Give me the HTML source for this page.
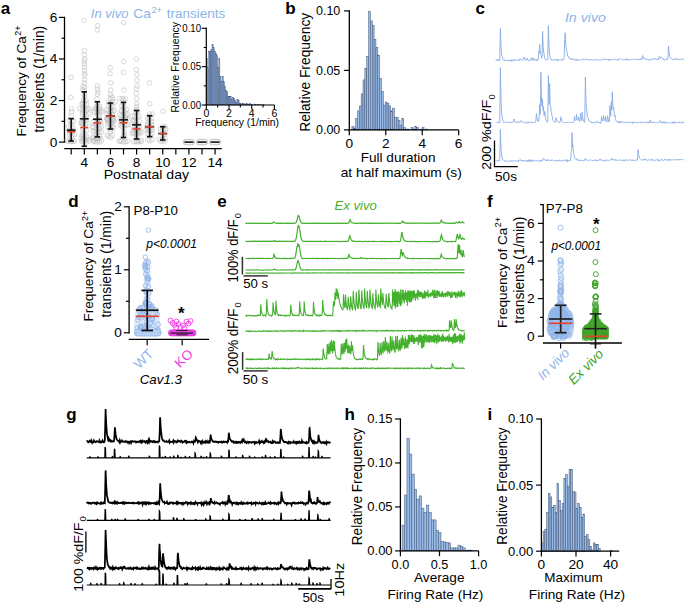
<!DOCTYPE html>
<html><head><meta charset="utf-8"><title>Figure</title>
<style>
html,body{margin:0;padding:0;background:#fff;}
body{width:685px;height:604px;overflow:hidden;}
svg{display:block;}
text{font-family:"Liberation Sans", sans-serif;}
</style></head><body>
<svg width="685" height="604" viewBox="0 0 685 604" font-family="&quot;Liberation Sans&quot;, sans-serif">
<rect width="685" height="604" fill="#fff"/>
<text x="0.80" y="13.80" font-size="17" text-anchor="start" fill="#000" font-weight="bold" >a</text>
<line x1="64.50" y1="16.80" x2="64.50" y2="142.70" stroke="#000" stroke-width="1.3" />
<line x1="59.00" y1="142.10" x2="64.50" y2="142.10" stroke="#000" stroke-width="1.2" />
<line x1="61.50" y1="121.32" x2="64.50" y2="121.32" stroke="#000" stroke-width="1.2" />
<line x1="59.00" y1="100.53" x2="64.50" y2="100.53" stroke="#000" stroke-width="1.2" />
<line x1="61.50" y1="79.75" x2="64.50" y2="79.75" stroke="#000" stroke-width="1.2" />
<line x1="59.00" y1="58.97" x2="64.50" y2="58.97" stroke="#000" stroke-width="1.2" />
<line x1="61.50" y1="38.18" x2="64.50" y2="38.18" stroke="#000" stroke-width="1.2" />
<line x1="59.00" y1="17.40" x2="64.50" y2="17.40" stroke="#000" stroke-width="1.2" />
<text x="57.30" y="146.55" font-size="13.7" text-anchor="end" fill="#000" >0</text>
<text x="57.30" y="104.98" font-size="13.7" text-anchor="end" fill="#000" >2</text>
<text x="57.30" y="63.42" font-size="13.7" text-anchor="end" fill="#000" >4</text>
<text x="57.30" y="21.85" font-size="13.7" text-anchor="end" fill="#000" >6</text>
<line x1="64.20" y1="148.70" x2="221.80" y2="148.70" stroke="#000" stroke-width="1.3" />
<line x1="71.20" y1="148.70" x2="71.20" y2="154.40" stroke="#000" stroke-width="1.2" />
<line x1="84.28" y1="148.70" x2="84.28" y2="154.40" stroke="#000" stroke-width="1.2" />
<line x1="97.36" y1="148.70" x2="97.36" y2="154.40" stroke="#000" stroke-width="1.2" />
<line x1="110.44" y1="148.70" x2="110.44" y2="154.40" stroke="#000" stroke-width="1.2" />
<line x1="123.52" y1="148.70" x2="123.52" y2="154.40" stroke="#000" stroke-width="1.2" />
<line x1="136.60" y1="148.70" x2="136.60" y2="154.40" stroke="#000" stroke-width="1.2" />
<line x1="149.68" y1="148.70" x2="149.68" y2="154.40" stroke="#000" stroke-width="1.2" />
<line x1="162.76" y1="148.70" x2="162.76" y2="154.40" stroke="#000" stroke-width="1.2" />
<line x1="175.84" y1="148.70" x2="175.84" y2="154.40" stroke="#000" stroke-width="1.2" />
<line x1="188.92" y1="148.70" x2="188.92" y2="154.40" stroke="#000" stroke-width="1.2" />
<line x1="202.00" y1="148.70" x2="202.00" y2="154.40" stroke="#000" stroke-width="1.2" />
<line x1="215.08" y1="148.70" x2="215.08" y2="154.40" stroke="#000" stroke-width="1.2" />
<text x="84.28" y="167.00" font-size="13.7" text-anchor="middle" fill="#000" >4</text>
<text x="110.44" y="167.00" font-size="13.7" text-anchor="middle" fill="#000" >6</text>
<text x="136.60" y="167.00" font-size="13.7" text-anchor="middle" fill="#000" >8</text>
<text x="162.76" y="167.00" font-size="13.7" text-anchor="middle" fill="#000" >10</text>
<text x="188.92" y="167.00" font-size="13.7" text-anchor="middle" fill="#000" >12</text>
<text x="215.08" y="167.00" font-size="13.7" text-anchor="middle" fill="#000" >14</text>
<text x="103.70" y="179.20" font-size="13.5" text-anchor="start" fill="#000" textLength="85.4" lengthAdjust="spacingAndGlyphs" >Postnatal day</text>
<text x="26.50" y="136.40" font-size="13.6" fill="#000" transform="rotate(-90 26.50 136.40)" textLength="100.3" lengthAdjust="spacingAndGlyphs">Frequency of Ca</text>
<text x="21.30" y="35.80" font-size="9.3" fill="#000" transform="rotate(-90 21.30 35.80)" textLength="10.2" lengthAdjust="spacingAndGlyphs">2+</text>
<text x="43.80" y="132.60" font-size="13.8" fill="#000" transform="rotate(-90 43.80 132.60)" textLength="106.8" lengthAdjust="spacingAndGlyphs">transients (1/min)</text>
<text x="90.80" y="17.60" font-size="13.3" text-anchor="start" fill="#8db4e8" font-style="italic" textLength="37.6" lengthAdjust="spacingAndGlyphs" >In vivo</text>
<text x="133.30" y="17.60" font-size="13.3" text-anchor="start" fill="#8db4e8" textLength="17.7" lengthAdjust="spacingAndGlyphs" >Ca</text>
<text x="151.40" y="12.60" font-size="9.3" text-anchor="start" fill="#8db4e8" textLength="10.4" lengthAdjust="spacingAndGlyphs" >2+</text>
<text x="166.70" y="17.60" font-size="13.3" text-anchor="start" fill="#8db4e8" textLength="58.6" lengthAdjust="spacingAndGlyphs" >transients</text>
<circle cx="71.0" cy="141.7" r="2.3" stroke="#b9b9b9" stroke-width="0.55" fill="none"/>
<circle cx="73.4" cy="141.4" r="2.3" stroke="#b9b9b9" stroke-width="0.55" fill="none"/>
<circle cx="68.4" cy="141.4" r="2.3" stroke="#b9b9b9" stroke-width="0.55" fill="none"/>
<circle cx="70.8" cy="141.2" r="2.3" stroke="#b9b9b9" stroke-width="0.55" fill="none"/>
<circle cx="74.4" cy="141.1" r="2.3" stroke="#b9b9b9" stroke-width="0.55" fill="none"/>
<circle cx="67.1" cy="139.9" r="2.3" stroke="#b9b9b9" stroke-width="0.55" fill="none"/>
<circle cx="71.2" cy="137.0" r="2.3" stroke="#b9b9b9" stroke-width="0.55" fill="none"/>
<circle cx="72.5" cy="135.3" r="2.3" stroke="#b9b9b9" stroke-width="0.55" fill="none"/>
<circle cx="70.0" cy="134.7" r="2.3" stroke="#b9b9b9" stroke-width="0.55" fill="none"/>
<circle cx="74.6" cy="134.6" r="2.3" stroke="#b9b9b9" stroke-width="0.55" fill="none"/>
<circle cx="71.6" cy="132.8" r="2.3" stroke="#b9b9b9" stroke-width="0.55" fill="none"/>
<circle cx="69.8" cy="132.4" r="2.3" stroke="#b9b9b9" stroke-width="0.55" fill="none"/>
<circle cx="72.7" cy="130.7" r="2.3" stroke="#b9b9b9" stroke-width="0.55" fill="none"/>
<circle cx="70.8" cy="130.2" r="2.3" stroke="#b9b9b9" stroke-width="0.55" fill="none"/>
<circle cx="71.1" cy="127.8" r="2.3" stroke="#b9b9b9" stroke-width="0.55" fill="none"/>
<circle cx="72.8" cy="126.8" r="2.3" stroke="#b9b9b9" stroke-width="0.55" fill="none"/>
<circle cx="68.6" cy="126.7" r="2.3" stroke="#b9b9b9" stroke-width="0.55" fill="none"/>
<circle cx="70.9" cy="124.4" r="2.3" stroke="#b9b9b9" stroke-width="0.55" fill="none"/>
<circle cx="71.4" cy="121.5" r="2.3" stroke="#b9b9b9" stroke-width="0.55" fill="none"/>
<circle cx="73.5" cy="121.4" r="2.3" stroke="#b9b9b9" stroke-width="0.55" fill="none"/>
<circle cx="69.7" cy="120.3" r="2.3" stroke="#b9b9b9" stroke-width="0.55" fill="none"/>
<circle cx="71.1" cy="115.8" r="2.3" stroke="#b9b9b9" stroke-width="0.55" fill="none"/>
<circle cx="71.6" cy="112.0" r="2.3" stroke="#b9b9b9" stroke-width="0.55" fill="none"/>
<circle cx="71.5" cy="108.8" r="2.3" stroke="#b9b9b9" stroke-width="0.55" fill="none"/>
<circle cx="70.8" cy="97.4" r="2.3" stroke="#b9b9b9" stroke-width="0.55" fill="none"/>
<circle cx="71.0" cy="77.3" r="2.3" stroke="#b9b9b9" stroke-width="0.55" fill="none"/>
<circle cx="84.1" cy="142.1" r="2.3" stroke="#b9b9b9" stroke-width="0.55" fill="none"/>
<circle cx="86.4" cy="142.1" r="2.3" stroke="#b9b9b9" stroke-width="0.55" fill="none"/>
<circle cx="82.1" cy="141.4" r="2.3" stroke="#b9b9b9" stroke-width="0.55" fill="none"/>
<circle cx="88.8" cy="140.9" r="2.3" stroke="#b9b9b9" stroke-width="0.55" fill="none"/>
<circle cx="81.8" cy="140.8" r="2.3" stroke="#b9b9b9" stroke-width="0.55" fill="none"/>
<circle cx="85.2" cy="140.0" r="2.3" stroke="#b9b9b9" stroke-width="0.55" fill="none"/>
<circle cx="85.2" cy="139.9" r="2.3" stroke="#b9b9b9" stroke-width="0.55" fill="none"/>
<circle cx="87.0" cy="139.1" r="2.3" stroke="#b9b9b9" stroke-width="0.55" fill="none"/>
<circle cx="82.7" cy="139.1" r="2.3" stroke="#b9b9b9" stroke-width="0.55" fill="none"/>
<circle cx="81.1" cy="138.2" r="2.3" stroke="#b9b9b9" stroke-width="0.55" fill="none"/>
<circle cx="84.1" cy="137.2" r="2.3" stroke="#b9b9b9" stroke-width="0.55" fill="none"/>
<circle cx="86.8" cy="136.7" r="2.3" stroke="#b9b9b9" stroke-width="0.55" fill="none"/>
<circle cx="82.3" cy="135.5" r="2.3" stroke="#b9b9b9" stroke-width="0.55" fill="none"/>
<circle cx="84.5" cy="134.7" r="2.3" stroke="#b9b9b9" stroke-width="0.55" fill="none"/>
<circle cx="82.6" cy="133.4" r="2.3" stroke="#b9b9b9" stroke-width="0.55" fill="none"/>
<circle cx="84.1" cy="130.6" r="2.3" stroke="#b9b9b9" stroke-width="0.55" fill="none"/>
<circle cx="86.4" cy="130.3" r="2.3" stroke="#b9b9b9" stroke-width="0.55" fill="none"/>
<circle cx="82.7" cy="129.1" r="2.3" stroke="#b9b9b9" stroke-width="0.55" fill="none"/>
<circle cx="83.9" cy="126.1" r="2.3" stroke="#b9b9b9" stroke-width="0.55" fill="none"/>
<circle cx="85.3" cy="124.5" r="2.3" stroke="#b9b9b9" stroke-width="0.55" fill="none"/>
<circle cx="83.1" cy="124.1" r="2.3" stroke="#b9b9b9" stroke-width="0.55" fill="none"/>
<circle cx="87.6" cy="123.2" r="2.3" stroke="#b9b9b9" stroke-width="0.55" fill="none"/>
<circle cx="80.8" cy="123.1" r="2.3" stroke="#b9b9b9" stroke-width="0.55" fill="none"/>
<circle cx="82.6" cy="123.1" r="2.3" stroke="#b9b9b9" stroke-width="0.55" fill="none"/>
<circle cx="81.2" cy="122.5" r="2.3" stroke="#b9b9b9" stroke-width="0.55" fill="none"/>
<circle cx="84.1" cy="121.8" r="2.3" stroke="#b9b9b9" stroke-width="0.55" fill="none"/>
<circle cx="83.4" cy="121.6" r="2.3" stroke="#b9b9b9" stroke-width="0.55" fill="none"/>
<circle cx="85.8" cy="120.7" r="2.3" stroke="#b9b9b9" stroke-width="0.55" fill="none"/>
<circle cx="84.2" cy="118.5" r="2.3" stroke="#b9b9b9" stroke-width="0.55" fill="none"/>
<circle cx="84.3" cy="116.2" r="2.3" stroke="#b9b9b9" stroke-width="0.55" fill="none"/>
<circle cx="86.4" cy="115.2" r="2.3" stroke="#b9b9b9" stroke-width="0.55" fill="none"/>
<circle cx="82.4" cy="114.7" r="2.3" stroke="#b9b9b9" stroke-width="0.55" fill="none"/>
<circle cx="88.8" cy="114.1" r="2.3" stroke="#b9b9b9" stroke-width="0.55" fill="none"/>
<circle cx="84.7" cy="113.2" r="2.3" stroke="#b9b9b9" stroke-width="0.55" fill="none"/>
<circle cx="82.6" cy="112.4" r="2.3" stroke="#b9b9b9" stroke-width="0.55" fill="none"/>
<circle cx="84.4" cy="110.6" r="2.3" stroke="#b9b9b9" stroke-width="0.55" fill="none"/>
<circle cx="86.7" cy="110.3" r="2.3" stroke="#b9b9b9" stroke-width="0.55" fill="none"/>
<circle cx="82.2" cy="109.3" r="2.3" stroke="#b9b9b9" stroke-width="0.55" fill="none"/>
<circle cx="88.1" cy="108.9" r="2.3" stroke="#b9b9b9" stroke-width="0.55" fill="none"/>
<circle cx="79.7" cy="108.8" r="2.3" stroke="#b9b9b9" stroke-width="0.55" fill="none"/>
<circle cx="88.2" cy="108.7" r="2.3" stroke="#b9b9b9" stroke-width="0.55" fill="none"/>
<circle cx="84.7" cy="108.3" r="2.3" stroke="#b9b9b9" stroke-width="0.55" fill="none"/>
<circle cx="83.3" cy="106.3" r="2.3" stroke="#b9b9b9" stroke-width="0.55" fill="none"/>
<circle cx="84.4" cy="104.4" r="2.3" stroke="#b9b9b9" stroke-width="0.55" fill="none"/>
<circle cx="86.7" cy="103.9" r="2.3" stroke="#b9b9b9" stroke-width="0.55" fill="none"/>
<circle cx="82.1" cy="103.8" r="2.3" stroke="#b9b9b9" stroke-width="0.55" fill="none"/>
<circle cx="83.0" cy="103.3" r="2.3" stroke="#b9b9b9" stroke-width="0.55" fill="none"/>
<circle cx="84.5" cy="101.9" r="2.3" stroke="#b9b9b9" stroke-width="0.55" fill="none"/>
<circle cx="86.1" cy="100.5" r="2.3" stroke="#b9b9b9" stroke-width="0.55" fill="none"/>
<circle cx="83.3" cy="100.4" r="2.3" stroke="#b9b9b9" stroke-width="0.55" fill="none"/>
<circle cx="84.6" cy="96.8" r="2.3" stroke="#b9b9b9" stroke-width="0.55" fill="none"/>
<circle cx="84.5" cy="94.6" r="2.3" stroke="#b9b9b9" stroke-width="0.55" fill="none"/>
<circle cx="84.4" cy="90.8" r="2.3" stroke="#b9b9b9" stroke-width="0.55" fill="none"/>
<circle cx="82.7" cy="89.9" r="2.3" stroke="#b9b9b9" stroke-width="0.55" fill="none"/>
<circle cx="84.6" cy="87.6" r="2.3" stroke="#b9b9b9" stroke-width="0.55" fill="none"/>
<circle cx="83.0" cy="86.0" r="2.3" stroke="#b9b9b9" stroke-width="0.55" fill="none"/>
<circle cx="84.4" cy="82.9" r="2.3" stroke="#b9b9b9" stroke-width="0.55" fill="none"/>
<circle cx="84.6" cy="79.8" r="2.3" stroke="#b9b9b9" stroke-width="0.55" fill="none"/>
<circle cx="84.6" cy="75.6" r="2.3" stroke="#b9b9b9" stroke-width="0.55" fill="none"/>
<circle cx="84.8" cy="73.5" r="2.3" stroke="#b9b9b9" stroke-width="0.55" fill="none"/>
<circle cx="84.5" cy="70.4" r="2.3" stroke="#b9b9b9" stroke-width="0.55" fill="none"/>
<circle cx="84.6" cy="67.3" r="2.3" stroke="#b9b9b9" stroke-width="0.55" fill="none"/>
<circle cx="84.3" cy="64.2" r="2.3" stroke="#b9b9b9" stroke-width="0.55" fill="none"/>
<circle cx="84.4" cy="61.0" r="2.3" stroke="#b9b9b9" stroke-width="0.55" fill="none"/>
<circle cx="84.8" cy="59.0" r="2.3" stroke="#b9b9b9" stroke-width="0.55" fill="none"/>
<circle cx="84.3" cy="54.8" r="2.3" stroke="#b9b9b9" stroke-width="0.55" fill="none"/>
<circle cx="84.4" cy="50.7" r="2.3" stroke="#b9b9b9" stroke-width="0.55" fill="none"/>
<circle cx="83.9" cy="20.5" r="2.3" stroke="#b9b9b9" stroke-width="0.55" fill="none"/>
<circle cx="97.4" cy="142.0" r="2.3" stroke="#b9b9b9" stroke-width="0.55" fill="none"/>
<circle cx="99.6" cy="141.9" r="2.3" stroke="#b9b9b9" stroke-width="0.55" fill="none"/>
<circle cx="95.2" cy="141.8" r="2.3" stroke="#b9b9b9" stroke-width="0.55" fill="none"/>
<circle cx="93.5" cy="141.3" r="2.3" stroke="#b9b9b9" stroke-width="0.55" fill="none"/>
<circle cx="101.5" cy="140.4" r="2.3" stroke="#b9b9b9" stroke-width="0.55" fill="none"/>
<circle cx="93.1" cy="140.1" r="2.3" stroke="#b9b9b9" stroke-width="0.55" fill="none"/>
<circle cx="97.7" cy="139.6" r="2.3" stroke="#b9b9b9" stroke-width="0.55" fill="none"/>
<circle cx="95.2" cy="138.9" r="2.3" stroke="#b9b9b9" stroke-width="0.55" fill="none"/>
<circle cx="99.9" cy="138.5" r="2.3" stroke="#b9b9b9" stroke-width="0.55" fill="none"/>
<circle cx="97.9" cy="138.3" r="2.3" stroke="#b9b9b9" stroke-width="0.55" fill="none"/>
<circle cx="93.4" cy="137.8" r="2.3" stroke="#b9b9b9" stroke-width="0.55" fill="none"/>
<circle cx="92.6" cy="137.5" r="2.3" stroke="#b9b9b9" stroke-width="0.55" fill="none"/>
<circle cx="96.6" cy="137.3" r="2.3" stroke="#b9b9b9" stroke-width="0.55" fill="none"/>
<circle cx="99.4" cy="136.4" r="2.3" stroke="#b9b9b9" stroke-width="0.55" fill="none"/>
<circle cx="97.1" cy="133.7" r="2.3" stroke="#b9b9b9" stroke-width="0.55" fill="none"/>
<circle cx="98.9" cy="132.5" r="2.3" stroke="#b9b9b9" stroke-width="0.55" fill="none"/>
<circle cx="95.2" cy="132.1" r="2.3" stroke="#b9b9b9" stroke-width="0.55" fill="none"/>
<circle cx="101.1" cy="132.0" r="2.3" stroke="#b9b9b9" stroke-width="0.55" fill="none"/>
<circle cx="97.0" cy="131.8" r="2.3" stroke="#b9b9b9" stroke-width="0.55" fill="none"/>
<circle cx="93.3" cy="131.2" r="2.3" stroke="#b9b9b9" stroke-width="0.55" fill="none"/>
<circle cx="97.6" cy="128.8" r="2.3" stroke="#b9b9b9" stroke-width="0.55" fill="none"/>
<circle cx="100.1" cy="128.6" r="2.3" stroke="#b9b9b9" stroke-width="0.55" fill="none"/>
<circle cx="95.7" cy="128.2" r="2.3" stroke="#b9b9b9" stroke-width="0.55" fill="none"/>
<circle cx="92.9" cy="127.6" r="2.3" stroke="#b9b9b9" stroke-width="0.55" fill="none"/>
<circle cx="98.5" cy="126.9" r="2.3" stroke="#b9b9b9" stroke-width="0.55" fill="none"/>
<circle cx="101.3" cy="126.8" r="2.3" stroke="#b9b9b9" stroke-width="0.55" fill="none"/>
<circle cx="92.8" cy="126.4" r="2.3" stroke="#b9b9b9" stroke-width="0.55" fill="none"/>
<circle cx="97.5" cy="124.7" r="2.3" stroke="#b9b9b9" stroke-width="0.55" fill="none"/>
<circle cx="95.9" cy="123.0" r="2.3" stroke="#b9b9b9" stroke-width="0.55" fill="none"/>
<circle cx="98.4" cy="122.6" r="2.3" stroke="#b9b9b9" stroke-width="0.55" fill="none"/>
<circle cx="100.8" cy="122.3" r="2.3" stroke="#b9b9b9" stroke-width="0.55" fill="none"/>
<circle cx="93.9" cy="122.0" r="2.3" stroke="#b9b9b9" stroke-width="0.55" fill="none"/>
<circle cx="97.4" cy="120.0" r="2.3" stroke="#b9b9b9" stroke-width="0.55" fill="none"/>
<circle cx="99.9" cy="119.5" r="2.3" stroke="#b9b9b9" stroke-width="0.55" fill="none"/>
<circle cx="97.6" cy="115.2" r="2.3" stroke="#b9b9b9" stroke-width="0.55" fill="none"/>
<circle cx="99.7" cy="114.6" r="2.3" stroke="#b9b9b9" stroke-width="0.55" fill="none"/>
<circle cx="97.6" cy="112.4" r="2.3" stroke="#b9b9b9" stroke-width="0.55" fill="none"/>
<circle cx="100.1" cy="112.2" r="2.3" stroke="#b9b9b9" stroke-width="0.55" fill="none"/>
<circle cx="94.6" cy="112.1" r="2.3" stroke="#b9b9b9" stroke-width="0.55" fill="none"/>
<circle cx="101.5" cy="111.6" r="2.3" stroke="#b9b9b9" stroke-width="0.55" fill="none"/>
<circle cx="93.9" cy="111.0" r="2.3" stroke="#b9b9b9" stroke-width="0.55" fill="none"/>
<circle cx="98.8" cy="110.9" r="2.3" stroke="#b9b9b9" stroke-width="0.55" fill="none"/>
<circle cx="96.7" cy="109.7" r="2.3" stroke="#b9b9b9" stroke-width="0.55" fill="none"/>
<circle cx="100.4" cy="109.2" r="2.3" stroke="#b9b9b9" stroke-width="0.55" fill="none"/>
<circle cx="94.7" cy="108.6" r="2.3" stroke="#b9b9b9" stroke-width="0.55" fill="none"/>
<circle cx="98.2" cy="108.0" r="2.3" stroke="#b9b9b9" stroke-width="0.55" fill="none"/>
<circle cx="96.5" cy="106.5" r="2.3" stroke="#b9b9b9" stroke-width="0.55" fill="none"/>
<circle cx="99.7" cy="106.5" r="2.3" stroke="#b9b9b9" stroke-width="0.55" fill="none"/>
<circle cx="97.5" cy="104.5" r="2.3" stroke="#b9b9b9" stroke-width="0.55" fill="none"/>
<circle cx="97.1" cy="98.8" r="2.3" stroke="#b9b9b9" stroke-width="0.55" fill="none"/>
<circle cx="97.5" cy="94.3" r="2.3" stroke="#b9b9b9" stroke-width="0.55" fill="none"/>
<circle cx="98.2" cy="92.2" r="2.3" stroke="#b9b9b9" stroke-width="0.55" fill="none"/>
<circle cx="97.5" cy="89.1" r="2.3" stroke="#b9b9b9" stroke-width="0.55" fill="none"/>
<circle cx="97.5" cy="86.0" r="2.3" stroke="#b9b9b9" stroke-width="0.55" fill="none"/>
<circle cx="97.1" cy="29.9" r="2.3" stroke="#b9b9b9" stroke-width="0.55" fill="none"/>
<circle cx="97.7" cy="25.7" r="2.3" stroke="#b9b9b9" stroke-width="0.55" fill="none"/>
<circle cx="110.8" cy="137.2" r="2.3" stroke="#b9b9b9" stroke-width="0.55" fill="none"/>
<circle cx="108.7" cy="136.6" r="2.3" stroke="#b9b9b9" stroke-width="0.55" fill="none"/>
<circle cx="112.2" cy="135.5" r="2.3" stroke="#b9b9b9" stroke-width="0.55" fill="none"/>
<circle cx="107.1" cy="135.1" r="2.3" stroke="#b9b9b9" stroke-width="0.55" fill="none"/>
<circle cx="110.5" cy="131.5" r="2.3" stroke="#b9b9b9" stroke-width="0.55" fill="none"/>
<circle cx="112.2" cy="129.9" r="2.3" stroke="#b9b9b9" stroke-width="0.55" fill="none"/>
<circle cx="110.0" cy="128.9" r="2.3" stroke="#b9b9b9" stroke-width="0.55" fill="none"/>
<circle cx="111.3" cy="127.4" r="2.3" stroke="#b9b9b9" stroke-width="0.55" fill="none"/>
<circle cx="108.1" cy="127.3" r="2.3" stroke="#b9b9b9" stroke-width="0.55" fill="none"/>
<circle cx="113.4" cy="126.9" r="2.3" stroke="#b9b9b9" stroke-width="0.55" fill="none"/>
<circle cx="110.2" cy="125.5" r="2.3" stroke="#b9b9b9" stroke-width="0.55" fill="none"/>
<circle cx="112.6" cy="124.9" r="2.3" stroke="#b9b9b9" stroke-width="0.55" fill="none"/>
<circle cx="110.3" cy="123.4" r="2.3" stroke="#b9b9b9" stroke-width="0.55" fill="none"/>
<circle cx="108.0" cy="123.2" r="2.3" stroke="#b9b9b9" stroke-width="0.55" fill="none"/>
<circle cx="111.9" cy="122.6" r="2.3" stroke="#b9b9b9" stroke-width="0.55" fill="none"/>
<circle cx="109.8" cy="121.1" r="2.3" stroke="#b9b9b9" stroke-width="0.55" fill="none"/>
<circle cx="113.7" cy="121.1" r="2.3" stroke="#b9b9b9" stroke-width="0.55" fill="none"/>
<circle cx="107.8" cy="120.9" r="2.3" stroke="#b9b9b9" stroke-width="0.55" fill="none"/>
<circle cx="110.1" cy="120.7" r="2.3" stroke="#b9b9b9" stroke-width="0.55" fill="none"/>
<circle cx="107.7" cy="120.3" r="2.3" stroke="#b9b9b9" stroke-width="0.55" fill="none"/>
<circle cx="114.1" cy="120.3" r="2.3" stroke="#b9b9b9" stroke-width="0.55" fill="none"/>
<circle cx="112.6" cy="119.8" r="2.3" stroke="#b9b9b9" stroke-width="0.55" fill="none"/>
<circle cx="107.4" cy="119.4" r="2.3" stroke="#b9b9b9" stroke-width="0.55" fill="none"/>
<circle cx="112.0" cy="119.2" r="2.3" stroke="#b9b9b9" stroke-width="0.55" fill="none"/>
<circle cx="109.2" cy="119.1" r="2.3" stroke="#b9b9b9" stroke-width="0.55" fill="none"/>
<circle cx="107.0" cy="118.5" r="2.3" stroke="#b9b9b9" stroke-width="0.55" fill="none"/>
<circle cx="107.0" cy="118.3" r="2.3" stroke="#b9b9b9" stroke-width="0.55" fill="none"/>
<circle cx="113.8" cy="117.9" r="2.3" stroke="#b9b9b9" stroke-width="0.55" fill="none"/>
<circle cx="110.2" cy="116.1" r="2.3" stroke="#b9b9b9" stroke-width="0.55" fill="none"/>
<circle cx="112.3" cy="114.8" r="2.3" stroke="#b9b9b9" stroke-width="0.55" fill="none"/>
<circle cx="109.2" cy="114.1" r="2.3" stroke="#b9b9b9" stroke-width="0.55" fill="none"/>
<circle cx="106.7" cy="113.8" r="2.3" stroke="#b9b9b9" stroke-width="0.55" fill="none"/>
<circle cx="110.4" cy="112.1" r="2.3" stroke="#b9b9b9" stroke-width="0.55" fill="none"/>
<circle cx="112.9" cy="111.6" r="2.3" stroke="#b9b9b9" stroke-width="0.55" fill="none"/>
<circle cx="107.8" cy="111.2" r="2.3" stroke="#b9b9b9" stroke-width="0.55" fill="none"/>
<circle cx="114.4" cy="110.4" r="2.3" stroke="#b9b9b9" stroke-width="0.55" fill="none"/>
<circle cx="111.1" cy="110.0" r="2.3" stroke="#b9b9b9" stroke-width="0.55" fill="none"/>
<circle cx="106.4" cy="109.6" r="2.3" stroke="#b9b9b9" stroke-width="0.55" fill="none"/>
<circle cx="110.5" cy="107.9" r="2.3" stroke="#b9b9b9" stroke-width="0.55" fill="none"/>
<circle cx="112.5" cy="106.7" r="2.3" stroke="#b9b9b9" stroke-width="0.55" fill="none"/>
<circle cx="110.5" cy="105.6" r="2.3" stroke="#b9b9b9" stroke-width="0.55" fill="none"/>
<circle cx="108.3" cy="105.3" r="2.3" stroke="#b9b9b9" stroke-width="0.55" fill="none"/>
<circle cx="110.2" cy="103.4" r="2.3" stroke="#b9b9b9" stroke-width="0.55" fill="none"/>
<circle cx="112.4" cy="102.2" r="2.3" stroke="#b9b9b9" stroke-width="0.55" fill="none"/>
<circle cx="108.3" cy="102.1" r="2.3" stroke="#b9b9b9" stroke-width="0.55" fill="none"/>
<circle cx="115.0" cy="102.1" r="2.3" stroke="#b9b9b9" stroke-width="0.55" fill="none"/>
<circle cx="110.3" cy="98.5" r="2.3" stroke="#b9b9b9" stroke-width="0.55" fill="none"/>
<circle cx="112.7" cy="97.9" r="2.3" stroke="#b9b9b9" stroke-width="0.55" fill="none"/>
<circle cx="111.4" cy="96.4" r="2.3" stroke="#b9b9b9" stroke-width="0.55" fill="none"/>
<circle cx="110.2" cy="94.3" r="2.3" stroke="#b9b9b9" stroke-width="0.55" fill="none"/>
<circle cx="110.8" cy="90.1" r="2.3" stroke="#b9b9b9" stroke-width="0.55" fill="none"/>
<circle cx="110.8" cy="82.9" r="2.3" stroke="#b9b9b9" stroke-width="0.55" fill="none"/>
<circle cx="110.1" cy="73.7" r="2.3" stroke="#b9b9b9" stroke-width="0.55" fill="none"/>
<circle cx="110.2" cy="67.7" r="2.3" stroke="#b9b9b9" stroke-width="0.55" fill="none"/>
<circle cx="123.8" cy="142.0" r="2.3" stroke="#b9b9b9" stroke-width="0.55" fill="none"/>
<circle cx="125.7" cy="141.8" r="2.3" stroke="#b9b9b9" stroke-width="0.55" fill="none"/>
<circle cx="121.7" cy="141.4" r="2.3" stroke="#b9b9b9" stroke-width="0.55" fill="none"/>
<circle cx="127.9" cy="141.3" r="2.3" stroke="#b9b9b9" stroke-width="0.55" fill="none"/>
<circle cx="119.2" cy="141.3" r="2.3" stroke="#b9b9b9" stroke-width="0.55" fill="none"/>
<circle cx="120.4" cy="140.6" r="2.3" stroke="#b9b9b9" stroke-width="0.55" fill="none"/>
<circle cx="123.5" cy="136.7" r="2.3" stroke="#b9b9b9" stroke-width="0.55" fill="none"/>
<circle cx="124.3" cy="134.8" r="2.3" stroke="#b9b9b9" stroke-width="0.55" fill="none"/>
<circle cx="123.8" cy="132.1" r="2.3" stroke="#b9b9b9" stroke-width="0.55" fill="none"/>
<circle cx="123.8" cy="128.0" r="2.3" stroke="#b9b9b9" stroke-width="0.55" fill="none"/>
<circle cx="121.9" cy="126.8" r="2.3" stroke="#b9b9b9" stroke-width="0.55" fill="none"/>
<circle cx="124.4" cy="125.5" r="2.3" stroke="#b9b9b9" stroke-width="0.55" fill="none"/>
<circle cx="126.6" cy="125.1" r="2.3" stroke="#b9b9b9" stroke-width="0.55" fill="none"/>
<circle cx="120.4" cy="125.0" r="2.3" stroke="#b9b9b9" stroke-width="0.55" fill="none"/>
<circle cx="124.4" cy="124.7" r="2.3" stroke="#b9b9b9" stroke-width="0.55" fill="none"/>
<circle cx="128.2" cy="124.6" r="2.3" stroke="#b9b9b9" stroke-width="0.55" fill="none"/>
<circle cx="122.1" cy="123.9" r="2.3" stroke="#b9b9b9" stroke-width="0.55" fill="none"/>
<circle cx="123.8" cy="121.8" r="2.3" stroke="#b9b9b9" stroke-width="0.55" fill="none"/>
<circle cx="121.9" cy="121.5" r="2.3" stroke="#b9b9b9" stroke-width="0.55" fill="none"/>
<circle cx="126.1" cy="120.7" r="2.3" stroke="#b9b9b9" stroke-width="0.55" fill="none"/>
<circle cx="123.8" cy="119.6" r="2.3" stroke="#b9b9b9" stroke-width="0.55" fill="none"/>
<circle cx="120.4" cy="119.6" r="2.3" stroke="#b9b9b9" stroke-width="0.55" fill="none"/>
<circle cx="127.4" cy="118.9" r="2.3" stroke="#b9b9b9" stroke-width="0.55" fill="none"/>
<circle cx="125.6" cy="118.1" r="2.3" stroke="#b9b9b9" stroke-width="0.55" fill="none"/>
<circle cx="125.5" cy="118.1" r="2.3" stroke="#b9b9b9" stroke-width="0.55" fill="none"/>
<circle cx="123.7" cy="116.7" r="2.3" stroke="#b9b9b9" stroke-width="0.55" fill="none"/>
<circle cx="121.6" cy="116.0" r="2.3" stroke="#b9b9b9" stroke-width="0.55" fill="none"/>
<circle cx="126.1" cy="115.6" r="2.3" stroke="#b9b9b9" stroke-width="0.55" fill="none"/>
<circle cx="119.6" cy="114.8" r="2.3" stroke="#b9b9b9" stroke-width="0.55" fill="none"/>
<circle cx="123.4" cy="114.2" r="2.3" stroke="#b9b9b9" stroke-width="0.55" fill="none"/>
<circle cx="127.1" cy="113.7" r="2.3" stroke="#b9b9b9" stroke-width="0.55" fill="none"/>
<circle cx="123.1" cy="111.6" r="2.3" stroke="#b9b9b9" stroke-width="0.55" fill="none"/>
<circle cx="125.2" cy="111.4" r="2.3" stroke="#b9b9b9" stroke-width="0.55" fill="none"/>
<circle cx="121.2" cy="110.4" r="2.3" stroke="#b9b9b9" stroke-width="0.55" fill="none"/>
<circle cx="126.6" cy="109.6" r="2.3" stroke="#b9b9b9" stroke-width="0.55" fill="none"/>
<circle cx="123.3" cy="108.8" r="2.3" stroke="#b9b9b9" stroke-width="0.55" fill="none"/>
<circle cx="123.9" cy="106.1" r="2.3" stroke="#b9b9b9" stroke-width="0.55" fill="none"/>
<circle cx="121.9" cy="105.8" r="2.3" stroke="#b9b9b9" stroke-width="0.55" fill="none"/>
<circle cx="123.4" cy="103.4" r="2.3" stroke="#b9b9b9" stroke-width="0.55" fill="none"/>
<circle cx="123.6" cy="100.1" r="2.3" stroke="#b9b9b9" stroke-width="0.55" fill="none"/>
<circle cx="122.4" cy="98.5" r="2.3" stroke="#b9b9b9" stroke-width="0.55" fill="none"/>
<circle cx="125.3" cy="98.4" r="2.3" stroke="#b9b9b9" stroke-width="0.55" fill="none"/>
<circle cx="119.8" cy="98.4" r="2.3" stroke="#b9b9b9" stroke-width="0.55" fill="none"/>
<circle cx="123.9" cy="90.1" r="2.3" stroke="#b9b9b9" stroke-width="0.55" fill="none"/>
<circle cx="123.6" cy="72.3" r="2.3" stroke="#b9b9b9" stroke-width="0.55" fill="none"/>
<circle cx="123.7" cy="61.5" r="2.3" stroke="#b9b9b9" stroke-width="0.55" fill="none"/>
<circle cx="123.7" cy="22.6" r="2.3" stroke="#b9b9b9" stroke-width="0.55" fill="none"/>
<circle cx="136.4" cy="141.9" r="2.3" stroke="#b9b9b9" stroke-width="0.55" fill="none"/>
<circle cx="138.6" cy="141.8" r="2.3" stroke="#b9b9b9" stroke-width="0.55" fill="none"/>
<circle cx="133.9" cy="141.6" r="2.3" stroke="#b9b9b9" stroke-width="0.55" fill="none"/>
<circle cx="141.0" cy="141.5" r="2.3" stroke="#b9b9b9" stroke-width="0.55" fill="none"/>
<circle cx="135.9" cy="141.3" r="2.3" stroke="#b9b9b9" stroke-width="0.55" fill="none"/>
<circle cx="138.5" cy="140.9" r="2.3" stroke="#b9b9b9" stroke-width="0.55" fill="none"/>
<circle cx="141.5" cy="140.7" r="2.3" stroke="#b9b9b9" stroke-width="0.55" fill="none"/>
<circle cx="136.3" cy="138.3" r="2.3" stroke="#b9b9b9" stroke-width="0.55" fill="none"/>
<circle cx="136.9" cy="136.0" r="2.3" stroke="#b9b9b9" stroke-width="0.55" fill="none"/>
<circle cx="136.5" cy="133.8" r="2.3" stroke="#b9b9b9" stroke-width="0.55" fill="none"/>
<circle cx="139.0" cy="133.8" r="2.3" stroke="#b9b9b9" stroke-width="0.55" fill="none"/>
<circle cx="134.6" cy="133.6" r="2.3" stroke="#b9b9b9" stroke-width="0.55" fill="none"/>
<circle cx="132.2" cy="133.3" r="2.3" stroke="#b9b9b9" stroke-width="0.55" fill="none"/>
<circle cx="137.2" cy="133.2" r="2.3" stroke="#b9b9b9" stroke-width="0.55" fill="none"/>
<circle cx="141.0" cy="132.4" r="2.3" stroke="#b9b9b9" stroke-width="0.55" fill="none"/>
<circle cx="136.7" cy="132.4" r="2.3" stroke="#b9b9b9" stroke-width="0.55" fill="none"/>
<circle cx="139.6" cy="131.9" r="2.3" stroke="#b9b9b9" stroke-width="0.55" fill="none"/>
<circle cx="133.2" cy="131.9" r="2.3" stroke="#b9b9b9" stroke-width="0.55" fill="none"/>
<circle cx="136.6" cy="129.6" r="2.3" stroke="#b9b9b9" stroke-width="0.55" fill="none"/>
<circle cx="138.8" cy="129.6" r="2.3" stroke="#b9b9b9" stroke-width="0.55" fill="none"/>
<circle cx="133.8" cy="129.6" r="2.3" stroke="#b9b9b9" stroke-width="0.55" fill="none"/>
<circle cx="136.6" cy="129.4" r="2.3" stroke="#b9b9b9" stroke-width="0.55" fill="none"/>
<circle cx="136.2" cy="129.2" r="2.3" stroke="#b9b9b9" stroke-width="0.55" fill="none"/>
<circle cx="137.2" cy="127.1" r="2.3" stroke="#b9b9b9" stroke-width="0.55" fill="none"/>
<circle cx="134.6" cy="126.9" r="2.3" stroke="#b9b9b9" stroke-width="0.55" fill="none"/>
<circle cx="139.7" cy="126.4" r="2.3" stroke="#b9b9b9" stroke-width="0.55" fill="none"/>
<circle cx="132.3" cy="126.3" r="2.3" stroke="#b9b9b9" stroke-width="0.55" fill="none"/>
<circle cx="136.8" cy="124.9" r="2.3" stroke="#b9b9b9" stroke-width="0.55" fill="none"/>
<circle cx="136.6" cy="121.7" r="2.3" stroke="#b9b9b9" stroke-width="0.55" fill="none"/>
<circle cx="139.4" cy="121.2" r="2.3" stroke="#b9b9b9" stroke-width="0.55" fill="none"/>
<circle cx="134.6" cy="121.1" r="2.3" stroke="#b9b9b9" stroke-width="0.55" fill="none"/>
<circle cx="132.6" cy="120.9" r="2.3" stroke="#b9b9b9" stroke-width="0.55" fill="none"/>
<circle cx="133.9" cy="120.7" r="2.3" stroke="#b9b9b9" stroke-width="0.55" fill="none"/>
<circle cx="136.9" cy="116.7" r="2.3" stroke="#b9b9b9" stroke-width="0.55" fill="none"/>
<circle cx="135.0" cy="116.3" r="2.3" stroke="#b9b9b9" stroke-width="0.55" fill="none"/>
<circle cx="139.1" cy="115.9" r="2.3" stroke="#b9b9b9" stroke-width="0.55" fill="none"/>
<circle cx="132.3" cy="115.8" r="2.3" stroke="#b9b9b9" stroke-width="0.55" fill="none"/>
<circle cx="136.4" cy="112.6" r="2.3" stroke="#b9b9b9" stroke-width="0.55" fill="none"/>
<circle cx="137.3" cy="110.6" r="2.3" stroke="#b9b9b9" stroke-width="0.55" fill="none"/>
<circle cx="136.1" cy="109.0" r="2.3" stroke="#b9b9b9" stroke-width="0.55" fill="none"/>
<circle cx="136.7" cy="106.8" r="2.3" stroke="#b9b9b9" stroke-width="0.55" fill="none"/>
<circle cx="136.7" cy="103.7" r="2.3" stroke="#b9b9b9" stroke-width="0.55" fill="none"/>
<circle cx="136.8" cy="98.5" r="2.3" stroke="#b9b9b9" stroke-width="0.55" fill="none"/>
<circle cx="136.4" cy="93.3" r="2.3" stroke="#b9b9b9" stroke-width="0.55" fill="none"/>
<circle cx="136.4" cy="89.1" r="2.3" stroke="#b9b9b9" stroke-width="0.55" fill="none"/>
<circle cx="137.0" cy="86.0" r="2.3" stroke="#b9b9b9" stroke-width="0.55" fill="none"/>
<circle cx="136.9" cy="80.4" r="2.3" stroke="#b9b9b9" stroke-width="0.55" fill="none"/>
<circle cx="136.9" cy="74.6" r="2.3" stroke="#b9b9b9" stroke-width="0.55" fill="none"/>
<circle cx="136.2" cy="69.6" r="2.3" stroke="#b9b9b9" stroke-width="0.55" fill="none"/>
<circle cx="136.2" cy="59.0" r="2.3" stroke="#b9b9b9" stroke-width="0.55" fill="none"/>
<circle cx="149.9" cy="141.0" r="2.3" stroke="#b9b9b9" stroke-width="0.55" fill="none"/>
<circle cx="147.8" cy="140.0" r="2.3" stroke="#b9b9b9" stroke-width="0.55" fill="none"/>
<circle cx="152.2" cy="139.6" r="2.3" stroke="#b9b9b9" stroke-width="0.55" fill="none"/>
<circle cx="150.1" cy="134.6" r="2.3" stroke="#b9b9b9" stroke-width="0.55" fill="none"/>
<circle cx="147.7" cy="133.5" r="2.3" stroke="#b9b9b9" stroke-width="0.55" fill="none"/>
<circle cx="152.1" cy="133.5" r="2.3" stroke="#b9b9b9" stroke-width="0.55" fill="none"/>
<circle cx="149.9" cy="131.1" r="2.3" stroke="#b9b9b9" stroke-width="0.55" fill="none"/>
<circle cx="148.2" cy="130.4" r="2.3" stroke="#b9b9b9" stroke-width="0.55" fill="none"/>
<circle cx="152.0" cy="130.0" r="2.3" stroke="#b9b9b9" stroke-width="0.55" fill="none"/>
<circle cx="146.0" cy="129.9" r="2.3" stroke="#b9b9b9" stroke-width="0.55" fill="none"/>
<circle cx="149.4" cy="128.1" r="2.3" stroke="#b9b9b9" stroke-width="0.55" fill="none"/>
<circle cx="151.8" cy="127.7" r="2.3" stroke="#b9b9b9" stroke-width="0.55" fill="none"/>
<circle cx="146.9" cy="127.3" r="2.3" stroke="#b9b9b9" stroke-width="0.55" fill="none"/>
<circle cx="149.3" cy="125.9" r="2.3" stroke="#b9b9b9" stroke-width="0.55" fill="none"/>
<circle cx="151.5" cy="124.5" r="2.3" stroke="#b9b9b9" stroke-width="0.55" fill="none"/>
<circle cx="147.3" cy="124.5" r="2.3" stroke="#b9b9b9" stroke-width="0.55" fill="none"/>
<circle cx="149.8" cy="123.2" r="2.3" stroke="#b9b9b9" stroke-width="0.55" fill="none"/>
<circle cx="147.7" cy="122.2" r="2.3" stroke="#b9b9b9" stroke-width="0.55" fill="none"/>
<circle cx="151.7" cy="121.7" r="2.3" stroke="#b9b9b9" stroke-width="0.55" fill="none"/>
<circle cx="149.3" cy="119.0" r="2.3" stroke="#b9b9b9" stroke-width="0.55" fill="none"/>
<circle cx="151.3" cy="118.6" r="2.3" stroke="#b9b9b9" stroke-width="0.55" fill="none"/>
<circle cx="147.4" cy="117.9" r="2.3" stroke="#b9b9b9" stroke-width="0.55" fill="none"/>
<circle cx="149.3" cy="116.4" r="2.3" stroke="#b9b9b9" stroke-width="0.55" fill="none"/>
<circle cx="149.5" cy="114.0" r="2.3" stroke="#b9b9b9" stroke-width="0.55" fill="none"/>
<circle cx="152.3" cy="114.0" r="2.3" stroke="#b9b9b9" stroke-width="0.55" fill="none"/>
<circle cx="149.8" cy="103.7" r="2.3" stroke="#b9b9b9" stroke-width="0.55" fill="none"/>
<circle cx="149.5" cy="82.9" r="2.3" stroke="#b9b9b9" stroke-width="0.55" fill="none"/>
<circle cx="163.1" cy="141.6" r="2.3" stroke="#b9b9b9" stroke-width="0.55" fill="none"/>
<circle cx="160.8" cy="141.2" r="2.3" stroke="#b9b9b9" stroke-width="0.55" fill="none"/>
<circle cx="165.0" cy="140.9" r="2.3" stroke="#b9b9b9" stroke-width="0.55" fill="none"/>
<circle cx="162.7" cy="139.4" r="2.3" stroke="#b9b9b9" stroke-width="0.55" fill="none"/>
<circle cx="159.1" cy="139.4" r="2.3" stroke="#b9b9b9" stroke-width="0.55" fill="none"/>
<circle cx="165.1" cy="138.6" r="2.3" stroke="#b9b9b9" stroke-width="0.55" fill="none"/>
<circle cx="162.7" cy="135.4" r="2.3" stroke="#b9b9b9" stroke-width="0.55" fill="none"/>
<circle cx="164.3" cy="134.5" r="2.3" stroke="#b9b9b9" stroke-width="0.55" fill="none"/>
<circle cx="162.8" cy="130.0" r="2.3" stroke="#b9b9b9" stroke-width="0.55" fill="none"/>
<circle cx="165.4" cy="129.4" r="2.3" stroke="#b9b9b9" stroke-width="0.55" fill="none"/>
<circle cx="160.4" cy="129.0" r="2.3" stroke="#b9b9b9" stroke-width="0.55" fill="none"/>
<circle cx="165.9" cy="128.5" r="2.3" stroke="#b9b9b9" stroke-width="0.55" fill="none"/>
<circle cx="162.5" cy="127.1" r="2.3" stroke="#b9b9b9" stroke-width="0.55" fill="none"/>
<circle cx="164.8" cy="126.4" r="2.3" stroke="#b9b9b9" stroke-width="0.55" fill="none"/>
<circle cx="163.1" cy="111.3" r="2.3" stroke="#b9b9b9" stroke-width="0.55" fill="none"/>
<line x1="71.20" y1="118.61" x2="71.20" y2="141.06" stroke="#111" stroke-width="1.6" />
<line x1="68.45" y1="118.61" x2="73.95" y2="118.61" stroke="#111" stroke-width="1.6" />
<line x1="68.45" y1="141.06" x2="73.95" y2="141.06" stroke="#111" stroke-width="1.6" />
<line x1="66.70" y1="130.15" x2="75.70" y2="130.15" stroke="#111" stroke-width="1.6" />
<line x1="67.20" y1="131.71" x2="75.20" y2="131.71" stroke="#e8412c" stroke-width="1.52" />
<line x1="84.28" y1="91.80" x2="84.28" y2="146.26" stroke="#111" stroke-width="1.6" />
<line x1="81.53" y1="91.80" x2="87.03" y2="91.80" stroke="#111" stroke-width="1.6" />
<line x1="81.53" y1="146.26" x2="87.03" y2="146.26" stroke="#111" stroke-width="1.6" />
<line x1="79.78" y1="118.82" x2="88.78" y2="118.82" stroke="#111" stroke-width="1.6" />
<line x1="80.28" y1="127.55" x2="88.28" y2="127.55" stroke="#e8412c" stroke-width="1.52" />
<line x1="97.36" y1="101.78" x2="97.36" y2="136.90" stroke="#111" stroke-width="1.6" />
<line x1="94.61" y1="101.78" x2="100.11" y2="101.78" stroke="#111" stroke-width="1.6" />
<line x1="94.61" y1="136.90" x2="100.11" y2="136.90" stroke="#111" stroke-width="1.6" />
<line x1="92.86" y1="119.24" x2="101.86" y2="119.24" stroke="#111" stroke-width="1.6" />
<line x1="93.36" y1="122.98" x2="101.36" y2="122.98" stroke="#e8412c" stroke-width="1.52" />
<line x1="110.44" y1="103.03" x2="110.44" y2="129.01" stroke="#111" stroke-width="1.6" />
<line x1="107.69" y1="103.03" x2="113.19" y2="103.03" stroke="#111" stroke-width="1.6" />
<line x1="107.69" y1="129.01" x2="113.19" y2="129.01" stroke="#111" stroke-width="1.6" />
<line x1="105.94" y1="116.12" x2="114.94" y2="116.12" stroke="#111" stroke-width="1.6" />
<line x1="106.44" y1="116.33" x2="114.44" y2="116.33" stroke="#e8412c" stroke-width="1.52" />
<line x1="123.52" y1="102.40" x2="123.52" y2="137.53" stroke="#111" stroke-width="1.6" />
<line x1="120.77" y1="102.40" x2="126.27" y2="102.40" stroke="#111" stroke-width="1.6" />
<line x1="120.77" y1="137.53" x2="126.27" y2="137.53" stroke="#111" stroke-width="1.6" />
<line x1="119.02" y1="119.86" x2="128.02" y2="119.86" stroke="#111" stroke-width="1.6" />
<line x1="119.52" y1="122.77" x2="127.52" y2="122.77" stroke="#e8412c" stroke-width="1.52" />
<line x1="136.60" y1="110.51" x2="136.60" y2="138.98" stroke="#111" stroke-width="1.6" />
<line x1="133.85" y1="110.51" x2="139.35" y2="110.51" stroke="#111" stroke-width="1.6" />
<line x1="133.85" y1="138.98" x2="139.35" y2="138.98" stroke="#111" stroke-width="1.6" />
<line x1="132.10" y1="124.85" x2="141.10" y2="124.85" stroke="#111" stroke-width="1.6" />
<line x1="132.60" y1="129.01" x2="140.60" y2="129.01" stroke="#e8412c" stroke-width="1.52" />
<line x1="149.68" y1="115.71" x2="149.68" y2="136.70" stroke="#111" stroke-width="1.6" />
<line x1="146.93" y1="115.71" x2="152.43" y2="115.71" stroke="#111" stroke-width="1.6" />
<line x1="146.93" y1="136.70" x2="152.43" y2="136.70" stroke="#111" stroke-width="1.6" />
<line x1="145.18" y1="126.72" x2="154.18" y2="126.72" stroke="#111" stroke-width="1.6" />
<line x1="145.68" y1="126.72" x2="153.68" y2="126.72" stroke="#e8412c" stroke-width="1.52" />
<line x1="162.76" y1="126.72" x2="162.76" y2="140.02" stroke="#111" stroke-width="1.6" />
<line x1="160.01" y1="126.72" x2="165.51" y2="126.72" stroke="#111" stroke-width="1.6" />
<line x1="160.01" y1="140.02" x2="165.51" y2="140.02" stroke="#111" stroke-width="1.6" />
<line x1="158.26" y1="133.58" x2="167.26" y2="133.58" stroke="#111" stroke-width="1.6" />
<line x1="158.76" y1="133.58" x2="166.76" y2="133.58" stroke="#e8412c" stroke-width="1.52" />
<rect x="183.3" y="139.4" width="11.2" height="5.4" rx="2.7" stroke="#b4b4b4" stroke-width="0.8" fill="#f6f6f6"/>
<line x1="184.42" y1="142.10" x2="193.42" y2="142.10" stroke="#111" stroke-width="1.6" />
<rect x="196.4" y="139.4" width="11.2" height="5.4" rx="2.7" stroke="#b4b4b4" stroke-width="0.8" fill="#f6f6f6"/>
<line x1="197.50" y1="142.10" x2="206.50" y2="142.10" stroke="#111" stroke-width="1.6" />
<rect x="209.5" y="139.4" width="11.2" height="5.4" rx="2.7" stroke="#b4b4b4" stroke-width="0.8" fill="#f6f6f6"/>
<line x1="210.58" y1="142.10" x2="219.58" y2="142.10" stroke="#111" stroke-width="1.6" />
<rect x="206.30" y="58.10" width="1.14" height="46.90" fill="#7393c6" stroke="#3f5375" stroke-width="0.3"/>
<rect x="207.44" y="67.80" width="1.14" height="37.20" fill="#9aa3b3" stroke="#3f5375" stroke-width="0.3"/>
<rect x="208.57" y="51.00" width="1.14" height="54.00" fill="#7393c6" stroke="#3f5375" stroke-width="0.3"/>
<rect x="209.71" y="51.60" width="1.14" height="53.40" fill="#7393c6" stroke="#3f5375" stroke-width="0.3"/>
<rect x="210.84" y="49.70" width="1.14" height="55.30" fill="#7393c6" stroke="#3f5375" stroke-width="0.3"/>
<rect x="211.98" y="44.30" width="1.14" height="60.70" fill="#7393c6" stroke="#3f5375" stroke-width="0.3"/>
<rect x="213.11" y="47.80" width="1.14" height="57.20" fill="#7393c6" stroke="#3f5375" stroke-width="0.3"/>
<rect x="214.25" y="51.00" width="1.14" height="54.00" fill="#7393c6" stroke="#3f5375" stroke-width="0.3"/>
<rect x="215.38" y="53.00" width="1.14" height="52.00" fill="#7393c6" stroke="#3f5375" stroke-width="0.3"/>
<rect x="216.52" y="55.50" width="1.14" height="49.50" fill="#7393c6" stroke="#3f5375" stroke-width="0.3"/>
<rect x="217.65" y="67.10" width="1.14" height="37.90" fill="#9aa3b3" stroke="#3f5375" stroke-width="0.3"/>
<rect x="218.79" y="58.10" width="1.14" height="46.90" fill="#7393c6" stroke="#3f5375" stroke-width="0.3"/>
<rect x="219.92" y="76.20" width="1.14" height="28.80" fill="#7393c6" stroke="#3f5375" stroke-width="0.3"/>
<rect x="221.06" y="81.40" width="1.14" height="23.60" fill="#7393c6" stroke="#3f5375" stroke-width="0.3"/>
<rect x="222.19" y="76.20" width="1.14" height="28.80" fill="#7393c6" stroke="#3f5375" stroke-width="0.3"/>
<rect x="223.33" y="81.40" width="1.14" height="23.60" fill="#7393c6" stroke="#3f5375" stroke-width="0.3"/>
<rect x="224.46" y="86.50" width="1.14" height="18.50" fill="#7393c6" stroke="#3f5375" stroke-width="0.3"/>
<rect x="225.60" y="90.40" width="1.14" height="14.60" fill="#7393c6" stroke="#3f5375" stroke-width="0.3"/>
<rect x="226.73" y="91.70" width="1.14" height="13.30" fill="#7393c6" stroke="#3f5375" stroke-width="0.3"/>
<rect x="227.87" y="96.20" width="1.14" height="8.80" fill="#7393c6" stroke="#3f5375" stroke-width="0.3"/>
<rect x="229.00" y="96.20" width="1.14" height="8.80" fill="#7393c6" stroke="#3f5375" stroke-width="0.3"/>
<rect x="230.14" y="96.20" width="1.14" height="8.80" fill="#7393c6" stroke="#3f5375" stroke-width="0.3"/>
<rect x="231.27" y="99.40" width="1.14" height="5.60" fill="#7393c6" stroke="#3f5375" stroke-width="0.3"/>
<rect x="232.41" y="97.50" width="1.14" height="7.50" fill="#7393c6" stroke="#3f5375" stroke-width="0.3"/>
<rect x="233.54" y="98.20" width="1.14" height="6.80" fill="#7393c6" stroke="#3f5375" stroke-width="0.3"/>
<rect x="234.68" y="100.10" width="1.14" height="4.90" fill="#7393c6" stroke="#3f5375" stroke-width="0.3"/>
<rect x="235.81" y="102.00" width="1.14" height="3.00" fill="#7393c6" stroke="#3f5375" stroke-width="0.3"/>
<rect x="236.95" y="99.40" width="1.14" height="5.60" fill="#7393c6" stroke="#3f5375" stroke-width="0.3"/>
<rect x="238.08" y="100.70" width="1.14" height="4.30" fill="#7393c6" stroke="#3f5375" stroke-width="0.3"/>
<rect x="239.22" y="103.30" width="1.14" height="1.70" fill="#7393c6" stroke="#3f5375" stroke-width="0.3"/>
<rect x="240.35" y="103.80" width="1.14" height="1.20" fill="#7393c6" stroke="#3f5375" stroke-width="0.3"/>
<rect x="241.49" y="104.00" width="1.14" height="1.00" fill="#7393c6" stroke="#3f5375" stroke-width="0.3"/>
<rect x="242.62" y="103.60" width="1.14" height="1.40" fill="#7393c6" stroke="#3f5375" stroke-width="0.3"/>
<rect x="243.75" y="103.80" width="1.14" height="1.20" fill="#7393c6" stroke="#3f5375" stroke-width="0.3"/>
<rect x="244.89" y="104.20" width="1.14" height="0.80" fill="#7393c6" stroke="#3f5375" stroke-width="0.3"/>
<rect x="246.03" y="103.70" width="1.14" height="1.30" fill="#7393c6" stroke="#3f5375" stroke-width="0.3"/>
<rect x="247.16" y="104.00" width="1.14" height="1.00" fill="#7393c6" stroke="#3f5375" stroke-width="0.3"/>
<rect x="248.30" y="104.40" width="1.14" height="0.60" fill="#7393c6" stroke="#3f5375" stroke-width="0.3"/>
<rect x="249.43" y="103.80" width="1.14" height="1.20" fill="#7393c6" stroke="#3f5375" stroke-width="0.3"/>
<rect x="250.56" y="104.00" width="1.14" height="1.00" fill="#7393c6" stroke="#3f5375" stroke-width="0.3"/>
<rect x="251.70" y="104.20" width="1.14" height="0.80" fill="#7393c6" stroke="#3f5375" stroke-width="0.3"/>
<rect x="253.97" y="104.00" width="1.14" height="1.00" fill="#7393c6" stroke="#3f5375" stroke-width="0.3"/>
<rect x="255.11" y="104.30" width="1.14" height="0.70" fill="#7393c6" stroke="#3f5375" stroke-width="0.3"/>
<rect x="257.38" y="104.20" width="1.14" height="0.80" fill="#7393c6" stroke="#3f5375" stroke-width="0.3"/>
<rect x="258.51" y="104.40" width="1.14" height="0.60" fill="#7393c6" stroke="#3f5375" stroke-width="0.3"/>
<rect x="260.78" y="104.50" width="1.14" height="0.50" fill="#7393c6" stroke="#3f5375" stroke-width="0.3"/>
<rect x="263.05" y="104.40" width="1.14" height="0.60" fill="#7393c6" stroke="#3f5375" stroke-width="0.3"/>
<line x1="206.30" y1="27.50" x2="206.30" y2="105.50" stroke="#000" stroke-width="1.2" />
<line x1="201.70" y1="105.00" x2="206.30" y2="105.00" stroke="#000" stroke-width="1.1" />
<line x1="203.70" y1="85.83" x2="206.30" y2="85.83" stroke="#000" stroke-width="1.1" />
<line x1="201.70" y1="66.65" x2="206.30" y2="66.65" stroke="#000" stroke-width="1.1" />
<line x1="203.70" y1="47.48" x2="206.30" y2="47.48" stroke="#000" stroke-width="1.1" />
<line x1="201.70" y1="28.30" x2="206.30" y2="28.30" stroke="#000" stroke-width="1.1" />
<text x="201.10" y="108.60" font-size="10.5" text-anchor="end" fill="#000" textLength="18.8" lengthAdjust="spacingAndGlyphs" >0.00</text>
<text x="201.10" y="70.25" font-size="10.5" text-anchor="end" fill="#000" textLength="18.8" lengthAdjust="spacingAndGlyphs" >0.05</text>
<text x="201.10" y="31.90" font-size="10.5" text-anchor="end" fill="#000" textLength="18.8" lengthAdjust="spacingAndGlyphs" >0.10</text>
<line x1="205.80" y1="105.00" x2="274.60" y2="105.00" stroke="#000" stroke-width="1.2" />
<line x1="206.30" y1="105.00" x2="206.30" y2="109.20" stroke="#000" stroke-width="1.1" />
<line x1="217.65" y1="105.00" x2="217.65" y2="107.50" stroke="#000" stroke-width="1.1" />
<line x1="229.00" y1="105.00" x2="229.00" y2="109.20" stroke="#000" stroke-width="1.1" />
<line x1="240.35" y1="105.00" x2="240.35" y2="107.50" stroke="#000" stroke-width="1.1" />
<line x1="251.70" y1="105.00" x2="251.70" y2="109.20" stroke="#000" stroke-width="1.1" />
<line x1="263.05" y1="105.00" x2="263.05" y2="107.50" stroke="#000" stroke-width="1.1" />
<line x1="274.40" y1="105.00" x2="274.40" y2="109.20" stroke="#000" stroke-width="1.1" />
<text x="206.30" y="116.80" font-size="10.5" text-anchor="middle" fill="#000" >0</text>
<text x="229.00" y="116.80" font-size="10.5" text-anchor="middle" fill="#000" >2</text>
<text x="251.70" y="116.80" font-size="10.5" text-anchor="middle" fill="#000" >4</text>
<text x="274.40" y="116.80" font-size="10.5" text-anchor="middle" fill="#000" >6</text>
<text x="195.20" y="126.00" font-size="10.4" text-anchor="start" fill="#000" textLength="83.8" lengthAdjust="spacingAndGlyphs" >Frequency (1/min)</text>
<text x="179.00" y="112.50" font-size="10.5" fill="#000" transform="rotate(-90 179.00 112.50)" textLength="90.5" lengthAdjust="spacingAndGlyphs">Relative Frequency</text>
<text x="285.30" y="13.90" font-size="17" text-anchor="start" fill="#000" font-weight="bold" >b</text>
<rect x="351.90" y="126.70" width="1.85" height="3.20" fill="#99bbe9" stroke="#425776" stroke-width="0.5"/>
<rect x="353.75" y="127.90" width="1.85" height="2.00" fill="#99bbe9" stroke="#425776" stroke-width="0.5"/>
<rect x="355.60" y="118.70" width="1.85" height="11.20" fill="#99bbe9" stroke="#425776" stroke-width="0.5"/>
<rect x="357.45" y="110.90" width="1.85" height="19.00" fill="#99bbe9" stroke="#425776" stroke-width="0.5"/>
<rect x="359.30" y="105.90" width="1.85" height="24.00" fill="#99bbe9" stroke="#425776" stroke-width="0.5"/>
<rect x="361.15" y="93.90" width="1.85" height="36.00" fill="#99bbe9" stroke="#425776" stroke-width="0.5"/>
<rect x="363.00" y="79.90" width="1.85" height="50.00" fill="#99bbe9" stroke="#425776" stroke-width="0.5"/>
<rect x="364.85" y="68.50" width="1.85" height="61.40" fill="#99bbe9" stroke="#425776" stroke-width="0.5"/>
<rect x="366.70" y="56.20" width="1.85" height="73.70" fill="#99bbe9" stroke="#425776" stroke-width="0.5"/>
<rect x="368.55" y="11.40" width="1.85" height="118.50" fill="#99bbe9" stroke="#425776" stroke-width="0.5"/>
<rect x="370.40" y="20.90" width="1.85" height="109.00" fill="#99bbe9" stroke="#425776" stroke-width="0.5"/>
<rect x="372.25" y="25.40" width="1.85" height="104.50" fill="#99bbe9" stroke="#425776" stroke-width="0.5"/>
<rect x="374.10" y="39.40" width="1.85" height="90.50" fill="#99bbe9" stroke="#425776" stroke-width="0.5"/>
<rect x="375.95" y="47.40" width="1.85" height="82.50" fill="#99bbe9" stroke="#425776" stroke-width="0.5"/>
<rect x="377.80" y="55.10" width="1.85" height="74.80" fill="#99bbe9" stroke="#425776" stroke-width="0.5"/>
<rect x="379.65" y="78.20" width="1.85" height="51.70" fill="#99bbe9" stroke="#425776" stroke-width="0.5"/>
<rect x="381.50" y="91.50" width="1.85" height="38.40" fill="#99bbe9" stroke="#425776" stroke-width="0.5"/>
<rect x="383.35" y="105.10" width="1.85" height="24.80" fill="#99bbe9" stroke="#425776" stroke-width="0.5"/>
<rect x="385.20" y="102.00" width="1.85" height="27.90" fill="#99bbe9" stroke="#425776" stroke-width="0.5"/>
<rect x="387.05" y="103.30" width="1.85" height="26.60" fill="#99bbe9" stroke="#425776" stroke-width="0.5"/>
<rect x="388.90" y="105.90" width="1.85" height="24.00" fill="#99bbe9" stroke="#425776" stroke-width="0.5"/>
<rect x="390.75" y="110.90" width="1.85" height="19.00" fill="#99bbe9" stroke="#425776" stroke-width="0.5"/>
<rect x="392.60" y="108.20" width="1.85" height="21.70" fill="#99bbe9" stroke="#425776" stroke-width="0.5"/>
<rect x="394.45" y="117.50" width="1.85" height="12.40" fill="#99bbe9" stroke="#425776" stroke-width="0.5"/>
<rect x="396.30" y="117.50" width="1.85" height="12.40" fill="#99bbe9" stroke="#425776" stroke-width="0.5"/>
<rect x="398.15" y="120.20" width="1.85" height="9.70" fill="#99bbe9" stroke="#425776" stroke-width="0.5"/>
<rect x="400.00" y="125.10" width="1.85" height="4.80" fill="#99bbe9" stroke="#425776" stroke-width="0.5"/>
<rect x="401.85" y="118.70" width="1.85" height="11.20" fill="#99bbe9" stroke="#425776" stroke-width="0.5"/>
<rect x="403.70" y="127.60" width="1.85" height="2.30" fill="#99bbe9" stroke="#425776" stroke-width="0.5"/>
<rect x="405.55" y="129.10" width="1.85" height="0.80" fill="#99bbe9" stroke="#425776" stroke-width="0.5"/>
<rect x="407.40" y="129.10" width="1.85" height="0.80" fill="#99bbe9" stroke="#425776" stroke-width="0.5"/>
<rect x="411.10" y="127.60" width="1.85" height="2.30" fill="#99bbe9" stroke="#425776" stroke-width="0.5"/>
<rect x="412.95" y="129.10" width="1.85" height="0.80" fill="#99bbe9" stroke="#425776" stroke-width="0.5"/>
<rect x="414.80" y="126.40" width="1.85" height="3.50" fill="#99bbe9" stroke="#425776" stroke-width="0.5"/>
<rect x="416.65" y="127.60" width="1.85" height="2.30" fill="#99bbe9" stroke="#425776" stroke-width="0.5"/>
<rect x="420.35" y="129.10" width="1.85" height="0.80" fill="#99bbe9" stroke="#425776" stroke-width="0.5"/>
<rect x="422.20" y="127.60" width="1.85" height="2.30" fill="#99bbe9" stroke="#425776" stroke-width="0.5"/>
<rect x="425.90" y="129.10" width="1.85" height="0.80" fill="#99bbe9" stroke="#425776" stroke-width="0.5"/>
<line x1="349.30" y1="10.30" x2="349.30" y2="130.50" stroke="#000" stroke-width="1.3" />
<line x1="344.00" y1="129.90" x2="349.30" y2="129.90" stroke="#000" stroke-width="1.2" />
<line x1="344.00" y1="70.40" x2="349.30" y2="70.40" stroke="#000" stroke-width="1.2" />
<line x1="344.00" y1="10.90" x2="349.30" y2="10.90" stroke="#000" stroke-width="1.2" />
<text x="340.30" y="134.35" font-size="13.7" text-anchor="end" fill="#000" textLength="24.3" lengthAdjust="spacingAndGlyphs" >0.00</text>
<text x="340.30" y="74.85" font-size="13.7" text-anchor="end" fill="#000" textLength="24.3" lengthAdjust="spacingAndGlyphs" >0.05</text>
<text x="340.30" y="15.35" font-size="13.7" text-anchor="end" fill="#000" textLength="24.3" lengthAdjust="spacingAndGlyphs" >0.10</text>
<line x1="348.70" y1="129.90" x2="458.70" y2="129.90" stroke="#000" stroke-width="1.3" />
<line x1="349.30" y1="129.90" x2="349.30" y2="135.20" stroke="#000" stroke-width="1.2" />
<line x1="385.76" y1="129.90" x2="385.76" y2="135.20" stroke="#000" stroke-width="1.2" />
<line x1="422.22" y1="129.90" x2="422.22" y2="135.20" stroke="#000" stroke-width="1.2" />
<line x1="458.68" y1="129.90" x2="458.68" y2="135.20" stroke="#000" stroke-width="1.2" />
<text x="349.30" y="148.40" font-size="13.7" text-anchor="middle" fill="#000" >0</text>
<text x="385.76" y="148.40" font-size="13.7" text-anchor="middle" fill="#000" >2</text>
<text x="422.22" y="148.40" font-size="13.7" text-anchor="middle" fill="#000" >4</text>
<text x="458.68" y="148.40" font-size="13.7" text-anchor="middle" fill="#000" >6</text>
<text x="360.70" y="161.60" font-size="13.3" text-anchor="start" fill="#000" textLength="74.8" lengthAdjust="spacingAndGlyphs" >Full duration</text>
<text x="340.70" y="177.40" font-size="13.3" text-anchor="start" fill="#000" textLength="121.1" lengthAdjust="spacingAndGlyphs" >at half maximum (s)</text>
<text x="309.60" y="131.80" font-size="13.9" fill="#000" transform="rotate(-90 309.60 131.80)" textLength="119.0" lengthAdjust="spacingAndGlyphs">Relative Frequency</text>
<text x="475.60" y="14.00" font-size="17" text-anchor="start" fill="#000" font-weight="bold" >c</text>
<path d="M495.7,59.8 L496.2,59.8 L496.7,60.6 L497.2,59.3 L497.7,60.2 L498.2,59.3 L498.7,60.8 L499.2,60.4 L499.7,60.7 L500.2,39.5 L500.4,28.5 L500.7,38.7 L501.2,48.9 L501.7,54.7 L502.2,56.8 L502.7,58.6 L503.2,59.8 L503.7,59.9 L504.2,59.9 L504.7,61.1 L505.2,60.2 L505.7,60.0 L506.2,60.3 L506.7,60.0 L507.2,60.1 L507.7,60.1 L508.2,61.1 L508.7,60.2 L509.2,60.3 L509.7,60.5 L510.2,61.1 L510.7,60.1 L511.2,59.9 L511.7,61.3 L512.2,59.5 L512.7,60.0 L513.2,60.5 L513.7,61.2 L514.2,59.8 L514.7,59.1 L515.2,60.5 L515.7,59.9 L516.2,60.0 L516.7,60.4 L517.2,60.3 L517.7,60.3 L518.2,60.0 L518.7,60.7 L519.2,60.8 L519.7,59.6 L520.0,58.5 L520.2,59.3 L520.7,59.8 L521.2,59.4 L521.7,59.8 L522.2,60.5 L522.7,60.1 L523.2,60.0 L523.7,59.1 L524.0,57.1 L524.2,57.8 L524.7,58.1 L525.2,60.3 L525.7,59.9 L526.2,59.6 L526.7,59.7 L527.0,58.0 L527.2,58.4 L527.7,59.7 L528.2,60.7 L528.7,60.1 L529.2,60.7 L529.7,61.0 L530.2,59.6 L530.7,59.1 L531.0,58.4 L531.2,57.8 L531.7,59.2 L532.2,60.3 L532.7,59.8 L533.0,58.5 L533.2,57.8 L533.7,60.4 L534.2,60.0 L534.7,60.2 L535.2,60.2 L535.7,59.2 L536.2,59.4 L536.7,59.5 L537.2,60.9 L537.7,59.7 L538.2,59.9 L538.7,54.2 L538.9,51.3 L539.2,53.3 L539.7,44.4 L540.2,51.3 L540.7,53.8 L541.0,54.0 L541.2,55.5 L541.7,58.2 L542.2,54.7 L542.6,31.4 L542.7,35.4 L543.2,46.6 L543.7,52.5 L544.0,53.2 L544.2,55.3 L544.7,58.5 L545.2,59.1 L545.7,59.9 L546.2,59.8 L546.7,60.0 L547.2,59.7 L547.7,59.7 L548.2,37.2 L548.4,25.6 L548.7,36.7 L549.2,48.7 L549.7,54.3 L550.2,57.4 L550.7,59.1 L551.2,59.0 L551.7,60.0 L552.2,60.6 L552.7,59.9 L553.2,60.4 L553.7,59.9 L554.2,59.2 L554.7,60.0 L555.2,59.6 L555.7,60.0 L556.2,59.7 L556.7,60.1 L557.2,59.0 L557.7,60.9 L558.2,60.5 L558.7,59.8 L559.2,59.5 L559.7,59.9 L560.2,60.2 L560.7,60.1 L561.2,60.1 L561.7,59.0 L562.2,59.4 L562.7,60.5 L563.2,60.0 L563.7,59.2 L564.2,56.5 L564.6,41.1 L564.7,42.7 L565.2,32.7 L565.7,42.8 L566.2,48.7 L566.5,50.1 L566.7,50.5 L567.2,53.2 L567.7,56.2 L568.2,56.0 L568.7,56.7 L569.2,58.4 L569.7,58.4 L570.2,58.7 L570.7,59.6 L571.2,58.4 L571.7,59.5 L572.2,59.0 L572.7,58.9 L573.2,59.2 L573.7,60.2 L574.2,59.6 L574.7,58.9 L575.2,59.2 L575.7,60.5 L576.2,60.2 L576.7,59.3 L577.2,60.9 L577.7,59.6 L578.2,59.2 L578.7,59.7 L579.2,60.2 L579.7,60.5 L580.2,60.3 L580.7,59.6 L581.2,59.5 L581.7,59.1 L582.2,59.8 L582.7,59.5 L583.2,59.9 L583.7,59.2 L584.2,59.5 L584.7,59.4 L585.2,59.2 L585.7,59.2 L586.2,59.3 L586.7,59.2 L587.2,60.0 L587.7,59.8 L588.2,59.2 L588.7,60.0 L589.2,59.9 L589.7,60.4 L590.2,59.7 L590.7,59.6 L591.2,59.4 L591.7,59.8 L592.2,60.0 L592.7,59.8 L593.2,59.6 L593.7,60.0 L594.2,59.8 L594.7,59.8 L595.2,59.3 L595.7,59.8 L596.2,59.3 L596.7,59.3 L597.2,59.8 L597.7,60.7 L598.2,60.2 L598.7,59.7 L599.2,59.6 L599.7,60.1 L600.2,60.3 L600.7,60.2 L601.2,59.6 L601.7,59.8 L602.2,59.5 L602.7,59.5 L603.2,59.3 L603.7,59.6 L604.2,58.7 L604.7,59.1 L605.2,59.9 L605.7,59.2 L606.2,59.9 L606.7,59.1 L607.2,59.5 L607.7,59.8 L608.2,59.2 L608.7,59.3 L609.2,60.8 L609.7,59.3 L610.2,59.3 L610.7,59.4 L611.2,59.6 L611.7,59.6 L612.2,60.1 L612.7,60.0 L613.2,59.4 L613.7,59.4 L614.2,59.0 L614.7,58.9 L615.2,59.3 L615.7,59.9 L616.2,59.7 L616.7,60.0 L617.2,60.0 L617.7,59.5 L618.2,60.6 L618.7,59.3 L619.2,59.3 L619.7,58.8 L620.0,58.6 L620.2,58.4 L620.7,58.6 L621.2,59.5 L621.7,59.9 L622.2,59.4 L622.7,59.4 L623.2,60.0 L623.7,60.0 L624.2,60.0 L624.7,59.2 L625.2,59.7 L625.7,59.7 L626.2,58.7 L626.7,60.1 L627.2,59.6 L627.7,59.4 L628.2,60.6 L628.7,59.6 L629.2,59.2 L629.7,59.5 L630.2,59.8 L630.7,59.9 L631.2,59.5 L631.7,59.1 L632.2,59.2 L632.7,59.1 L633.2,59.0 L633.7,59.5 L634.2,59.3 L634.7,59.5 L635.2,59.1 L635.7,59.1 L636.2,59.4 L636.7,59.3 L637.2,60.0 L637.7,59.1 L638.2,59.6 L638.7,59.4 L639.2,58.9 L639.7,59.8 L640.2,59.5 L640.7,58.5 L641.2,59.7 L641.7,59.9 L642.2,58.3 L642.6,55.7 L642.7,55.6 L643.2,56.9 L643.7,58.7 L644.2,58.7 L644.7,58.5 L645.2,58.3 L645.7,59.5 L646.2,59.0 L646.7,59.7 L647.2,59.6 L647.7,59.2 L648.2,59.2 L648.7,60.2 L649.2,60.2 L649.7,59.7 L650.2,59.2 L650.7,58.9 L651.2,59.2 L651.7,60.2 L652.2,59.6 L652.7,59.2 L653.2,58.8 L653.7,59.5 L654.2,59.0 L654.7,58.8 L655.0,58.2 L655.2,58.7 L655.7,58.8 L656.2,58.9 L656.7,59.3 L657.2,60.1 L657.7,59.5 L658.2,58.7 L658.7,60.0 L659.2,56.8 L659.4,56.7 L659.7,56.3 L660.2,57.8 L660.7,58.2 L661.0,57.4 L661.2,57.4 L661.7,57.8 L662.2,58.0 L662.7,59.0 L663.2,59.0 L663.7,59.0 L664.2,60.3 L664.7,59.7 L665.2,59.8 L665.7,59.1 L666.2,59.4 L666.7,59.2 L667.2,59.2 L667.7,59.6 L668.2,54.7 L668.5,46.2 L668.7,49.2 L669.2,53.4 L669.7,56.1 L670.0,56.9 L670.2,57.2 L670.7,57.9 L671.2,58.9 L671.7,58.6 L672.2,58.8 L672.7,59.6 L673.2,59.1 L673.7,59.9 L674.2,59.5 L674.7,59.6 L675.2,59.8 L675.7,58.3 L676.2,59.2 L676.7,58.7 L677.2,59.0 L677.7,59.2 L678.2,59.8 L678.7,59.2 L679.2,60.0 L679.7,59.0 L680.2,59.2 L680.7,59.3 L681.2,59.6 L681.7,59.2 L682.2,58.9 L682.7,59.1 L683.2,58.6 L683.7,59.8" stroke="#86ace6" stroke-width="0.9" fill="none" />
<path d="M495.7,122.7 L496.2,122.6 L496.7,122.5 L497.2,122.1 L497.7,122.2 L498.2,122.8 L498.7,122.0 L499.2,122.0 L499.7,122.9 L500.2,88.0 L500.4,67.7 L500.7,85.9 L501.2,103.6 L501.7,113.4 L502.2,117.2 L502.7,119.9 L503.2,121.3 L503.7,122.4 L504.2,121.9 L504.7,122.3 L505.2,122.1 L505.7,122.1 L506.2,122.1 L506.7,122.4 L507.2,122.8 L507.7,122.1 L508.2,122.1 L508.7,122.2 L509.2,122.6 L509.7,122.7 L510.2,121.8 L510.7,122.6 L511.2,122.0 L511.7,122.7 L512.2,122.0 L512.7,121.9 L513.2,122.1 L513.7,121.3 L514.0,119.0 L514.2,120.2 L514.7,121.3 L515.2,121.9 L515.7,122.2 L516.2,122.7 L516.7,122.0 L517.2,122.4 L517.7,122.4 L518.2,121.5 L518.7,122.6 L519.2,122.1 L519.7,122.1 L520.2,122.2 L520.7,121.7 L521.0,120.6 L521.2,121.1 L521.7,121.3 L522.2,122.3 L522.7,122.4 L523.2,122.1 L523.7,122.4 L524.2,122.8 L524.7,122.6 L525.2,122.7 L525.7,122.5 L526.2,122.9 L526.7,123.4 L527.2,122.6 L527.7,121.7 L528.2,123.2 L528.7,122.2 L529.2,121.8 L529.7,121.4 L530.2,122.6 L530.7,122.9 L531.2,122.9 L531.7,122.3 L532.2,123.1 L532.7,122.4 L533.2,122.2 L533.7,122.5 L534.2,122.5 L534.7,122.5 L535.2,122.6 L535.7,121.4 L536.2,117.6 L536.4,113.6 L536.7,117.0 L537.2,119.1 L537.7,121.0 L538.2,121.6 L538.7,121.3 L539.2,115.9 L539.5,104.7 L539.7,108.1 L540.2,114.3 L540.7,89.8 L540.9,72.4 L541.2,89.2 L541.7,105.3 L542.2,106.3 L542.4,98.6 L542.7,104.6 L543.2,110.6 L543.5,106.5 L543.7,110.7 L544.2,116.0 L544.7,112.0 L544.8,111.3 L545.2,115.9 L545.7,119.4 L546.2,120.3 L546.7,121.7 L547.2,121.9 L547.7,122.1 L548.2,92.5 L548.4,75.5 L548.7,91.1 L549.2,104.5 L549.6,83.6 L549.7,88.0 L550.2,104.7 L550.7,106.4 L551.2,111.5 L551.6,112.7 L551.7,114.2 L552.2,116.6 L552.7,119.4 L553.2,120.7 L553.7,121.3 L554.2,122.0 L554.7,122.3 L555.2,122.6 L555.7,120.3 L556.0,117.6 L556.2,118.3 L556.7,121.0 L557.2,121.5 L557.7,121.4 L558.2,122.2 L558.7,121.9 L559.2,122.8 L559.7,122.3 L560.2,121.5 L560.7,118.4 L560.9,116.9 L561.2,118.6 L561.7,120.1 L562.2,121.7 L562.7,122.2 L563.2,122.9 L563.7,122.7 L564.2,122.6 L564.7,122.1 L565.2,122.6 L565.7,122.6 L566.2,122.5 L566.7,122.7 L567.2,121.9 L567.7,122.7 L568.2,122.5 L568.7,122.6 L569.2,122.4 L569.7,122.3 L570.2,122.6 L570.7,122.8 L571.2,122.3 L571.7,122.6 L572.2,122.1 L572.7,122.7 L573.2,122.5 L573.7,121.9 L574.2,120.8 L574.5,116.1 L574.7,117.9 L575.2,119.5 L575.7,120.5 L576.2,119.8 L576.5,114.2 L576.7,115.7 L577.2,119.4 L577.7,120.3 L578.2,119.9 L578.5,117.1 L578.7,117.6 L579.2,120.2 L579.7,121.5 L580.2,119.1 L580.5,113.3 L580.7,116.2 L581.2,118.9 L581.7,120.6 L582.2,112.2 L582.7,116.6 L583.2,119.9 L583.7,121.1 L584.2,122.1 L584.7,122.4 L585.2,94.6 L585.4,77.1 L585.7,92.4 L586.2,105.6 L586.5,107.0 L586.7,110.2 L587.2,114.6 L587.7,117.5 L588.2,118.5 L588.7,120.0 L589.2,121.1 L589.7,121.4 L590.2,121.7 L590.7,122.1 L591.2,122.1 L591.7,121.9 L592.2,123.1 L592.7,122.1 L593.2,122.7 L593.7,122.7 L594.2,122.9 L594.7,122.2 L595.2,122.1 L595.7,122.7 L596.2,122.6 L596.7,121.5 L597.2,121.3 L597.7,122.3 L598.2,122.3 L598.7,122.4 L599.2,122.7 L599.7,122.1 L600.2,123.7 L600.7,122.9 L601.2,120.9 L601.5,116.6 L601.7,117.0 L602.2,120.3 L602.7,121.1 L603.2,119.9 L603.5,115.3 L603.7,117.4 L604.2,119.3 L604.7,120.9 L605.2,120.3 L605.5,116.5 L605.7,118.0 L606.2,120.6 L606.7,122.2 L607.2,119.7 L607.5,115.8 L607.7,116.6 L608.2,119.5 L608.7,121.2 L609.2,122.0 L609.7,115.7 L610.0,105.7 L610.2,109.5 L610.7,116.3 L611.2,104.0 L611.3,101.9 L611.7,109.9 L612.2,95.1 L612.3,91.8 L612.7,102.0 L613.2,109.0 L613.6,107.3 L613.7,108.5 L614.2,113.8 L614.7,116.4 L615.0,115.2 L615.2,117.2 L615.7,119.7 L616.2,121.1 L616.7,121.3 L617.2,121.9 L617.7,121.9 L618.2,122.6 L618.7,121.6 L619.2,122.5 L619.7,121.4 L620.2,123.2 L620.7,122.9 L621.2,121.6 L621.7,122.3 L622.2,121.9 L622.7,121.7 L623.2,122.3 L623.7,122.1 L624.2,123.0 L624.7,122.3 L625.2,122.0 L625.7,122.5 L626.2,122.7 L626.7,122.9 L627.2,122.8 L627.7,121.9 L628.2,122.2 L628.7,122.5 L629.2,122.2 L629.7,122.9 L630.2,122.4 L630.7,122.5 L631.2,122.4 L631.7,122.6 L632.2,121.9 L632.7,123.5 L633.2,122.3 L633.7,122.2 L634.2,121.8 L634.7,122.5 L635.2,121.9 L635.7,122.7 L636.2,123.1 L636.7,122.8 L637.2,122.3 L637.7,123.1 L638.2,122.5 L638.7,122.5 L639.2,122.6 L639.7,122.3 L640.2,122.7 L640.7,122.0 L641.2,121.8 L641.7,123.1 L642.2,122.2 L642.7,122.4 L643.2,122.7 L643.7,122.3 L644.2,122.0 L644.7,122.5 L645.2,122.1 L645.7,122.8 L646.2,122.4 L646.7,122.4 L647.2,122.9 L647.7,121.9 L648.2,121.9 L648.7,122.9 L649.2,123.1 L649.7,121.9 L650.0,120.2 L650.2,121.6 L650.7,122.0 L651.2,122.6 L651.7,121.5 L652.2,122.4 L652.7,122.0 L653.2,122.0 L653.7,122.8 L654.2,122.9 L654.7,122.4 L655.2,122.4 L655.7,123.2 L656.2,122.9 L656.7,122.5 L657.2,122.8 L657.7,122.6 L658.2,122.0 L658.7,122.3 L659.2,122.7 L659.7,122.3 L660.0,120.5 L660.2,121.1 L660.7,121.7 L661.2,121.6 L661.7,122.9 L662.2,122.7 L662.7,123.1 L663.2,121.6 L663.7,122.2 L664.2,123.4 L664.7,121.9 L665.2,121.8 L665.7,122.7 L666.2,123.3 L666.7,122.9 L667.2,122.2 L667.7,122.8 L668.2,122.8 L668.7,122.7 L669.2,122.7 L669.7,122.9 L670.2,123.1 L670.7,123.2 L671.2,123.1 L671.7,122.5 L672.2,121.8 L672.7,122.8 L673.2,121.9 L673.7,123.6 L674.2,122.1 L674.7,121.8 L675.2,121.8 L675.7,122.8 L676.2,122.7 L676.7,122.9 L677.2,122.7 L677.7,122.2 L678.2,122.9 L678.7,122.3 L679.2,121.9 L679.7,123.0 L680.2,122.8 L680.7,122.2 L681.2,122.5 L681.7,123.0 L682.2,123.0 L682.7,122.1 L683.2,123.1 L683.7,121.4" stroke="#86ace6" stroke-width="0.9" fill="none" />
<path d="M495.7,161.0 L496.2,161.2 L496.7,160.9 L497.2,161.0 L497.7,160.3 L498.2,160.9 L498.7,161.2 L499.2,160.6 L499.7,160.9 L500.2,141.3 L500.4,129.4 L500.7,140.2 L501.2,150.7 L501.7,154.9 L502.2,158.2 L502.7,159.7 L503.2,159.6 L503.7,160.5 L504.2,161.1 L504.7,161.2 L505.2,160.4 L505.7,161.4 L506.2,161.1 L506.7,161.0 L507.2,161.6 L507.7,161.2 L508.2,161.1 L508.7,161.3 L509.2,161.2 L509.7,161.5 L510.2,160.9 L510.7,160.1 L511.2,161.6 L511.7,161.3 L512.2,161.1 L512.7,160.9 L513.2,160.8 L513.7,160.9 L514.2,160.5 L514.7,161.2 L515.2,160.9 L515.7,160.4 L516.2,161.0 L516.7,160.7 L517.2,160.8 L517.7,161.1 L518.2,162.1 L518.7,160.4 L519.2,161.0 L519.7,160.6 L520.0,159.5 L520.2,160.4 L520.7,160.1 L521.2,160.4 L521.7,160.7 L522.2,160.1 L522.7,161.3 L523.2,160.2 L523.7,161.1 L524.2,161.3 L524.7,160.4 L525.2,160.7 L525.7,160.7 L526.2,161.6 L526.7,160.9 L527.2,160.0 L527.7,161.3 L528.2,161.3 L528.7,159.9 L529.2,159.6 L529.7,161.9 L530.2,160.8 L530.7,159.8 L531.2,161.2 L531.7,161.4 L532.2,159.7 L532.7,161.3 L533.2,161.1 L533.7,160.7 L534.2,160.4 L534.7,160.9 L535.2,160.4 L535.7,160.8 L536.2,160.6 L536.7,160.5 L537.2,161.0 L537.7,161.2 L538.2,161.1 L538.7,160.9 L539.2,161.5 L539.7,160.2 L540.2,160.7 L540.7,160.8 L541.2,161.3 L541.7,159.7 L542.2,160.5 L542.7,160.5 L543.2,159.2 L543.5,158.9 L543.7,158.3 L544.2,158.9 L544.7,159.6 L545.2,160.2 L545.7,160.0 L546.2,161.0 L546.7,159.8 L547.2,161.0 L547.7,160.4 L548.0,159.6 L548.2,160.2 L548.7,159.9 L549.2,160.5 L549.7,160.6 L550.2,160.3 L550.7,160.3 L551.2,160.3 L551.7,161.0 L552.2,159.6 L552.7,160.1 L553.2,160.7 L553.7,161.2 L554.2,160.6 L554.7,161.2 L555.2,160.6 L555.7,160.4 L556.2,159.9 L556.7,160.7 L557.2,161.4 L557.7,160.6 L558.2,160.1 L558.7,160.9 L559.2,160.0 L559.7,160.1 L560.2,161.1 L560.7,160.8 L561.2,161.0 L561.7,160.7 L562.2,160.5 L562.7,160.6 L563.2,160.4 L563.7,161.0 L564.2,160.0 L564.7,159.7 L565.2,160.2 L565.7,161.0 L566.2,160.3 L566.7,159.5 L567.2,161.8 L567.7,160.1 L568.2,160.5 L568.7,160.8 L569.2,160.7 L569.7,160.5 L570.2,159.8 L570.7,160.6 L571.2,152.0 L571.3,151.4 L571.7,149.5 L572.0,132.7 L572.2,138.5 L572.7,146.9 L572.9,145.1 L573.2,149.7 L573.7,153.0 L574.0,154.7 L574.2,155.8 L574.7,158.0 L575.2,158.8 L575.7,159.4 L576.2,159.6 L576.7,159.8 L577.0,158.7 L577.2,158.8 L577.7,159.5 L578.2,160.8 L578.7,160.2 L579.2,160.0 L579.7,160.7 L580.2,159.9 L580.7,160.0 L581.2,160.9 L581.7,160.5 L582.2,160.8 L582.7,160.8 L583.2,160.1 L583.7,160.7 L584.2,160.3 L584.7,160.5 L585.2,158.8 L585.3,158.4 L585.7,158.7 L586.2,160.0 L586.7,160.1 L587.2,160.5 L587.7,159.9 L588.2,160.5 L588.7,160.3 L589.2,160.2 L589.7,160.3 L590.2,160.3 L590.7,159.8 L591.2,160.1 L591.7,160.2 L592.2,160.6 L592.7,160.3 L593.2,161.0 L593.7,160.6 L594.2,160.5 L594.7,160.5 L595.2,159.7 L595.7,160.5 L596.2,160.9 L596.7,159.9 L597.2,160.9 L597.7,160.6 L598.2,160.5 L598.7,160.2 L599.2,160.3 L599.7,159.4 L600.0,158.8 L600.2,159.2 L600.7,159.8 L601.2,159.5 L601.7,160.6 L602.2,159.9 L602.7,160.5 L603.2,160.6 L603.7,160.2 L604.2,161.4 L604.7,160.4 L605.2,160.5 L605.7,160.2 L606.2,160.4 L606.7,159.7 L607.2,160.6 L607.7,160.1 L608.2,160.1 L608.7,160.6 L609.2,160.7 L609.7,160.1 L610.2,159.8 L610.7,159.4 L611.2,159.8 L611.7,159.7 L612.0,158.5 L612.2,158.2 L612.7,159.5 L613.2,160.3 L613.7,159.7 L614.2,159.9 L614.7,159.8 L615.2,160.4 L615.7,159.4 L616.2,160.2 L616.7,160.4 L617.2,160.2 L617.7,160.6 L618.2,160.5 L618.7,160.0 L619.2,159.8 L619.7,159.7 L620.2,160.4 L620.7,160.1 L621.2,160.3 L621.7,159.8 L622.2,160.7 L622.7,160.6 L623.2,160.5 L623.7,159.7 L624.2,161.3 L624.7,160.5 L625.2,159.7 L625.7,160.6 L626.2,160.1 L626.7,159.8 L627.2,159.8 L627.7,160.4 L628.2,160.3 L628.7,160.2 L629.2,160.1 L629.7,159.7 L630.2,160.3 L630.7,160.0 L631.2,160.0 L631.7,160.4 L632.2,160.9 L632.7,159.8 L633.2,160.5 L633.7,159.8 L634.2,160.5 L634.7,160.4 L635.2,160.1 L635.7,160.2 L636.2,159.8 L636.7,160.0 L637.2,160.5 L637.7,156.2 L638.0,149.7 L638.2,150.5 L638.7,154.6 L639.2,157.1 L639.7,158.4 L640.2,158.9 L640.7,159.3 L641.2,159.7 L641.7,160.4 L642.2,159.9 L642.7,159.7 L643.2,160.2 L643.7,158.9 L644.2,159.7 L644.7,159.8 L645.2,160.2 L645.7,159.0 L646.2,159.9 L646.7,159.6 L647.2,160.5 L647.7,160.4 L648.2,159.8 L648.7,160.2 L649.2,159.5 L649.7,160.1 L650.2,160.1 L650.7,160.5 L651.2,159.8 L651.7,159.1 L652.2,160.4 L652.7,159.5 L653.2,159.8 L653.7,159.8 L654.2,160.7 L654.7,160.0 L655.2,160.5 L655.7,160.0 L656.2,159.4 L656.7,160.2 L657.2,160.2 L657.7,159.7 L658.2,159.3 L658.7,161.2 L659.2,160.9 L659.7,160.1 L660.2,160.2 L660.7,160.4 L661.2,160.2 L661.7,159.3 L662.2,159.3 L662.7,160.3 L663.2,160.5 L663.7,160.4 L664.2,160.3 L664.7,159.4 L665.0,158.8 L665.2,159.4 L665.7,159.6 L666.2,160.2 L666.7,160.3 L667.2,159.5 L667.7,160.4 L668.2,159.5 L668.7,159.5 L669.2,160.6 L669.7,159.2 L670.2,159.8 L670.7,160.3 L671.2,160.1 L671.7,159.7 L672.2,159.5 L672.7,160.1 L673.2,160.1 L673.7,159.8 L674.2,159.4 L674.7,159.2 L675.2,159.9 L675.7,159.8 L676.2,160.2 L676.7,159.7 L677.2,160.2 L677.7,159.3 L678.2,159.1 L678.7,160.2 L679.2,159.6 L679.7,159.5 L680.2,159.8 L680.7,159.3 L681.2,159.7 L681.7,159.2 L682.2,159.9 L682.7,159.6 L683.2,159.8 L683.7,159.8" stroke="#86ace6" stroke-width="0.9" fill="none" />
<text x="564.90" y="22.00" font-size="13.2" text-anchor="start" fill="#8db4e8" font-style="italic" textLength="41" lengthAdjust="spacingAndGlyphs" >In vivo</text>
<path d="M494.5,140.6 L494.5,166.6 L517.8,166.6" stroke="#000" stroke-width="1.3" fill="none" />
<text x="495.10" y="181.00" font-size="12.6" text-anchor="start" fill="#000" textLength="21.8" lengthAdjust="spacingAndGlyphs" >50s</text>
<text x="491.20" y="169.80" font-size="13.0" fill="#000" transform="rotate(-90 491.20 169.80)" textLength="70.0" lengthAdjust="spacingAndGlyphs">200 %dF/F</text>
<text x="494.80" y="99.40" font-size="9.3" fill="#000" transform="rotate(-90 494.80 99.40)">0</text>
<text x="68.30" y="206.80" font-size="17" text-anchor="start" fill="#000" font-weight="bold" >d</text>
<line x1="129.10" y1="206.20" x2="129.10" y2="333.40" stroke="#000" stroke-width="1.3" />
<line x1="123.80" y1="332.80" x2="129.10" y2="332.80" stroke="#000" stroke-width="1.2" />
<line x1="125.90" y1="301.30" x2="129.10" y2="301.30" stroke="#000" stroke-width="1.2" />
<line x1="123.80" y1="269.80" x2="129.10" y2="269.80" stroke="#000" stroke-width="1.2" />
<line x1="125.90" y1="238.30" x2="129.10" y2="238.30" stroke="#000" stroke-width="1.2" />
<line x1="123.80" y1="206.80" x2="129.10" y2="206.80" stroke="#000" stroke-width="1.2" />
<text x="121.80" y="337.25" font-size="13.7" text-anchor="end" fill="#000" >0</text>
<text x="121.80" y="274.25" font-size="13.7" text-anchor="end" fill="#000" >1</text>
<text x="121.80" y="211.25" font-size="13.7" text-anchor="end" fill="#000" >2</text>
<line x1="128.80" y1="339.30" x2="209.00" y2="339.30" stroke="#000" stroke-width="1.3" />
<line x1="147.20" y1="339.30" x2="147.20" y2="345.20" stroke="#000" stroke-width="1.2" />
<line x1="182.20" y1="339.30" x2="182.20" y2="345.20" stroke="#000" stroke-width="1.2" />
<text x="93.00" y="321.60" font-size="13.6" fill="#000" transform="rotate(-90 93.00 321.60)" textLength="100.3" lengthAdjust="spacingAndGlyphs">Frequency of Ca</text>
<text x="87.80" y="221.00" font-size="9.3" fill="#000" transform="rotate(-90 87.80 221.00)" textLength="10.2" lengthAdjust="spacingAndGlyphs">2+</text>
<text x="110.80" y="317.60" font-size="13.8" fill="#000" transform="rotate(-90 110.80 317.60)" textLength="106.8" lengthAdjust="spacingAndGlyphs">transients (1/min)</text>
<text x="133.50" y="215.30" font-size="12.6" text-anchor="start" fill="#000" textLength="44.5" lengthAdjust="spacingAndGlyphs" >P8-P10</text>
<text x="146.20" y="247.70" font-size="12.3" text-anchor="start" fill="#000" font-style="italic" textLength="50.8" lengthAdjust="spacingAndGlyphs" >p&lt;0.0001</text>
<path d="M136.7,336.0 L134.4,334.5 L134.0,330.0 L134.4,322.0 L134.9,314.0 L136.7,309.0 L139.7,306.0 L142.7,303.0 L143.6,299.0 L143.8,285.0 L144.0,270.0 L144.6,258.0 L149.8,258.0 L150.4,270.0 L150.6,285.0 L150.8,299.0 L151.7,303.0 L154.7,306.0 L157.7,309.0 L159.5,314.0 L160.0,322.0 L160.4,330.0 L160.0,334.5 L157.7,336.0 Z" fill="#e0eafa" stroke="none" stroke-linejoin="round"/>
<circle cx="149.8" cy="307.1" r="2.3" stroke="#8fb4e9" stroke-width="0.8" fill="none"/>
<circle cx="146.7" cy="321.7" r="2.3" stroke="#8fb4e9" stroke-width="0.8" fill="none"/>
<circle cx="152.1" cy="308.7" r="2.3" stroke="#8fb4e9" stroke-width="0.8" fill="none"/>
<circle cx="147.5" cy="327.0" r="2.3" stroke="#8fb4e9" stroke-width="0.8" fill="none"/>
<circle cx="141.6" cy="317.7" r="2.3" stroke="#8fb4e9" stroke-width="0.8" fill="none"/>
<circle cx="146.6" cy="302.1" r="2.3" stroke="#8fb4e9" stroke-width="0.8" fill="none"/>
<circle cx="137.9" cy="320.1" r="2.3" stroke="#8fb4e9" stroke-width="0.8" fill="none"/>
<circle cx="141.2" cy="326.6" r="2.3" stroke="#8fb4e9" stroke-width="0.8" fill="none"/>
<circle cx="139.2" cy="309.2" r="2.3" stroke="#8fb4e9" stroke-width="0.8" fill="none"/>
<circle cx="152.5" cy="332.9" r="2.3" stroke="#8fb4e9" stroke-width="0.8" fill="none"/>
<circle cx="149.8" cy="329.1" r="2.3" stroke="#8fb4e9" stroke-width="0.8" fill="none"/>
<circle cx="146.3" cy="303.1" r="2.3" stroke="#8fb4e9" stroke-width="0.8" fill="none"/>
<circle cx="139.0" cy="317.4" r="2.3" stroke="#8fb4e9" stroke-width="0.8" fill="none"/>
<circle cx="144.2" cy="331.5" r="2.3" stroke="#8fb4e9" stroke-width="0.8" fill="none"/>
<circle cx="151.3" cy="306.8" r="2.3" stroke="#8fb4e9" stroke-width="0.8" fill="none"/>
<circle cx="151.9" cy="305.9" r="2.3" stroke="#8fb4e9" stroke-width="0.8" fill="none"/>
<circle cx="148.3" cy="316.0" r="2.3" stroke="#8fb4e9" stroke-width="0.8" fill="none"/>
<circle cx="146.9" cy="312.6" r="2.3" stroke="#8fb4e9" stroke-width="0.8" fill="none"/>
<circle cx="140.3" cy="307.8" r="2.3" stroke="#8fb4e9" stroke-width="0.8" fill="none"/>
<circle cx="141.2" cy="328.8" r="2.3" stroke="#8fb4e9" stroke-width="0.8" fill="none"/>
<circle cx="140.7" cy="326.2" r="2.3" stroke="#8fb4e9" stroke-width="0.8" fill="none"/>
<circle cx="156.0" cy="332.0" r="2.3" stroke="#8fb4e9" stroke-width="0.8" fill="none"/>
<circle cx="153.0" cy="325.4" r="2.3" stroke="#8fb4e9" stroke-width="0.8" fill="none"/>
<circle cx="152.2" cy="320.0" r="2.3" stroke="#8fb4e9" stroke-width="0.8" fill="none"/>
<circle cx="146.9" cy="305.8" r="2.3" stroke="#8fb4e9" stroke-width="0.8" fill="none"/>
<circle cx="140.5" cy="327.6" r="2.3" stroke="#8fb4e9" stroke-width="0.8" fill="none"/>
<circle cx="156.0" cy="330.6" r="2.3" stroke="#8fb4e9" stroke-width="0.8" fill="none"/>
<circle cx="144.4" cy="314.7" r="2.3" stroke="#8fb4e9" stroke-width="0.8" fill="none"/>
<circle cx="144.8" cy="316.0" r="2.3" stroke="#8fb4e9" stroke-width="0.8" fill="none"/>
<circle cx="144.7" cy="332.8" r="2.3" stroke="#8fb4e9" stroke-width="0.8" fill="none"/>
<circle cx="145.1" cy="302.8" r="2.3" stroke="#8fb4e9" stroke-width="0.8" fill="none"/>
<circle cx="158.1" cy="324.3" r="2.3" stroke="#8fb4e9" stroke-width="0.8" fill="none"/>
<circle cx="147.0" cy="317.4" r="2.3" stroke="#8fb4e9" stroke-width="0.8" fill="none"/>
<circle cx="152.5" cy="319.1" r="2.3" stroke="#8fb4e9" stroke-width="0.8" fill="none"/>
<circle cx="149.1" cy="308.9" r="2.3" stroke="#8fb4e9" stroke-width="0.8" fill="none"/>
<circle cx="149.8" cy="319.3" r="2.3" stroke="#8fb4e9" stroke-width="0.8" fill="none"/>
<circle cx="142.4" cy="307.6" r="2.3" stroke="#8fb4e9" stroke-width="0.8" fill="none"/>
<circle cx="155.8" cy="312.8" r="2.3" stroke="#8fb4e9" stroke-width="0.8" fill="none"/>
<circle cx="149.1" cy="312.7" r="2.3" stroke="#8fb4e9" stroke-width="0.8" fill="none"/>
<circle cx="139.6" cy="311.5" r="2.3" stroke="#8fb4e9" stroke-width="0.8" fill="none"/>
<circle cx="149.5" cy="304.0" r="2.3" stroke="#8fb4e9" stroke-width="0.8" fill="none"/>
<circle cx="144.4" cy="326.1" r="2.3" stroke="#8fb4e9" stroke-width="0.8" fill="none"/>
<circle cx="151.1" cy="323.2" r="2.3" stroke="#8fb4e9" stroke-width="0.8" fill="none"/>
<circle cx="157.6" cy="329.9" r="2.3" stroke="#8fb4e9" stroke-width="0.8" fill="none"/>
<circle cx="157.5" cy="314.6" r="2.3" stroke="#8fb4e9" stroke-width="0.8" fill="none"/>
<circle cx="149.2" cy="331.8" r="2.3" stroke="#8fb4e9" stroke-width="0.8" fill="none"/>
<circle cx="147.0" cy="329.4" r="2.3" stroke="#8fb4e9" stroke-width="0.8" fill="none"/>
<circle cx="142.0" cy="313.6" r="2.3" stroke="#8fb4e9" stroke-width="0.8" fill="none"/>
<circle cx="139.6" cy="329.2" r="2.3" stroke="#8fb4e9" stroke-width="0.8" fill="none"/>
<circle cx="149.5" cy="304.1" r="2.3" stroke="#8fb4e9" stroke-width="0.8" fill="none"/>
<circle cx="146.8" cy="326.0" r="2.3" stroke="#8fb4e9" stroke-width="0.8" fill="none"/>
<circle cx="137.1" cy="327.9" r="2.3" stroke="#8fb4e9" stroke-width="0.8" fill="none"/>
<circle cx="143.4" cy="310.0" r="2.3" stroke="#8fb4e9" stroke-width="0.8" fill="none"/>
<circle cx="140.3" cy="315.0" r="2.3" stroke="#8fb4e9" stroke-width="0.8" fill="none"/>
<circle cx="146.0" cy="304.2" r="2.3" stroke="#8fb4e9" stroke-width="0.8" fill="none"/>
<circle cx="158.2" cy="329.9" r="2.3" stroke="#8fb4e9" stroke-width="0.8" fill="none"/>
<circle cx="146.7" cy="325.1" r="2.3" stroke="#8fb4e9" stroke-width="0.8" fill="none"/>
<circle cx="155.4" cy="309.8" r="2.3" stroke="#8fb4e9" stroke-width="0.8" fill="none"/>
<circle cx="152.1" cy="318.3" r="2.3" stroke="#8fb4e9" stroke-width="0.8" fill="none"/>
<circle cx="145.7" cy="302.9" r="2.3" stroke="#8fb4e9" stroke-width="0.8" fill="none"/>
<circle cx="145.4" cy="267.5" r="2.3" stroke="#8fb4e9" stroke-width="0.8" fill="none"/>
<circle cx="145.4" cy="269.4" r="2.3" stroke="#8fb4e9" stroke-width="0.8" fill="none"/>
<circle cx="145.1" cy="265.6" r="2.3" stroke="#8fb4e9" stroke-width="0.8" fill="none"/>
<circle cx="147.0" cy="277.9" r="2.3" stroke="#8fb4e9" stroke-width="0.8" fill="none"/>
<circle cx="145.6" cy="285.7" r="2.3" stroke="#8fb4e9" stroke-width="0.8" fill="none"/>
<circle cx="148.8" cy="278.8" r="2.3" stroke="#8fb4e9" stroke-width="0.8" fill="none"/>
<circle cx="147.9" cy="267.0" r="2.3" stroke="#8fb4e9" stroke-width="0.8" fill="none"/>
<circle cx="145.6" cy="290.9" r="2.3" stroke="#8fb4e9" stroke-width="0.8" fill="none"/>
<circle cx="147.4" cy="280.9" r="2.3" stroke="#8fb4e9" stroke-width="0.8" fill="none"/>
<circle cx="146.4" cy="292.3" r="2.3" stroke="#8fb4e9" stroke-width="0.8" fill="none"/>
<circle cx="147.2" cy="270.6" r="2.3" stroke="#8fb4e9" stroke-width="0.8" fill="none"/>
<circle cx="146.0" cy="304.0" r="2.3" stroke="#8fb4e9" stroke-width="0.8" fill="none"/>
<circle cx="145.7" cy="274.2" r="2.3" stroke="#8fb4e9" stroke-width="0.8" fill="none"/>
<circle cx="145.8" cy="262.4" r="2.3" stroke="#8fb4e9" stroke-width="0.8" fill="none"/>
<circle cx="146.7" cy="303.4" r="2.3" stroke="#8fb4e9" stroke-width="0.8" fill="none"/>
<circle cx="148.1" cy="278.3" r="2.3" stroke="#8fb4e9" stroke-width="0.8" fill="none"/>
<circle cx="147.4" cy="276.1" r="2.3" stroke="#8fb4e9" stroke-width="0.8" fill="none"/>
<circle cx="145.2" cy="266.9" r="2.3" stroke="#8fb4e9" stroke-width="0.8" fill="none"/>
<circle cx="148.1" cy="278.7" r="2.3" stroke="#8fb4e9" stroke-width="0.8" fill="none"/>
<circle cx="148.8" cy="293.1" r="2.3" stroke="#8fb4e9" stroke-width="0.8" fill="none"/>
<circle cx="148.4" cy="286.6" r="2.3" stroke="#8fb4e9" stroke-width="0.8" fill="none"/>
<circle cx="148.5" cy="262.2" r="2.3" stroke="#8fb4e9" stroke-width="0.8" fill="none"/>
<circle cx="145.0" cy="264.5" r="2.3" stroke="#8fb4e9" stroke-width="0.8" fill="none"/>
<circle cx="147.0" cy="298.6" r="2.3" stroke="#8fb4e9" stroke-width="0.8" fill="none"/>
<circle cx="145.3" cy="257.2" r="2.3" stroke="#8fb4e9" stroke-width="0.8" fill="none"/>
<circle cx="148.4" cy="230.1" r="2.3" stroke="#8fb4e9" stroke-width="0.8" fill="none"/>
<rect x="134.3" y="329.5" width="26.8" height="6.6" rx="3.3" fill="#a9c6f0" stroke="#8fb4e9" stroke-width="0.8"/>
<circle cx="136.5" cy="332.8" r="2.3" stroke="#c8dbf6" stroke-width="0.6" fill="none"/>
<circle cx="139.4" cy="332.8" r="2.3" stroke="#c8dbf6" stroke-width="0.6" fill="none"/>
<circle cx="142.3" cy="332.8" r="2.3" stroke="#c8dbf6" stroke-width="0.6" fill="none"/>
<circle cx="145.2" cy="332.8" r="2.3" stroke="#c8dbf6" stroke-width="0.6" fill="none"/>
<circle cx="148.1" cy="332.8" r="2.3" stroke="#c8dbf6" stroke-width="0.6" fill="none"/>
<circle cx="151.0" cy="332.8" r="2.3" stroke="#c8dbf6" stroke-width="0.6" fill="none"/>
<circle cx="153.9" cy="332.8" r="2.3" stroke="#c8dbf6" stroke-width="0.6" fill="none"/>
<circle cx="156.8" cy="332.8" r="2.3" stroke="#c8dbf6" stroke-width="0.6" fill="none"/>
<circle cx="159.7" cy="332.8" r="2.3" stroke="#c8dbf6" stroke-width="0.6" fill="none"/>
<line x1="147.20" y1="290.40" x2="147.20" y2="330.50" stroke="#111" stroke-width="1.7" />
<line x1="141.40" y1="290.40" x2="153.00" y2="290.40" stroke="#111" stroke-width="1.7" />
<line x1="141.40" y1="330.50" x2="153.00" y2="330.50" stroke="#111" stroke-width="1.7" />
<line x1="135.80" y1="310.20" x2="158.60" y2="310.20" stroke="#111" stroke-width="1.7" />
<line x1="135.70" y1="316.30" x2="158.70" y2="316.30" stroke="#e8412c" stroke-width="1.615" />
<circle cx="170.5" cy="320.5" r="2.4" stroke="#ee3fe4" stroke-width="0.9" fill="none"/>
<circle cx="172.5" cy="323.0" r="2.4" stroke="#ee3fe4" stroke-width="0.9" fill="none"/>
<circle cx="174.5" cy="325.0" r="2.4" stroke="#ee3fe4" stroke-width="0.9" fill="none"/>
<circle cx="176.5" cy="321.5" r="2.4" stroke="#ee3fe4" stroke-width="0.9" fill="none"/>
<circle cx="178.5" cy="324.0" r="2.4" stroke="#ee3fe4" stroke-width="0.9" fill="none"/>
<circle cx="180.5" cy="327.0" r="2.4" stroke="#ee3fe4" stroke-width="0.9" fill="none"/>
<circle cx="183.0" cy="325.5" r="2.4" stroke="#ee3fe4" stroke-width="0.9" fill="none"/>
<circle cx="186.5" cy="321.5" r="2.4" stroke="#ee3fe4" stroke-width="0.9" fill="none"/>
<circle cx="188.5" cy="323.5" r="2.4" stroke="#ee3fe4" stroke-width="0.9" fill="none"/>
<circle cx="190.5" cy="321.0" r="2.4" stroke="#ee3fe4" stroke-width="0.9" fill="none"/>
<circle cx="184.5" cy="328.0" r="2.4" stroke="#ee3fe4" stroke-width="0.9" fill="none"/>
<circle cx="176.0" cy="327.5" r="2.4" stroke="#ee3fe4" stroke-width="0.9" fill="none"/>
<rect x="168.4" y="329.8" width="27.6" height="6.2" rx="3.1" fill="#ee3fe4" stroke="#d52fd0" stroke-width="0.6"/>
<line x1="170.50" y1="333.10" x2="193.20" y2="333.10" stroke="#222" stroke-width="1.3" />
<line x1="176.50" y1="330.60" x2="187.70" y2="330.60" stroke="#222" stroke-width="1.0" />
<line x1="176.50" y1="334.80" x2="187.70" y2="334.80" stroke="#222" stroke-width="1.0" />
<text x="181.40" y="318.70" font-size="17" text-anchor="middle" fill="#000" font-weight="bold" >*</text>
<text x="146.60" y="362.00" font-size="13.5" text-anchor="middle" fill="#8fb4e9" transform="rotate(-45 146.60 362.00)" >WT</text>
<text x="187.00" y="361.60" font-size="13.5" text-anchor="middle" fill="#ee3fe4" transform="rotate(-45 187.00 361.60)" >KO</text>
<text x="139.70" y="384.40" font-size="13.2" text-anchor="start" fill="#000" font-style="italic" textLength="42.3" lengthAdjust="spacingAndGlyphs" >Cav1.3</text>
<text x="217.30" y="207.20" font-size="17" text-anchor="start" fill="#000" font-weight="bold" >e</text>
<path d="M245.5,223.2 L246.0,223.3 L246.5,223.3 L247.0,223.2 L247.5,223.2 L248.0,223.2 L248.5,223.3 L249.0,223.3 L249.5,223.2 L250.0,223.2 L250.5,223.1 L251.0,223.3 L251.5,223.2 L252.0,223.3 L252.5,223.4 L253.0,223.3 L253.5,223.3 L254.0,223.4 L254.5,223.3 L255.0,223.3 L255.5,223.2 L256.0,223.2 L256.5,223.2 L257.0,223.4 L257.5,223.4 L258.0,223.2 L258.5,223.3 L259.0,223.3 L259.5,223.5 L260.0,223.4 L260.5,223.3 L261.0,223.3 L261.5,223.4 L262.0,223.2 L262.5,223.3 L263.0,223.3 L263.5,223.3 L264.0,223.4 L264.5,223.4 L265.0,223.3 L265.5,223.3 L266.0,223.4 L266.5,223.3 L267.0,223.3 L267.5,223.4 L268.0,223.3 L268.5,223.3 L269.0,223.2 L269.5,223.3 L270.0,223.3 L270.5,223.3 L271.0,223.3 L271.5,223.3 L272.0,223.3 L272.5,223.2 L273.0,222.7 L273.5,221.9 L274.0,222.4 L274.5,222.7 L275.0,223.0 L275.5,223.0 L276.0,223.1 L276.5,223.2 L277.0,223.3 L277.5,223.2 L278.0,223.3 L278.5,223.3 L279.0,223.2 L279.5,223.3 L280.0,223.3 L280.5,223.2 L281.0,223.3 L281.5,223.2 L282.0,223.4 L282.5,223.3 L283.0,223.2 L283.5,223.2 L284.0,223.3 L284.5,223.3 L285.0,223.3 L285.5,223.2 L286.0,223.2 L286.5,223.2 L287.0,223.3 L287.5,223.2 L288.0,223.3 L288.5,223.4 L289.0,223.1 L289.5,223.3 L290.0,223.3 L290.5,223.2 L291.0,223.4 L291.5,223.3 L292.0,223.3 L292.5,223.3 L293.0,223.4 L293.5,223.2 L294.0,223.2 L294.5,223.2 L295.0,223.1 L295.5,223.2 L296.0,222.6 L296.5,221.6 L297.0,220.1 L297.5,218.0 L298.0,215.9 L298.4,215.5 L298.5,215.4 L299.0,216.2 L299.5,218.1 L300.0,220.0 L300.5,221.5 L301.0,222.5 L301.5,223.0 L302.0,223.2 L302.5,223.4 L303.0,223.2 L303.5,223.2 L304.0,223.3 L304.5,223.5 L305.0,223.4 L305.5,223.4 L306.0,223.3 L306.5,223.2 L307.0,223.4 L307.5,223.3 L308.0,223.5 L308.5,223.3 L309.0,223.1 L309.5,223.4 L310.0,223.3 L310.5,223.2 L311.0,223.3 L311.5,223.3 L312.0,223.3 L312.5,223.1 L313.0,223.3 L313.5,223.3 L314.0,223.2 L314.5,223.4 L315.0,223.3 L315.5,223.1 L316.0,223.4 L316.5,223.2 L317.0,223.3 L317.5,223.3 L318.0,223.4 L318.5,223.3 L319.0,223.2 L319.5,223.2 L320.0,223.3 L320.5,223.3 L321.0,223.2 L321.5,223.3 L322.0,223.2 L322.5,223.3 L323.0,223.3 L323.5,223.3 L324.0,223.3 L324.5,223.3 L325.0,223.2 L325.5,223.3 L326.0,223.3 L326.5,223.2 L327.0,223.2 L327.5,223.3 L328.0,223.3 L328.5,223.3 L329.0,223.3 L329.5,223.3 L330.0,223.2 L330.5,223.3 L331.0,223.2 L331.5,223.4 L332.0,223.3 L332.5,223.3 L333.0,223.2 L333.5,223.3 L334.0,223.3 L334.5,223.2 L335.0,223.3 L335.5,223.3 L336.0,223.3 L336.5,223.2 L337.0,223.4 L337.5,223.4 L338.0,223.1 L338.5,223.1 L339.0,223.2 L339.5,223.4 L340.0,223.3 L340.5,223.3 L341.0,223.3 L341.5,223.2 L342.0,223.3 L342.5,223.2 L343.0,223.3 L343.5,223.2 L344.0,223.2 L344.5,223.2 L345.0,223.3 L345.5,223.4 L346.0,223.1 L346.5,223.3 L347.0,223.2 L347.5,223.4 L348.0,223.3 L348.5,223.0 L349.0,222.4 L349.5,221.2 L350.0,219.9 L350.2,219.6 L350.5,220.4 L351.0,221.5 L351.5,222.3 L352.0,222.6 L352.5,222.8 L353.0,223.0 L353.5,223.1 L354.0,223.1 L354.5,223.1 L355.0,223.3 L355.5,223.3 L356.0,223.3 L356.5,223.2 L357.0,223.2 L357.5,223.3 L358.0,223.3 L358.5,223.4 L359.0,223.1 L359.5,223.2 L360.0,223.2 L360.5,223.4 L361.0,223.1 L361.5,223.3 L362.0,223.2 L362.5,223.2 L363.0,223.3 L363.5,223.3 L364.0,223.0 L364.5,223.2 L365.0,223.2 L365.5,223.2 L366.0,223.3 L366.5,223.2 L367.0,223.2 L367.5,223.1 L368.0,223.3 L368.5,223.2 L369.0,223.3 L369.5,223.2 L370.0,223.4 L370.5,223.2 L371.0,223.4 L371.5,223.4 L372.0,223.2 L372.5,223.3 L373.0,223.2 L373.5,223.1 L374.0,223.3 L374.5,223.2 L375.0,223.3 L375.5,223.4 L376.0,223.1 L376.5,223.2 L377.0,223.3 L377.5,223.3 L378.0,223.3 L378.5,223.2 L379.0,223.2 L379.5,223.3 L380.0,223.1 L380.5,223.1 L381.0,223.1 L381.5,223.2 L382.0,223.3 L382.5,223.2 L383.0,223.3 L383.5,223.3 L384.0,223.3 L384.5,223.3 L385.0,223.2 L385.5,223.2 L386.0,223.2 L386.5,223.2 L387.0,223.3 L387.5,223.3 L388.0,223.2 L388.5,223.2 L389.0,223.2 L389.5,223.2 L390.0,223.3 L390.5,223.2 L391.0,223.2 L391.5,223.1 L392.0,223.2 L392.5,223.2 L393.0,223.2 L393.5,223.3 L394.0,223.2 L394.5,223.2 L395.0,223.3 L395.5,223.3 L396.0,223.4 L396.5,223.2 L397.0,223.2 L397.5,223.3 L398.0,223.4 L398.5,223.2 L399.0,223.3 L399.5,223.2 L400.0,223.3 L400.5,223.2 L401.0,223.1 L401.5,222.7 L402.0,221.9 L402.5,221.0 L402.7,221.0 L403.0,221.5 L403.5,222.3 L404.0,222.7 L404.5,222.7 L405.0,222.9 L405.5,223.1 L406.0,223.1 L406.5,223.1 L407.0,223.2 L407.5,223.3 L408.0,223.2 L408.5,223.3 L409.0,223.2 L409.5,223.2 L410.0,223.2 L410.5,223.2 L411.0,223.2 L411.5,223.3 L412.0,223.3 L412.5,223.2 L413.0,223.2 L413.5,223.1 L414.0,223.3 L414.5,223.2 L415.0,223.2 L415.5,223.2 L416.0,223.1 L416.5,223.2 L417.0,223.3 L417.5,223.2 L418.0,223.1 L418.5,223.2 L419.0,223.1 L419.5,223.1 L420.0,223.1 L420.5,223.1 L421.0,223.2 L421.5,223.0 L422.0,223.1 L422.5,223.1 L423.0,223.2 L423.5,223.1 L424.0,223.2 L424.5,223.1 L425.0,223.3 L425.5,223.1 L426.0,223.4 L426.5,223.1 L427.0,223.2 L427.5,223.1 L428.0,223.2 L428.5,223.3 L429.0,223.3 L429.5,223.2 L430.0,223.2 L430.5,223.3 L431.0,223.3 L431.5,223.2 L432.0,223.2 L432.5,223.2 L433.0,223.1 L433.5,223.2 L434.0,223.2 L434.5,223.4 L435.0,223.3 L435.5,223.2 L436.0,223.1 L436.5,223.2 L437.0,223.1 L437.5,223.2 L438.0,223.2 L438.5,223.3 L439.0,223.2 L439.5,223.2 L440.0,222.9 L440.5,222.1 L441.0,220.8 L441.5,220.1 L442.0,221.3 L442.5,222.2 L443.0,222.4 L443.5,222.6 L444.0,222.9 L444.5,222.9 L445.0,223.1 L445.5,223.0 L446.0,223.1 L446.5,223.2 L447.0,223.1 L447.5,223.2 L448.0,223.2 L448.5,223.3 L449.0,223.2 L449.5,223.2 L450.0,223.3 L450.5,223.3 L451.0,223.2 L451.5,223.2 L452.0,223.3 L452.5,223.2 L453.0,223.3 L453.5,223.2 L454.0,223.2 L454.5,223.3 L455.0,223.4 L455.5,222.9 L456.0,222.3 L456.5,222.1 L457.0,222.4 L457.5,222.8 L458.0,222.8 L458.5,222.9 L459.0,222.1 L459.5,221.5 L460.0,222.3 L460.5,222.6 L461.0,222.8 L461.5,222.7 L462.0,222.4 L462.5,221.8 L463.0,222.4 L463.5,222.7 L464.0,222.8 L464.5,223.1" stroke="#43b02e" stroke-width="1.2" fill="none" />
<path d="M245.5,241.4 L246.0,241.3 L246.5,241.3 L247.0,241.3 L247.5,241.3 L248.0,241.4 L248.5,241.3 L249.0,241.3 L249.5,241.4 L250.0,241.1 L250.5,241.3 L251.0,241.4 L251.5,241.4 L252.0,241.3 L252.5,241.4 L253.0,241.4 L253.5,241.2 L254.0,241.3 L254.5,241.2 L255.0,241.2 L255.5,241.4 L256.0,241.2 L256.5,241.3 L257.0,241.4 L257.5,241.4 L258.0,241.2 L258.5,241.2 L259.0,241.2 L259.5,241.3 L260.0,241.2 L260.5,241.4 L261.0,241.4 L261.5,241.5 L262.0,241.2 L262.5,241.3 L263.0,241.3 L263.5,241.2 L264.0,241.4 L264.5,241.4 L265.0,241.2 L265.5,241.4 L266.0,241.4 L266.5,241.3 L267.0,241.2 L267.5,241.2 L268.0,241.5 L268.5,241.4 L269.0,241.3 L269.5,241.4 L270.0,241.2 L270.5,241.4 L271.0,241.3 L271.5,241.1 L272.0,241.3 L272.5,241.4 L273.0,241.4 L273.5,241.2 L274.0,240.6 L274.1,240.6 L274.5,240.7 L275.0,241.0 L275.5,241.4 L276.0,241.2 L276.5,241.2 L277.0,241.5 L277.5,241.3 L278.0,241.3 L278.5,241.3 L279.0,241.4 L279.5,241.2 L280.0,241.3 L280.5,241.3 L281.0,241.2 L281.5,241.4 L282.0,241.3 L282.5,241.3 L283.0,241.3 L283.5,241.4 L284.0,241.1 L284.5,241.4 L285.0,241.4 L285.5,241.4 L286.0,241.3 L286.5,241.3 L287.0,241.4 L287.5,241.3 L288.0,241.5 L288.5,241.3 L289.0,241.4 L289.5,241.3 L290.0,241.5 L290.5,241.4 L291.0,241.2 L291.5,241.4 L292.0,241.3 L292.5,241.4 L293.0,241.4 L293.5,241.3 L294.0,241.3 L294.5,241.3 L295.0,241.0 L295.5,240.3 L296.0,238.9 L296.5,236.7 L297.0,233.3 L297.5,229.5 L298.0,226.4 L298.5,225.5 L299.0,226.2 L299.5,228.5 L300.0,231.7 L300.5,234.9 L301.0,237.5 L301.5,239.3 L302.0,240.4 L302.5,240.9 L303.0,241.3 L303.5,241.3 L304.0,241.3 L304.5,241.4 L305.0,241.4 L305.5,241.3 L306.0,241.4 L306.5,241.4 L307.0,241.3 L307.5,241.5 L308.0,241.5 L308.5,241.2 L309.0,241.4 L309.5,241.4 L310.0,241.4 L310.5,241.3 L311.0,241.4 L311.5,241.4 L312.0,241.4 L312.5,241.5 L313.0,241.3 L313.5,241.2 L314.0,241.5 L314.5,241.5 L315.0,241.3 L315.5,241.3 L316.0,241.6 L316.5,241.4 L317.0,241.5 L317.5,241.5 L318.0,241.4 L318.5,241.3 L319.0,241.5 L319.5,241.4 L320.0,241.3 L320.5,241.3 L321.0,241.4 L321.5,241.3 L322.0,241.6 L322.5,241.5 L323.0,241.5 L323.5,241.4 L324.0,241.4 L324.5,241.2 L325.0,241.3 L325.5,241.4 L326.0,241.3 L326.5,241.3 L327.0,241.3 L327.5,241.5 L328.0,241.5 L328.5,241.4 L329.0,241.5 L329.5,241.4 L330.0,241.3 L330.5,241.3 L331.0,241.4 L331.5,241.5 L332.0,241.4 L332.5,241.5 L333.0,241.4 L333.5,241.5 L334.0,241.4 L334.5,241.5 L335.0,241.4 L335.5,241.5 L336.0,241.3 L336.5,241.5 L337.0,241.4 L337.5,241.5 L338.0,241.4 L338.5,241.3 L339.0,241.6 L339.5,241.6 L340.0,241.5 L340.5,241.5 L341.0,241.4 L341.5,241.6 L342.0,241.4 L342.5,241.5 L343.0,241.5 L343.5,241.3 L344.0,241.4 L344.5,241.5 L345.0,241.4 L345.5,241.4 L346.0,241.4 L346.5,241.4 L347.0,241.4 L347.5,241.4 L348.0,241.3 L348.5,240.6 L349.0,238.8 L349.5,236.3 L349.9,235.7 L350.0,236.0 L350.5,238.0 L351.0,239.2 L351.5,240.1 L352.0,240.5 L352.5,241.0 L353.0,241.1 L353.5,241.2 L354.0,241.4 L354.5,241.4 L355.0,241.4 L355.5,241.3 L356.0,241.4 L356.5,241.5 L357.0,241.4 L357.5,241.5 L358.0,241.4 L358.5,241.5 L359.0,241.4 L359.5,241.4 L360.0,241.3 L360.5,241.4 L361.0,241.3 L361.5,241.6 L362.0,241.6 L362.5,241.6 L363.0,241.5 L363.5,241.5 L364.0,241.3 L364.5,241.4 L365.0,241.4 L365.5,241.5 L366.0,241.5 L366.5,241.6 L367.0,241.4 L367.5,241.5 L368.0,241.6 L368.5,241.4 L369.0,241.5 L369.5,241.6 L370.0,241.3 L370.5,241.5 L371.0,241.5 L371.5,241.4 L372.0,241.3 L372.5,241.4 L373.0,241.3 L373.5,241.6 L374.0,241.4 L374.5,241.5 L375.0,241.4 L375.5,241.5 L376.0,241.4 L376.5,241.5 L377.0,241.6 L377.5,241.5 L378.0,241.5 L378.5,241.5 L379.0,241.5 L379.5,241.5 L380.0,241.5 L380.5,241.5 L381.0,241.3 L381.5,241.4 L382.0,241.6 L382.5,241.5 L383.0,241.5 L383.5,241.4 L384.0,241.4 L384.5,241.6 L385.0,241.6 L385.5,241.5 L386.0,241.4 L386.5,241.3 L387.0,241.5 L387.5,241.6 L388.0,241.6 L388.5,241.4 L389.0,241.5 L389.5,241.5 L390.0,241.6 L390.5,241.6 L391.0,241.6 L391.5,241.4 L392.0,241.6 L392.5,241.6 L393.0,241.5 L393.5,241.5 L394.0,241.5 L394.5,241.4 L395.0,241.4 L395.5,241.5 L396.0,241.5 L396.5,241.5 L397.0,241.4 L397.5,241.4 L398.0,241.5 L398.5,241.6 L399.0,241.5 L399.5,241.6 L400.0,241.4 L400.5,240.5 L401.0,238.1 L401.5,234.2 L402.0,232.2 L402.5,235.7 L403.0,237.8 L403.5,239.1 L404.0,240.0 L404.5,240.5 L405.0,241.0 L405.5,241.0 L406.0,241.3 L406.5,241.3 L407.0,241.4 L407.5,241.5 L408.0,241.7 L408.5,241.5 L409.0,241.5 L409.5,241.5 L410.0,241.5 L410.5,241.4 L411.0,241.6 L411.5,241.6 L412.0,241.5 L412.5,241.5 L413.0,241.6 L413.5,241.5 L414.0,241.4 L414.5,241.5 L415.0,241.3 L415.5,241.6 L416.0,241.6 L416.5,241.6 L417.0,241.4 L417.5,241.6 L418.0,241.5 L418.5,241.5 L419.0,241.7 L419.5,241.6 L420.0,241.4 L420.5,241.5 L421.0,241.5 L421.5,241.5 L422.0,241.5 L422.5,241.5 L423.0,241.5 L423.5,241.5 L424.0,241.6 L424.5,241.5 L425.0,241.5 L425.5,241.4 L426.0,241.5 L426.5,241.6 L427.0,241.7 L427.5,241.5 L428.0,241.4 L428.5,241.5 L429.0,241.5 L429.5,241.6 L430.0,241.5 L430.5,241.5 L431.0,241.7 L431.5,241.6 L432.0,241.6 L432.5,241.6 L433.0,241.5 L433.5,241.7 L434.0,241.7 L434.5,241.5 L435.0,241.6 L435.5,241.5 L436.0,241.6 L436.5,241.5 L437.0,241.7 L437.5,241.6 L438.0,241.6 L438.5,241.6 L439.0,241.5 L439.5,241.3 L440.0,240.9 L440.5,239.0 L441.0,236.1 L441.5,234.7 L442.0,237.3 L442.5,238.8 L443.0,239.9 L443.5,240.4 L444.0,240.8 L444.5,241.0 L445.0,241.2 L445.5,241.4 L446.0,241.5 L446.5,241.4 L447.0,241.5 L447.5,241.8 L448.0,241.6 L448.5,241.6 L449.0,241.5 L449.5,241.5 L450.0,241.6 L450.5,241.5 L451.0,241.6 L451.5,241.5 L452.0,241.6 L452.5,241.6 L453.0,241.6 L453.5,241.5 L454.0,241.5 L454.5,241.6 L455.0,241.6 L455.5,241.4 L456.0,240.5 L456.5,238.2 L457.0,235.2 L457.4,234.1 L457.5,234.8 L458.0,237.3 L458.5,238.8 L459.0,238.6 L459.5,235.9 L460.0,234.6 L460.5,237.2 L461.0,238.7 L461.5,239.3 L462.0,238.5 L462.5,237.9 L463.0,238.8 L463.5,239.1 L464.0,238.7 L464.5,239.9" stroke="#43b02e" stroke-width="1.2" fill="none" />
<path d="M245.5,258.5 L246.0,258.4 L246.5,258.4 L247.0,258.5 L247.5,258.5 L248.0,258.6 L248.5,258.4 L249.0,258.6 L249.5,258.4 L250.0,258.5 L250.5,258.4 L251.0,258.5 L251.5,258.4 L252.0,258.5 L252.5,258.4 L253.0,258.4 L253.5,258.3 L254.0,258.3 L254.5,258.4 L255.0,258.5 L255.5,258.5 L256.0,258.4 L256.5,258.3 L257.0,258.4 L257.5,258.5 L258.0,258.4 L258.5,258.4 L259.0,258.5 L259.5,258.4 L260.0,258.4 L260.5,258.5 L261.0,258.4 L261.5,258.6 L262.0,258.4 L262.5,258.5 L263.0,258.4 L263.5,258.3 L264.0,258.5 L264.5,258.5 L265.0,258.5 L265.5,258.5 L266.0,258.3 L266.5,258.5 L267.0,258.5 L267.5,258.4 L268.0,258.4 L268.5,258.5 L269.0,258.3 L269.5,258.4 L270.0,258.5 L270.5,258.6 L271.0,258.5 L271.5,258.5 L272.0,258.5 L272.5,258.4 L273.0,258.3 L273.5,257.2 L273.9,253.7 L274.0,254.3 L274.5,256.2 L275.0,257.2 L275.5,257.7 L276.0,258.0 L276.5,258.3 L277.0,258.3 L277.5,258.4 L278.0,258.4 L278.5,258.5 L279.0,258.4 L279.5,258.3 L280.0,258.5 L280.5,258.6 L281.0,258.5 L281.5,258.5 L282.0,258.5 L282.5,258.4 L283.0,258.4 L283.5,258.4 L284.0,258.4 L284.5,258.6 L285.0,258.4 L285.5,258.4 L286.0,258.3 L286.5,258.4 L287.0,258.6 L287.5,258.5 L288.0,258.6 L288.5,258.5 L289.0,258.4 L289.5,258.3 L290.0,258.4 L290.5,258.5 L291.0,258.2 L291.5,258.5 L292.0,258.5 L292.5,258.5 L293.0,258.3 L293.5,258.3 L294.0,258.4 L294.5,258.1 L295.0,257.7 L295.5,256.2 L296.0,253.3 L296.5,249.4 L297.0,246.6 L297.2,246.2 L297.5,246.4 L297.9,243.8 L298.0,243.9 L298.5,246.4 L298.8,244.7 L299.0,244.8 L299.5,247.2 L300.0,250.7 L300.5,254.0 L301.0,256.4 L301.5,257.5 L302.0,258.2 L302.5,258.5 L303.0,258.5 L303.5,258.6 L304.0,258.6 L304.5,258.5 L305.0,258.5 L305.5,258.5 L306.0,258.4 L306.5,258.3 L307.0,258.5 L307.5,258.6 L308.0,258.5 L308.5,258.5 L309.0,258.4 L309.5,258.5 L310.0,258.5 L310.5,258.5 L311.0,258.4 L311.5,258.4 L312.0,258.4 L312.5,258.5 L313.0,258.3 L313.5,258.3 L314.0,258.4 L314.5,258.5 L315.0,258.4 L315.5,258.6 L316.0,258.5 L316.5,258.4 L317.0,258.4 L317.5,258.4 L318.0,258.7 L318.5,258.4 L319.0,258.4 L319.5,258.5 L320.0,258.5 L320.5,258.5 L321.0,258.6 L321.5,258.3 L322.0,258.5 L322.5,258.4 L323.0,258.6 L323.5,258.6 L324.0,258.4 L324.5,258.5 L325.0,258.4 L325.5,258.4 L326.0,258.5 L326.5,258.3 L327.0,258.6 L327.5,258.4 L328.0,258.7 L328.5,258.5 L329.0,258.4 L329.5,258.4 L330.0,258.5 L330.5,258.3 L331.0,258.5 L331.5,258.4 L332.0,258.4 L332.5,258.4 L333.0,258.4 L333.5,258.5 L334.0,258.5 L334.5,258.5 L335.0,258.3 L335.5,258.6 L336.0,258.5 L336.5,258.5 L337.0,258.4 L337.5,258.5 L338.0,258.5 L338.5,258.5 L339.0,258.6 L339.5,258.6 L340.0,258.5 L340.5,258.4 L341.0,258.5 L341.5,258.4 L342.0,258.5 L342.5,258.4 L343.0,258.6 L343.5,258.7 L344.0,258.3 L344.5,258.4 L345.0,258.5 L345.5,258.3 L346.0,258.4 L346.5,258.5 L347.0,258.5 L347.5,258.3 L348.0,258.1 L348.5,256.0 L348.9,254.6 L349.0,254.8 L349.5,256.2 L350.0,257.1 L350.5,257.1 L351.0,257.6 L351.5,257.8 L352.0,258.2 L352.5,258.3 L353.0,258.3 L353.5,258.5 L354.0,258.4 L354.5,258.6 L355.0,258.6 L355.5,258.4 L356.0,258.5 L356.5,258.6 L357.0,258.5 L357.5,258.5 L358.0,258.5 L358.5,258.5 L359.0,258.4 L359.5,258.5 L360.0,258.4 L360.5,258.1 L361.0,257.5 L361.5,258.1 L362.0,258.1 L362.5,258.4 L363.0,258.4 L363.5,258.5 L364.0,258.5 L364.5,258.3 L365.0,258.3 L365.5,258.4 L366.0,258.5 L366.5,258.6 L367.0,258.5 L367.5,258.6 L368.0,258.5 L368.5,258.5 L369.0,258.5 L369.5,258.5 L370.0,258.5 L370.5,258.4 L371.0,258.6 L371.5,258.5 L372.0,258.4 L372.5,258.4 L373.0,258.5 L373.5,258.5 L374.0,258.5 L374.5,258.5 L375.0,258.7 L375.5,258.5 L376.0,258.5 L376.5,258.5 L377.0,258.6 L377.5,258.6 L378.0,258.5 L378.5,258.5 L379.0,258.4 L379.5,258.5 L380.0,258.6 L380.5,258.5 L381.0,258.6 L381.5,258.6 L382.0,258.6 L382.5,258.5 L383.0,258.6 L383.5,258.5 L384.0,258.5 L384.5,258.6 L385.0,258.6 L385.5,258.6 L386.0,258.4 L386.5,258.6 L387.0,258.5 L387.5,258.5 L388.0,258.5 L388.5,258.5 L389.0,258.5 L389.5,258.5 L390.0,258.6 L390.5,258.6 L391.0,258.5 L391.5,258.5 L392.0,258.4 L392.5,258.4 L393.0,258.5 L393.5,258.5 L394.0,258.6 L394.5,258.4 L395.0,258.5 L395.5,258.5 L396.0,258.6 L396.5,258.5 L397.0,258.5 L397.5,258.5 L398.0,258.6 L398.5,258.7 L399.0,258.5 L399.5,258.5 L400.0,258.0 L400.5,254.9 L401.0,249.9 L401.2,249.1 L401.5,251.5 L402.0,254.3 L402.5,255.2 L403.0,252.1 L403.5,254.0 L404.0,255.3 L404.5,256.2 L405.0,257.0 L405.5,257.4 L406.0,257.7 L406.5,257.9 L407.0,258.3 L407.5,258.0 L408.0,258.6 L408.5,258.4 L409.0,258.5 L409.5,258.4 L410.0,258.5 L410.5,258.5 L411.0,258.5 L411.5,258.5 L412.0,258.6 L412.5,258.4 L413.0,258.8 L413.5,258.4 L414.0,258.5 L414.5,258.6 L415.0,258.5 L415.5,258.5 L416.0,258.5 L416.5,258.4 L417.0,258.5 L417.5,258.5 L418.0,258.6 L418.5,258.7 L419.0,258.5 L419.5,258.5 L420.0,258.6 L420.5,258.5 L421.0,258.6 L421.5,258.5 L422.0,258.7 L422.5,258.4 L423.0,258.5 L423.5,258.4 L424.0,258.5 L424.5,258.5 L425.0,258.5 L425.5,258.4 L426.0,258.6 L426.5,258.5 L427.0,258.5 L427.5,258.6 L428.0,258.7 L428.5,258.5 L429.0,258.4 L429.5,258.5 L430.0,258.6 L430.5,258.6 L431.0,258.6 L431.5,258.5 L432.0,258.6 L432.5,258.6 L433.0,258.5 L433.5,258.6 L434.0,258.5 L434.5,258.6 L435.0,258.6 L435.5,258.6 L436.0,258.4 L436.5,258.6 L437.0,258.5 L437.5,258.6 L438.0,258.5 L438.5,258.6 L439.0,258.7 L439.5,258.6 L440.0,258.4 L440.5,257.4 L441.0,254.9 L441.3,254.2 L441.5,255.0 L442.0,256.4 L442.5,257.2 L443.0,257.6 L443.5,258.0 L444.0,258.3 L444.5,258.4 L445.0,258.5 L445.5,258.7 L446.0,258.5 L446.5,258.6 L447.0,258.6 L447.5,258.6 L448.0,258.6 L448.5,258.5 L449.0,258.6 L449.5,258.5 L450.0,258.7 L450.5,258.6 L451.0,258.6 L451.5,258.7 L452.0,258.5 L452.5,258.6 L453.0,258.4 L453.5,258.6 L454.0,258.7 L454.5,258.6 L455.0,258.6 L455.5,258.4 L456.0,258.6 L456.5,258.5 L457.0,258.2 L457.5,255.1 L458.0,245.7 L458.2,244.3 L458.5,248.9 L459.0,253.3 L459.5,244.9 L460.0,251.0 L460.5,254.6 L461.0,250.1 L461.5,254.1 L462.0,256.1 L462.5,257.3 L463.0,251.4 L463.2,250.1 L463.5,252.8 L464.0,255.6 L464.5,256.9" stroke="#43b02e" stroke-width="1.2" fill="none" />
<path d="M245.5,270.2 L246.0,270.0 L246.5,270.0 L247.0,270.0 L247.5,270.0 L248.0,270.0 L248.5,270.0 L249.0,270.0 L249.5,270.1 L250.0,269.9 L250.5,270.0 L251.0,269.9 L251.5,270.0 L252.0,270.1 L252.5,270.0 L253.0,270.0 L253.5,270.2 L254.0,269.9 L254.5,270.0 L255.0,270.0 L255.5,269.9 L256.0,269.9 L256.5,269.9 L257.0,270.0 L257.5,269.9 L258.0,269.9 L258.5,270.0 L259.0,270.0 L259.5,269.9 L260.0,270.0 L260.5,270.0 L261.0,270.0 L261.5,270.1 L262.0,270.0 L262.5,270.2 L263.0,270.0 L263.5,270.1 L264.0,270.2 L264.5,270.0 L265.0,270.0 L265.5,270.0 L266.0,270.0 L266.5,269.9 L267.0,270.0 L267.5,270.0 L268.0,270.1 L268.5,269.9 L269.0,270.0 L269.5,270.0 L270.0,269.9 L270.5,269.9 L271.0,270.0 L271.5,270.0 L272.0,270.0 L272.5,270.0 L273.0,269.9 L273.5,269.6 L274.0,269.0 L274.5,269.4 L275.0,269.5 L275.5,269.7 L276.0,269.9 L276.5,269.9 L277.0,270.0 L277.5,270.1 L278.0,270.0 L278.5,270.0 L279.0,270.0 L279.5,270.0 L280.0,270.0 L280.5,269.9 L281.0,270.0 L281.5,269.9 L282.0,269.9 L282.5,270.0 L283.0,269.9 L283.5,270.0 L284.0,269.9 L284.5,270.0 L285.0,269.8 L285.5,270.1 L286.0,270.0 L286.5,269.9 L287.0,270.0 L287.5,270.0 L288.0,270.0 L288.5,270.0 L289.0,269.8 L289.5,269.9 L290.0,269.9 L290.5,270.0 L291.0,270.0 L291.5,270.0 L292.0,270.0 L292.5,269.9 L293.0,269.9 L293.5,270.0 L294.0,269.8 L294.5,269.8 L295.0,269.7 L295.5,269.3 L296.0,268.3 L296.5,266.5 L297.0,264.0 L297.5,261.7 L298.0,260.7 L298.5,261.3 L299.0,263.2 L299.5,265.4 L300.0,267.3 L300.5,268.6 L301.0,269.3 L301.5,269.8 L302.0,269.8 L302.5,269.8 L303.0,270.1 L303.5,269.9 L304.0,270.0 L304.5,270.0 L305.0,270.0 L305.5,269.9 L306.0,269.9 L306.5,269.9 L307.0,269.9 L307.5,269.7 L308.0,269.9 L308.5,269.9 L309.0,269.9 L309.5,270.0 L310.0,269.9 L310.5,270.0 L311.0,269.8 L311.5,270.0 L312.0,269.9 L312.5,269.9 L313.0,270.0 L313.5,269.8 L314.0,269.9 L314.5,269.8 L315.0,270.0 L315.5,269.9 L316.0,270.0 L316.5,269.9 L317.0,269.9 L317.5,269.9 L318.0,270.0 L318.5,269.9 L319.0,270.0 L319.5,269.9 L320.0,270.0 L320.5,270.0 L321.0,270.0 L321.5,269.9 L322.0,269.9 L322.5,269.9 L323.0,269.9 L323.5,269.9 L324.0,269.9 L324.5,269.9 L325.0,270.0 L325.5,270.1 L326.0,269.8 L326.5,270.0 L327.0,270.0 L327.5,269.9 L328.0,269.9 L328.5,269.9 L329.0,270.0 L329.5,269.9 L330.0,269.9 L330.5,270.0 L331.0,269.8 L331.5,269.9 L332.0,269.9 L332.5,270.0 L333.0,270.1 L333.5,269.9 L334.0,269.9 L334.5,269.9 L335.0,269.8 L335.5,269.9 L336.0,269.8 L336.5,269.9 L337.0,270.0 L337.5,269.8 L338.0,269.8 L338.5,269.8 L339.0,269.9 L339.5,269.9 L340.0,269.9 L340.5,270.0 L341.0,269.9 L341.5,269.9 L342.0,269.9 L342.5,269.8 L343.0,270.0 L343.5,270.0 L344.0,269.8 L344.5,270.0 L345.0,269.9 L345.5,269.9 L346.0,270.0 L346.5,269.8 L347.0,269.9 L347.5,269.9 L348.0,270.1 L348.5,269.9 L349.0,269.9 L349.5,269.9 L350.0,270.0 L350.5,269.9 L351.0,269.9 L351.5,269.9 L352.0,270.0 L352.5,270.0 L353.0,269.9 L353.5,270.0 L354.0,269.8 L354.5,269.8 L355.0,269.9 L355.5,269.9 L356.0,270.0 L356.5,270.0 L357.0,269.8 L357.5,269.9 L358.0,269.8 L358.5,269.9 L359.0,269.8 L359.5,269.9 L360.0,269.9 L360.5,269.9 L361.0,269.9 L361.5,269.9 L362.0,269.8 L362.5,270.0 L363.0,270.0 L363.5,269.9 L364.0,270.0 L364.5,269.9 L365.0,269.9 L365.5,269.9 L366.0,269.9 L366.5,270.0 L367.0,269.8 L367.5,269.9 L368.0,269.9 L368.5,269.9 L369.0,269.8 L369.5,269.7 L370.0,269.8 L370.5,269.9 L371.0,269.8 L371.5,269.8 L372.0,269.8 L372.5,269.8 L373.0,269.9 L373.5,269.8 L374.0,269.7 L374.5,269.9 L375.0,269.9 L375.5,269.8 L376.0,269.8 L376.5,269.8 L377.0,269.8 L377.5,269.9 L378.0,270.0 L378.5,269.9 L379.0,269.9 L379.5,269.9 L380.0,269.8 L380.5,269.8 L381.0,269.9 L381.5,270.0 L382.0,269.9 L382.5,269.9 L383.0,269.9 L383.5,269.8 L384.0,269.8 L384.5,269.8 L385.0,270.0 L385.5,269.8 L386.0,269.9 L386.5,269.8 L387.0,270.0 L387.5,269.8 L388.0,269.8 L388.5,269.8 L389.0,269.9 L389.5,269.9 L390.0,269.9 L390.5,269.9 L391.0,269.8 L391.5,269.8 L392.0,269.9 L392.5,269.9 L393.0,269.9 L393.5,269.9 L394.0,269.9 L394.5,269.8 L395.0,269.9 L395.5,269.9 L396.0,269.8 L396.5,270.0 L397.0,269.9 L397.5,269.9 L398.0,269.9 L398.5,269.8 L399.0,269.9 L399.5,269.8 L400.0,270.0 L400.5,269.8 L401.0,269.9 L401.5,269.8 L402.0,269.8 L402.5,269.9 L403.0,269.9 L403.5,269.8 L404.0,269.8 L404.5,269.9 L405.0,269.8 L405.5,269.8 L406.0,269.9 L406.5,269.9 L407.0,269.8 L407.5,269.8 L408.0,269.9 L408.5,269.9 L409.0,269.8 L409.5,269.9 L410.0,269.9 L410.5,269.9 L411.0,269.7 L411.5,269.9 L412.0,269.6 L412.5,269.7 L413.0,269.9 L413.5,269.8 L414.0,269.8 L414.5,269.8 L415.0,269.9 L415.5,269.8 L416.0,269.9 L416.5,269.8 L417.0,270.0 L417.5,269.9 L418.0,269.9 L418.5,269.9 L419.0,269.7 L419.5,270.0 L420.0,269.9 L420.5,269.8 L421.0,269.9 L421.5,269.7 L422.0,269.8 L422.5,269.9 L423.0,269.8 L423.5,269.9 L424.0,269.9 L424.5,269.8 L425.0,269.9 L425.5,269.8 L426.0,269.9 L426.5,269.9 L427.0,269.8 L427.5,270.0 L428.0,269.7 L428.5,269.9 L429.0,269.7 L429.5,269.8 L430.0,269.9 L430.5,269.7 L431.0,269.9 L431.5,269.8 L432.0,269.9 L432.5,269.8 L433.0,269.8 L433.5,269.8 L434.0,269.8 L434.5,269.8 L435.0,269.9 L435.5,269.7 L436.0,269.7 L436.5,269.7 L437.0,269.7 L437.5,269.8 L438.0,269.8 L438.5,269.8 L439.0,269.8 L439.5,269.8 L440.0,269.8 L440.5,269.8 L441.0,269.9 L441.5,269.8 L442.0,269.7 L442.5,269.7 L443.0,269.8 L443.5,269.8 L444.0,269.9 L444.5,269.9 L445.0,269.8 L445.5,269.8 L446.0,269.9 L446.5,269.9 L447.0,269.9 L447.5,269.8 L448.0,269.8 L448.5,269.9 L449.0,269.9 L449.5,269.9 L450.0,269.7 L450.5,269.9 L451.0,269.8 L451.5,269.8 L452.0,269.9 L452.5,269.9 L453.0,269.9 L453.5,269.8 L454.0,269.8 L454.5,269.8 L455.0,269.8 L455.5,269.8 L456.0,269.8 L456.5,269.7 L457.0,269.8 L457.5,269.8 L458.0,269.8 L458.5,269.8 L459.0,269.8 L459.5,269.8 L460.0,269.8 L460.5,269.9 L461.0,269.8 L461.5,269.7 L462.0,269.8 L462.5,269.8 L463.0,269.8 L463.5,270.0 L464.0,269.8 L464.5,269.7" stroke="#43b02e" stroke-width="1.2" fill="none" />
<path d="M245.5,273.1 L246.0,273.1 L246.5,273.2 L247.0,273.1 L247.5,273.0 L248.0,273.1 L248.5,273.1 L249.0,273.1 L249.5,273.0 L250.0,273.1 L250.5,273.1 L251.0,273.0 L251.5,273.0 L252.0,273.2 L252.5,273.0 L253.0,273.0 L253.5,273.1 L254.0,273.0 L254.5,273.1 L255.0,273.0 L255.5,273.0 L256.0,273.2 L256.5,273.0 L257.0,273.0 L257.5,273.1 L258.0,273.2 L258.5,273.0 L259.0,273.0 L259.5,273.1 L260.0,273.1 L260.5,273.1 L261.0,273.0 L261.5,273.1 L262.0,273.0 L262.5,273.1 L263.0,273.0 L263.5,273.1 L264.0,273.1 L264.5,273.0 L265.0,273.1 L265.5,272.9 L266.0,273.0 L266.5,273.1 L267.0,273.1 L267.5,273.0 L268.0,273.1 L268.5,273.1 L269.0,273.0 L269.5,273.0 L270.0,273.0 L270.5,273.0 L271.0,273.0 L271.5,273.1 L272.0,273.1 L272.5,273.0 L273.0,273.1 L273.5,273.1 L274.0,273.0 L274.5,272.9 L275.0,273.0 L275.5,273.2 L276.0,273.0 L276.5,273.0 L277.0,272.9 L277.5,273.1 L278.0,273.0 L278.5,273.0 L279.0,273.1 L279.5,273.1 L280.0,273.1 L280.5,273.0 L281.0,273.0 L281.5,273.1 L282.0,273.1 L282.5,273.1 L283.0,273.0 L283.5,273.0 L284.0,273.0 L284.5,273.1 L285.0,273.0 L285.5,273.0 L286.0,273.1 L286.5,273.0 L287.0,273.0 L287.5,273.0 L288.0,273.0 L288.5,273.0 L289.0,273.0 L289.5,273.0 L290.0,273.0 L290.5,273.1 L291.0,273.0 L291.5,273.1 L292.0,273.1 L292.5,273.1 L293.0,273.0 L293.5,273.1 L294.0,273.0 L294.5,273.0 L295.0,272.9 L295.5,272.9 L296.0,272.9 L296.5,273.0 L297.0,272.9 L297.5,273.0 L298.0,273.1 L298.5,273.0 L299.0,273.1 L299.5,273.0 L300.0,272.9 L300.5,273.0 L301.0,272.9 L301.5,272.9 L302.0,273.0 L302.5,273.0 L303.0,273.1 L303.5,273.0 L304.0,273.0 L304.5,273.0 L305.0,273.1 L305.5,273.0 L306.0,273.0 L306.5,273.1 L307.0,273.0 L307.5,272.9 L308.0,272.9 L308.5,273.1 L309.0,273.0 L309.5,272.8 L310.0,272.9 L310.5,273.0 L311.0,273.0 L311.5,273.0 L312.0,273.0 L312.5,272.9 L313.0,273.0 L313.5,272.9 L314.0,272.9 L314.5,273.1 L315.0,273.0 L315.5,272.9 L316.0,273.0 L316.5,273.0 L317.0,272.9 L317.5,273.0 L318.0,273.0 L318.5,273.0 L319.0,273.0 L319.5,272.9 L320.0,273.0 L320.5,272.9 L321.0,272.9 L321.5,272.9 L322.0,272.9 L322.5,273.0 L323.0,273.0 L323.5,273.0 L324.0,272.9 L324.5,273.0 L325.0,273.0 L325.5,272.9 L326.0,273.0 L326.5,273.0 L327.0,272.9 L327.5,273.0 L328.0,272.9 L328.5,272.9 L329.0,273.0 L329.5,272.9 L330.0,272.9 L330.5,272.9 L331.0,273.0 L331.5,273.0 L332.0,272.8 L332.5,272.9 L333.0,273.0 L333.5,273.0 L334.0,273.0 L334.5,272.9 L335.0,273.0 L335.5,272.9 L336.0,273.0 L336.5,272.9 L337.0,272.8 L337.5,272.9 L338.0,272.9 L338.5,272.9 L339.0,273.0 L339.5,272.8 L340.0,273.0 L340.5,273.0 L341.0,272.9 L341.5,273.0 L342.0,272.9 L342.5,272.8 L343.0,273.0 L343.5,272.9 L344.0,272.9 L344.5,273.0 L345.0,273.0 L345.5,272.9 L346.0,273.0 L346.5,272.9 L347.0,273.0 L347.5,272.9 L348.0,272.8 L348.5,272.9 L349.0,272.8 L349.5,272.9 L350.0,273.0 L350.5,272.9 L351.0,272.9 L351.5,273.0 L352.0,273.0 L352.5,272.9 L353.0,273.0 L353.5,272.9 L354.0,272.9 L354.5,272.9 L355.0,272.9 L355.5,272.9 L356.0,272.9 L356.5,272.9 L357.0,272.9 L357.5,273.0 L358.0,272.9 L358.5,272.8 L359.0,272.9 L359.5,272.8 L360.0,272.8 L360.5,272.8 L361.0,273.0 L361.5,272.9 L362.0,273.0 L362.5,272.9 L363.0,272.9 L363.5,272.8 L364.0,272.9 L364.5,272.9 L365.0,272.7 L365.5,272.9 L366.0,273.0 L366.5,272.8 L367.0,272.8 L367.5,272.9 L368.0,272.8 L368.5,272.8 L369.0,272.9 L369.5,273.0 L370.0,272.9 L370.5,272.9 L371.0,272.8 L371.5,272.8 L372.0,272.8 L372.5,272.9 L373.0,272.8 L373.5,273.0 L374.0,273.0 L374.5,272.8 L375.0,272.8 L375.5,272.9 L376.0,272.9 L376.5,272.9 L377.0,272.9 L377.5,272.9 L378.0,272.8 L378.5,272.9 L379.0,272.8 L379.5,272.9 L380.0,273.0 L380.5,272.9 L381.0,272.9 L381.5,272.9 L382.0,272.9 L382.5,272.8 L383.0,272.9 L383.5,273.0 L384.0,272.9 L384.5,272.8 L385.0,272.9 L385.5,272.8 L386.0,272.9 L386.5,272.8 L387.0,272.9 L387.5,272.7 L388.0,272.8 L388.5,272.9 L389.0,272.9 L389.5,272.9 L390.0,272.9 L390.5,272.8 L391.0,272.8 L391.5,272.9 L392.0,272.8 L392.5,272.7 L393.0,272.8 L393.5,272.8 L394.0,272.8 L394.5,272.9 L395.0,272.9 L395.5,272.8 L396.0,272.8 L396.5,272.8 L397.0,272.8 L397.5,272.9 L398.0,272.8 L398.5,272.8 L399.0,272.9 L399.5,272.7 L400.0,272.8 L400.5,272.9 L401.0,272.7 L401.5,272.8 L402.0,272.8 L402.5,272.7 L403.0,272.9 L403.5,272.8 L404.0,272.8 L404.5,272.9 L405.0,272.9 L405.5,272.9 L406.0,272.8 L406.5,272.8 L407.0,272.8 L407.5,272.8 L408.0,273.0 L408.5,272.8 L409.0,272.7 L409.5,272.8 L410.0,272.8 L410.5,272.8 L411.0,272.8 L411.5,272.7 L412.0,272.8 L412.5,272.7 L413.0,272.9 L413.5,272.7 L414.0,272.8 L414.5,272.8 L415.0,272.9 L415.5,272.8 L416.0,273.0 L416.5,272.9 L417.0,272.8 L417.5,272.8 L418.0,272.7 L418.5,272.8 L419.0,272.7 L419.5,272.8 L420.0,272.8 L420.5,272.7 L421.0,272.7 L421.5,272.9 L422.0,272.8 L422.5,272.7 L423.0,272.8 L423.5,272.8 L424.0,272.8 L424.5,272.7 L425.0,272.7 L425.5,272.7 L426.0,272.7 L426.5,272.8 L427.0,272.8 L427.5,272.8 L428.0,272.7 L428.5,272.9 L429.0,272.8 L429.5,272.9 L430.0,272.7 L430.5,272.7 L431.0,272.7 L431.5,272.7 L432.0,272.8 L432.5,272.7 L433.0,272.8 L433.5,272.7 L434.0,272.7 L434.5,272.7 L435.0,272.9 L435.5,272.8 L436.0,272.8 L436.5,272.8 L437.0,272.8 L437.5,272.8 L438.0,272.8 L438.5,272.8 L439.0,272.7 L439.5,272.7 L440.0,272.8 L440.5,272.7 L441.0,272.7 L441.5,272.7 L442.0,272.7 L442.5,272.8 L443.0,272.8 L443.5,272.8 L444.0,272.6 L444.5,272.8 L445.0,272.8 L445.5,272.8 L446.0,272.7 L446.5,272.7 L447.0,272.7 L447.5,272.8 L448.0,272.7 L448.5,272.8 L449.0,272.7 L449.5,272.6 L450.0,272.9 L450.5,272.8 L451.0,272.7 L451.5,272.7 L452.0,272.7 L452.5,272.7 L453.0,272.8 L453.5,272.6 L454.0,272.7 L454.5,272.7 L455.0,272.8 L455.5,272.8 L456.0,272.6 L456.5,272.7 L457.0,272.7 L457.5,272.7 L458.0,272.6 L458.5,272.7 L459.0,272.7 L459.5,272.7 L460.0,272.7 L460.5,272.7 L461.0,272.8 L461.5,272.7 L462.0,272.7 L462.5,272.7 L463.0,272.8 L463.5,272.7 L464.0,272.8 L464.5,272.7" stroke="#43b02e" stroke-width="1.2" fill="none" />
<path d="M245.5,315.6 L245.9,315.8 L246.3,316.2 L246.7,315.4 L247.1,315.6 L247.5,315.4 L247.9,315.5 L248.3,315.5 L248.7,315.2 L249.1,315.4 L249.5,315.7 L249.9,315.5 L250.3,315.8 L250.7,315.8 L251.1,315.5 L251.5,315.6 L251.9,315.5 L252.3,315.8 L252.7,315.8 L253.1,315.5 L253.5,315.8 L253.9,315.7 L254.3,316.1 L254.7,316.2 L255.1,315.9 L255.5,315.7 L255.9,315.3 L256.3,315.5 L256.7,315.9 L257.1,315.9 L257.5,315.4 L257.9,315.5 L258.3,315.2 L258.7,315.4 L259.1,315.0 L259.5,315.6 L259.9,315.8 L260.3,315.0 L260.7,305.5 L260.8,305.3 L261.1,308.3 L261.5,312.2 L261.9,313.3 L262.3,314.6 L262.7,315.0 L263.1,315.4 L263.5,315.8 L263.9,315.1 L264.3,315.3 L264.7,315.3 L265.1,315.1 L265.5,316.0 L265.9,315.4 L266.3,314.2 L266.7,300.4 L266.8,299.0 L267.1,304.7 L267.5,309.3 L267.9,311.9 L268.3,314.0 L268.7,314.6 L269.1,315.1 L269.5,315.0 L269.9,315.2 L270.3,315.6 L270.7,315.5 L271.1,315.5 L271.5,316.1 L271.9,315.7 L272.3,315.3 L272.7,313.0 L273.1,302.2 L273.5,308.2 L273.9,311.1 L274.3,312.5 L274.7,313.8 L275.1,314.4 L275.5,314.5 L275.9,302.3 L276.0,300.7 L276.3,306.2 L276.7,310.2 L277.1,312.4 L277.5,313.9 L277.9,314.6 L278.3,315.4 L278.7,314.8 L279.1,315.4 L279.5,315.2 L279.9,315.1 L280.3,315.6 L280.7,315.0 L281.1,315.5 L281.5,315.4 L281.9,315.5 L282.3,315.4 L282.7,315.5 L283.1,315.2 L283.5,315.2 L283.9,315.6 L284.3,315.7 L284.7,316.2 L285.1,315.6 L285.5,315.2 L285.9,315.7 L286.3,315.5 L286.7,315.8 L287.1,315.6 L287.5,315.7 L287.9,315.6 L288.3,315.1 L288.7,315.3 L289.1,316.0 L289.5,316.0 L289.9,315.7 L290.3,314.9 L290.7,306.1 L290.8,304.6 L291.1,308.8 L291.5,311.7 L291.9,313.0 L292.3,314.3 L292.7,315.2 L293.1,315.0 L293.5,314.8 L293.9,315.4 L294.3,315.4 L294.7,315.6 L295.1,315.2 L295.5,315.4 L295.9,315.7 L296.3,315.5 L296.7,315.5 L297.1,315.2 L297.5,315.6 L297.9,315.6 L298.3,315.6 L298.7,315.3 L299.1,315.2 L299.5,306.6 L299.7,301.3 L299.9,305.2 L300.3,309.2 L300.7,312.1 L301.1,313.7 L301.5,314.3 L301.9,314.7 L302.3,315.0 L302.7,315.5 L303.1,315.1 L303.5,315.4 L303.9,311.0 L304.2,301.6 L304.3,303.6 L304.7,308.8 L305.1,311.9 L305.5,313.0 L305.9,314.8 L306.3,315.1 L306.7,315.1 L307.1,315.5 L307.5,315.1 L307.9,315.6 L308.3,315.3 L308.7,315.7 L309.1,315.6 L309.5,315.5 L309.9,315.2 L310.3,315.2 L310.7,315.6 L311.1,315.5 L311.5,315.7 L311.9,315.3 L312.3,315.9 L312.7,315.7 L313.1,313.8 L313.5,301.8 L313.9,307.8 L314.3,310.6 L314.7,313.3 L315.1,314.0 L315.5,314.7 L315.9,314.6 L316.3,315.1 L316.7,315.7 L317.1,315.1 L317.5,315.4 L317.9,315.8 L318.3,315.3 L318.7,315.8 L319.1,316.0 L319.5,315.2 L319.9,315.5 L320.3,315.0 L320.7,315.6 L321.1,315.7 L321.5,315.6 L321.9,315.0 L322.3,312.6 L322.7,300.0 L323.1,306.3 L323.5,310.5 L323.9,312.1 L324.3,313.4 L324.7,314.3 L325.1,314.6 L325.5,314.5 L325.9,315.4 L326.3,315.6 L326.7,315.2 L327.1,315.3 L327.5,315.6 L327.9,315.9 L328.3,315.4 L328.7,315.4 L329.1,315.4 L329.5,315.6 L329.9,315.4 L330.3,315.4 L330.7,315.2 L331.1,315.7 L331.5,315.6 L331.9,315.5 L332.3,315.7 L332.7,315.7 L333.1,309.2 L333.5,301.3 L333.9,304.4 L334.3,306.2 L334.7,301.5 L335.0,292.5 L335.1,294.2 L335.5,299.7 L335.9,298.4 L336.2,288.2 L336.3,289.7 L336.7,295.9 L337.1,291.2 L337.2,289.2 L337.5,294.4 L337.9,298.8 L338.2,292.6 L338.3,292.9 L338.7,296.9 L339.1,299.5 L339.5,302.0 L339.9,303.5 L340.3,304.6 L340.7,306.1 L341.1,307.0 L341.5,308.2 L341.9,308.9 L342.3,309.4 L342.7,309.8 L343.1,309.0 L343.5,294.3 L343.9,300.4 L344.3,304.1 L344.7,307.2 L345.1,307.3 L345.5,294.7 L345.9,300.4 L346.3,304.6 L346.7,306.9 L347.1,308.4 L347.5,310.0 L347.9,304.3 L348.2,296.8 L348.3,298.7 L348.7,303.2 L349.1,306.0 L349.5,308.7 L349.9,309.6 L350.3,306.0 L350.6,296.4 L350.7,296.6 L351.1,301.8 L351.5,305.4 L351.9,308.1 L352.3,309.1 L352.7,310.2 L353.1,296.0 L353.3,291.0 L353.5,295.5 L353.9,300.7 L354.3,304.3 L354.7,307.0 L355.1,309.0 L355.5,309.6 L355.9,305.1 L356.3,292.1 L356.3,293.1 L356.7,299.1 L357.1,303.3 L357.5,306.4 L357.9,308.0 L358.3,309.1 L358.7,295.8 L358.9,289.5 L359.1,292.7 L359.5,298.8 L359.9,303.4 L360.3,306.3 L360.7,307.9 L361.1,309.1 L361.5,301.0 L361.8,290.2 L361.9,292.7 L362.3,298.5 L362.7,302.6 L363.1,305.2 L363.5,307.1 L363.9,308.9 L364.3,304.4 L364.7,288.4 L364.7,289.1 L365.1,296.3 L365.5,301.0 L365.9,304.7 L366.3,306.8 L366.7,307.9 L367.1,297.1 L367.3,290.8 L367.5,294.4 L367.9,299.9 L368.3,303.2 L368.7,305.8 L369.1,307.9 L369.5,307.2 L369.9,290.8 L370.0,289.7 L370.3,295.8 L370.7,300.4 L371.1,304.4 L371.5,306.1 L371.9,307.9 L372.3,308.5 L372.7,297.0 L372.9,293.5 L373.1,297.4 L373.5,301.5 L373.9,304.8 L374.3,306.9 L374.7,307.6 L375.1,308.5 L375.5,304.3 L375.9,289.6 L375.9,290.2 L376.3,297.0 L376.7,301.3 L377.1,304.4 L377.5,306.1 L377.9,307.3 L378.3,296.9 L378.4,294.3 L378.7,298.1 L379.1,301.7 L379.5,304.8 L379.9,306.7 L380.3,307.2 L380.7,290.8 L380.8,288.5 L381.1,293.6 L381.5,299.0 L381.9,302.7 L382.3,304.9 L382.7,295.5 L382.9,293.1 L383.1,296.4 L383.5,300.8 L383.9,303.8 L384.3,305.7 L384.7,307.1 L385.1,308.2 L385.5,308.4 L385.9,301.5 L386.2,293.8 L386.3,295.1 L386.7,299.9 L387.1,303.3 L387.5,305.4 L387.9,306.4 L388.3,307.2 L388.7,295.2 L388.8,293.1 L389.1,297.2 L389.5,300.7 L389.9,303.9 L390.3,305.6 L390.7,306.3 L391.1,308.0 L391.5,308.2 L391.9,308.8 L392.3,304.4 L392.7,289.4 L393.1,302.7 L393.5,292.0 L393.9,305.9 L394.3,292.1 L394.7,305.8 L395.1,289.1 L395.5,308.6 L395.9,291.1 L396.3,303.8 L396.7,291.7 L397.1,307.0 L397.5,292.3 L397.9,306.9 L398.3,290.9 L398.7,300.6 L399.1,293.5 L399.5,303.8 L399.9,291.9 L400.3,306.2 L400.7,289.3 L401.1,305.6 L401.5,294.9 L401.9,303.6 L402.3,289.9 L402.7,298.9 L403.1,289.4 L403.5,301.3 L403.9,293.1 L404.3,303.6 L404.7,292.7 L405.1,300.1 L405.5,290.2 L405.9,299.9 L406.3,292.5 L406.7,302.0 L407.1,292.3 L407.5,305.7 L407.9,290.2 L408.3,299.6 L408.7,291.1 L409.1,301.8 L409.5,291.0 L409.9,302.6 L410.3,290.2 L410.7,301.9 L411.1,291.7 L411.5,302.1 L411.9,290.9 L412.3,298.0 L412.7,290.8 L413.1,300.0 L413.5,290.6 L413.9,296.7 L414.3,290.6 L414.7,297.9 L415.1,293.4 L415.5,300.7 L415.9,293.9 L416.3,296.3 L416.7,293.0 L417.1,298.1 L417.5,289.7 L417.9,299.8 L418.3,290.3 L418.7,296.0 L419.1,291.9 L419.5,296.7 L419.9,291.4 L420.3,297.0 L420.7,292.1 L421.1,297.2 L421.5,292.0 L421.9,297.3 L422.3,293.3 L422.7,299.0 L423.1,292.5 L423.5,298.1 L423.9,294.8 L424.3,298.3 L424.7,290.3 L425.1,298.6 L425.5,292.1 L425.9,296.8 L426.3,292.3 L426.7,293.4 L427.1,295.6 L427.5,295.4 L427.9,289.9 L428.3,297.9 L428.7,293.9 L429.1,295.8 L429.5,296.0 L429.9,295.6 L430.3,292.9 L430.7,296.9 L431.1,292.3 L431.5,295.5 L431.9,292.8 L432.3,295.6 L432.7,289.7 L433.1,295.7 L433.5,292.2 L433.9,298.2 L434.3,289.6 L434.7,297.9 L435.1,293.9 L435.5,297.9 L435.9,290.4 L436.3,295.5 L436.7,291.8 L437.1,298.2 L437.5,290.2 L437.9,295.6 L438.3,291.0 L438.7,295.7 L439.1,291.1 L439.5,297.0 L439.9,293.5 L440.3,296.2 L440.7,293.7 L441.1,297.1 L441.5,292.6 L441.9,296.6 L442.3,291.0 L442.7,296.5 L443.1,293.8 L443.5,297.1 L443.9,292.9 L444.3,294.9 L444.7,293.5 L445.1,296.8 L445.5,292.9 L445.9,297.1 L446.3,292.4 L446.7,294.4 L447.1,292.5 L447.5,296.5 L447.9,290.8 L448.3,294.4 L448.7,292.4 L449.1,296.1 L449.5,291.9 L449.9,295.7 L450.3,292.2 L450.7,298.2 L451.1,293.9 L451.5,297.7 L451.9,291.4 L452.3,297.5 L452.7,293.9 L453.1,295.3 L453.5,292.6 L453.9,294.5 L454.3,291.8 L454.7,295.6 L455.1,291.7 L455.5,297.9 L455.9,293.0 L456.3,295.2 L456.7,292.5 L457.1,298.3 L457.5,293.1 L457.9,295.8 L458.3,290.9 L458.7,296.4 L459.1,293.7 L459.5,296.7 L459.9,291.5 L460.3,297.5 L460.7,291.4 L461.1,295.8 L461.5,290.0 L461.9,297.1 L462.3,293.1 L462.7,295.6 L463.1,292.1 L463.5,295.1 L463.9,293.8 L464.3,296.5 L464.7,292.3" stroke="#43b02e" stroke-width="1.1" fill="none" />
<path d="M245.5,331.2 L245.9,331.3 L246.3,330.9 L246.7,330.9 L247.1,331.3 L247.5,331.3 L247.9,331.4 L248.3,331.2 L248.7,331.5 L249.1,331.2 L249.5,331.6 L249.9,330.9 L250.3,331.1 L250.7,330.9 L251.1,331.1 L251.5,331.5 L251.9,331.1 L252.3,331.3 L252.7,331.3 L253.1,331.3 L253.5,331.1 L253.9,331.3 L254.3,331.1 L254.7,331.2 L255.1,331.4 L255.5,331.3 L255.9,331.6 L256.3,331.6 L256.7,331.5 L257.1,331.5 L257.5,331.1 L257.9,331.2 L258.3,331.1 L258.7,330.9 L259.1,331.1 L259.5,331.4 L259.9,331.4 L260.3,331.2 L260.7,331.6 L261.1,331.5 L261.5,331.3 L261.9,331.0 L262.3,331.0 L262.7,330.8 L263.1,331.3 L263.5,331.0 L263.9,331.3 L264.3,330.9 L264.7,331.1 L265.1,331.2 L265.5,331.0 L265.9,330.8 L266.3,331.1 L266.7,331.3 L267.1,331.1 L267.5,331.1 L267.9,331.2 L268.3,330.6 L268.7,331.1 L269.1,331.1 L269.5,331.2 L269.9,331.5 L270.3,331.1 L270.7,331.3 L271.1,331.0 L271.5,331.1 L271.9,331.1 L272.3,331.0 L272.7,331.3 L273.1,331.3 L273.5,331.2 L273.9,331.2 L274.3,330.9 L274.7,330.9 L275.1,330.8 L275.5,331.1 L275.9,331.2 L276.3,331.3 L276.7,331.0 L277.1,331.3 L277.5,331.2 L277.9,330.9 L278.3,331.1 L278.7,331.2 L279.1,331.2 L279.5,331.1 L279.9,330.8 L280.3,330.9 L280.7,330.8 L281.1,331.0 L281.5,331.1 L281.9,330.9 L282.3,331.4 L282.7,331.2 L283.1,330.8 L283.5,331.2 L283.9,331.1 L284.3,331.2 L284.7,331.2 L285.1,331.1 L285.5,331.5 L285.9,331.0 L286.3,330.8 L286.7,330.7 L287.1,330.9 L287.5,330.9 L287.9,331.0 L288.3,330.9 L288.7,330.9 L289.1,330.7 L289.5,331.0 L289.9,330.9 L290.3,331.3 L290.7,330.8 L291.1,330.8 L291.5,331.4 L291.9,331.1 L292.3,331.0 L292.7,330.8 L293.1,331.3 L293.5,330.9 L293.9,330.9 L294.3,330.9 L294.7,330.5 L295.1,330.8 L295.5,330.9 L295.9,330.8 L296.3,331.1 L296.7,331.0 L297.1,331.0 L297.5,331.0 L297.9,331.2 L298.3,330.7 L298.7,330.9 L299.1,331.2 L299.5,331.0 L299.9,330.6 L300.3,331.3 L300.7,331.1 L301.1,331.2 L301.5,331.2 L301.9,331.0 L302.3,331.1 L302.7,330.8 L303.1,331.1 L303.5,330.4 L303.9,331.1 L304.3,330.9 L304.7,330.9 L305.1,330.8 L305.5,331.0 L305.9,331.2 L306.3,331.0 L306.7,330.8 L307.1,330.8 L307.5,331.1 L307.9,330.9 L308.3,331.2 L308.7,331.1 L309.1,331.0 L309.5,330.7 L309.9,331.2 L310.3,331.2 L310.7,331.1 L311.1,330.9 L311.5,331.1 L311.9,331.1 L312.3,330.9 L312.7,331.2 L313.1,330.9 L313.5,331.3 L313.9,330.9 L314.3,331.3 L314.7,331.4 L315.1,330.7 L315.5,330.8 L315.9,331.1 L316.3,330.9 L316.7,331.3 L317.1,331.0 L317.5,331.1 L317.9,331.2 L318.3,331.2 L318.7,330.8 L319.1,331.1 L319.5,331.0 L319.9,331.1 L320.3,331.2 L320.7,330.9 L321.1,331.1 L321.5,330.9 L321.9,331.1 L322.3,330.9 L322.7,331.2 L323.1,331.1 L323.5,331.2 L323.9,330.5 L324.3,331.0 L324.7,330.9 L325.1,330.7 L325.5,330.8 L325.9,330.8 L326.3,330.9 L326.7,330.9 L327.1,331.1 L327.5,331.2 L327.9,331.1 L328.3,330.9 L328.7,330.8 L329.1,330.8 L329.5,330.9 L329.9,331.3 L330.3,331.0 L330.7,331.0 L331.1,331.0 L331.5,331.1 L331.9,330.6 L332.3,330.9 L332.7,331.3 L333.1,330.8 L333.5,331.1 L333.9,331.1 L334.3,331.0 L334.7,330.6 L335.1,330.8 L335.5,331.2 L335.9,331.1 L336.3,330.8 L336.7,330.6 L337.1,331.1 L337.5,330.5 L337.9,330.7 L338.3,331.3 L338.7,330.7 L339.1,331.1 L339.5,330.8 L339.9,331.2 L340.3,330.7 L340.7,331.4 L341.1,330.9 L341.5,331.2 L341.9,331.1 L342.3,330.8 L342.7,330.9 L343.1,331.1 L343.5,330.8 L343.9,330.9 L344.3,331.0 L344.7,331.1 L345.1,330.8 L345.5,330.8 L345.9,331.2 L346.3,331.1 L346.7,330.7 L347.1,331.0 L347.5,330.6 L347.9,330.8 L348.3,330.4 L348.7,330.9 L349.1,331.1 L349.5,330.8 L349.9,330.8 L350.3,330.6 L350.7,330.9 L351.1,330.9 L351.5,330.8 L351.9,330.6 L352.3,330.6 L352.7,330.8 L353.1,331.1 L353.5,331.0 L353.9,330.7 L354.3,331.0 L354.7,330.8 L355.1,330.6 L355.5,330.9 L355.9,330.6 L356.3,331.4 L356.7,330.5 L357.1,330.5 L357.5,330.9 L357.9,330.8 L358.3,331.0 L358.7,330.9 L359.1,330.6 L359.5,331.0 L359.9,330.8 L360.3,330.8 L360.7,331.0 L361.1,330.8 L361.5,330.9 L361.9,330.5 L362.3,330.7 L362.7,331.1 L363.1,330.3 L363.5,330.5 L363.9,330.9 L364.3,331.1 L364.7,330.7 L365.1,330.5 L365.5,331.0 L365.9,331.0 L366.3,331.1 L366.7,330.8 L367.1,330.9 L367.5,331.0 L367.9,331.0 L368.3,330.7 L368.7,330.9 L369.1,330.5 L369.5,330.6 L369.9,330.8 L370.3,330.9 L370.7,330.9 L371.1,330.9 L371.5,331.1 L371.9,330.9 L372.3,330.5 L372.7,330.8 L373.1,330.6 L373.5,330.8 L373.9,331.0 L374.3,331.1 L374.7,330.8 L375.1,330.9 L375.5,330.6 L375.9,330.9 L376.3,330.7 L376.7,331.4 L377.1,331.0 L377.5,330.8 L377.9,330.9 L378.3,330.6 L378.7,330.7 L379.1,330.7 L379.5,330.6 L379.9,330.9 L380.3,330.9 L380.7,330.6 L381.1,330.7 L381.5,331.1 L381.9,331.2 L382.3,330.9 L382.7,330.4 L383.1,330.5 L383.5,330.7 L383.9,331.1 L384.3,330.7 L384.7,331.1 L385.1,331.0 L385.5,330.7 L385.9,330.8 L386.3,330.1 L386.7,330.8 L387.1,330.8 L387.5,331.0 L387.9,330.6 L388.3,331.0 L388.7,330.7 L389.1,330.9 L389.5,330.6 L389.9,330.5 L390.3,331.0 L390.7,330.6 L391.1,330.8 L391.5,330.5 L391.9,330.7 L392.3,331.1 L392.7,330.8 L393.1,330.7 L393.5,331.1 L393.9,330.8 L394.3,330.7 L394.7,330.9 L395.1,330.9 L395.5,330.7 L395.9,330.6 L396.3,330.7 L396.7,330.8 L397.1,330.8 L397.5,330.7 L397.9,331.0 L398.3,330.3 L398.7,330.7 L399.1,331.0 L399.5,330.8 L399.9,330.7 L400.3,330.7 L400.7,331.1 L401.1,330.6 L401.5,330.6 L401.9,330.7 L402.3,330.3 L402.7,330.7 L403.1,330.7 L403.5,331.1 L403.9,330.9 L404.3,330.7 L404.7,330.8 L405.1,330.5 L405.5,330.8 L405.9,330.9 L406.3,330.6 L406.7,330.4 L407.1,330.7 L407.5,330.8 L407.9,330.7 L408.3,330.7 L408.7,330.8 L409.1,330.8 L409.5,330.4 L409.9,330.8 L410.3,330.7 L410.7,330.5 L411.1,330.8 L411.5,330.5 L411.9,330.7 L412.3,330.4 L412.7,330.7 L413.1,330.8 L413.5,330.9 L413.9,330.6 L414.3,330.8 L414.7,330.9 L415.1,330.9 L415.5,330.6 L415.9,330.8 L416.3,330.8 L416.7,330.7 L417.1,330.5 L417.5,330.8 L417.9,330.7 L418.3,330.6 L418.7,330.6 L419.1,330.8 L419.5,330.6 L419.9,330.6 L420.3,331.1 L420.7,330.6 L421.1,330.8 L421.5,330.6 L421.9,330.5 L422.3,330.4 L422.7,330.5 L423.1,330.9 L423.5,330.9 L423.9,330.5 L424.3,330.7 L424.7,330.6 L425.1,330.8 L425.5,330.4 L425.9,330.7 L426.3,330.7 L426.7,330.6 L427.1,330.4 L427.5,330.5 L427.9,331.1 L428.3,330.4 L428.7,330.5 L429.1,330.7 L429.5,330.6 L429.9,330.9 L430.3,330.8 L430.7,330.4 L431.1,330.4 L431.5,330.6 L431.9,330.9 L432.3,330.5 L432.7,330.9 L433.1,330.5 L433.5,330.5 L433.9,330.7 L434.3,330.6 L434.7,330.6 L435.1,330.4 L435.5,330.5 L435.9,330.6 L436.3,330.4 L436.7,331.0 L437.1,330.9 L437.5,330.8 L437.9,330.6 L438.3,330.3 L438.7,330.7 L439.1,330.6 L439.5,330.6 L439.9,330.6 L440.3,330.4 L440.7,330.8 L441.1,330.5 L441.5,330.9 L441.9,330.6 L442.3,330.5 L442.7,330.5 L443.1,331.0 L443.5,330.6 L443.9,330.7 L444.3,330.5 L444.7,330.6 L445.1,330.5 L445.5,330.4 L445.9,330.5 L446.3,330.9 L446.7,330.2 L447.1,330.9 L447.5,330.5 L447.9,330.4 L448.3,330.8 L448.7,330.7 L449.1,330.3 L449.5,321.3 L449.6,320.4 L449.9,323.6 L450.3,326.7 L450.7,328.1 L451.1,324.0 L451.3,320.5 L451.5,322.9 L451.9,325.8 L452.3,327.8 L452.7,329.1 L453.1,329.5 L453.5,330.1 L453.9,330.1 L454.3,323.1 L454.5,319.0 L454.7,321.9 L455.1,325.1 L455.5,327.8 L455.9,326.1 L456.2,319.3 L456.3,320.4 L456.7,323.8 L457.1,325.8 L457.5,327.4 L457.9,328.7 L458.3,328.8 L458.7,330.1 L459.1,329.8 L459.5,329.9 L459.9,330.1 L460.3,330.2 L460.7,330.2 L461.1,330.3 L461.5,330.8 L461.9,330.7 L462.3,330.6 L462.7,330.9 L463.1,330.5 L463.5,330.6 L463.9,330.5 L464.3,330.6 L464.7,330.5" stroke="#43b02e" stroke-width="1.1" fill="none" />
<path d="M245.5,359.0 L245.9,359.1 L246.3,359.3 L246.7,359.2 L247.1,358.7 L247.5,359.1 L247.9,359.3 L248.3,359.7 L248.7,359.7 L249.1,359.0 L249.5,359.4 L249.9,359.2 L250.3,359.0 L250.7,359.6 L251.1,359.0 L251.5,359.8 L251.9,359.6 L252.3,359.2 L252.7,359.5 L253.1,359.2 L253.5,359.4 L253.9,359.2 L254.3,359.3 L254.7,359.7 L255.1,359.3 L255.5,359.2 L255.9,359.2 L256.3,359.6 L256.7,359.3 L257.1,359.1 L257.5,359.3 L257.9,359.0 L258.3,358.8 L258.7,359.4 L259.1,359.2 L259.5,359.2 L259.9,359.1 L260.3,359.5 L260.7,358.9 L261.1,359.3 L261.5,359.1 L261.9,359.6 L262.3,359.4 L262.7,359.2 L263.1,359.3 L263.5,359.1 L263.9,359.2 L264.3,359.2 L264.7,359.3 L265.1,359.4 L265.5,359.1 L265.9,359.2 L266.3,359.4 L266.7,359.3 L267.1,359.0 L267.5,359.2 L267.9,359.4 L268.3,359.6 L268.7,358.9 L269.1,353.5 L269.5,356.4 L269.9,358.0 L270.3,357.9 L270.7,358.6 L271.1,358.9 L271.5,359.0 L271.9,353.8 L272.1,351.2 L272.3,352.3 L272.7,355.3 L273.1,356.9 L273.5,357.9 L273.9,358.6 L274.3,358.4 L274.7,359.0 L275.1,359.2 L275.5,359.7 L275.9,359.0 L276.3,359.4 L276.7,359.1 L277.1,359.3 L277.5,359.7 L277.9,358.9 L278.3,359.2 L278.7,359.5 L279.1,359.5 L279.5,359.2 L279.9,359.2 L280.3,359.0 L280.7,359.4 L281.1,358.9 L281.5,359.1 L281.9,359.5 L282.3,359.4 L282.7,359.4 L283.1,358.9 L283.5,359.2 L283.9,359.4 L284.3,359.5 L284.7,359.1 L285.1,359.1 L285.5,359.0 L285.9,359.0 L286.3,359.2 L286.7,359.2 L287.1,359.0 L287.5,359.7 L287.9,359.1 L288.3,359.2 L288.7,359.4 L289.1,359.1 L289.5,359.6 L289.9,359.5 L290.3,359.4 L290.7,359.6 L291.1,359.1 L291.5,359.5 L291.9,359.3 L292.3,359.4 L292.7,359.3 L293.1,359.1 L293.5,359.0 L293.9,359.3 L294.3,358.8 L294.7,359.5 L295.1,359.0 L295.5,359.2 L295.9,359.5 L296.3,359.4 L296.7,359.2 L297.1,359.5 L297.5,359.1 L297.9,359.1 L298.3,359.0 L298.7,359.2 L299.1,359.0 L299.5,359.2 L299.9,359.5 L300.3,359.5 L300.7,359.4 L301.1,359.4 L301.5,359.2 L301.9,359.3 L302.3,359.3 L302.7,359.7 L303.1,359.6 L303.5,359.2 L303.9,359.2 L304.3,359.3 L304.7,359.2 L305.1,359.4 L305.5,359.2 L305.9,359.8 L306.3,359.3 L306.7,359.0 L307.1,359.4 L307.5,359.4 L307.9,358.9 L308.3,359.4 L308.7,359.6 L309.1,359.3 L309.5,359.4 L309.9,359.2 L310.3,360.0 L310.7,359.1 L311.1,359.1 L311.5,359.2 L311.9,359.6 L312.3,359.8 L312.7,358.9 L313.1,359.4 L313.5,359.5 L313.9,359.3 L314.3,359.5 L314.7,359.2 L315.1,359.7 L315.5,359.1 L315.9,359.5 L316.3,359.6 L316.7,358.9 L317.1,359.2 L317.5,359.1 L317.9,359.5 L318.3,359.2 L318.7,359.0 L319.1,359.7 L319.5,359.1 L319.9,359.2 L320.3,359.2 L320.7,359.1 L321.1,359.1 L321.5,359.4 L321.9,359.2 L322.3,359.7 L322.7,359.3 L323.1,349.4 L323.2,348.5 L323.5,351.6 L323.9,354.5 L324.3,356.0 L324.7,357.7 L325.1,358.3 L325.5,358.6 L325.9,359.0 L326.3,358.5 L326.7,358.8 L327.1,349.3 L327.3,344.1 L327.5,346.6 L327.9,351.7 L328.3,354.3 L328.7,348.6 L328.9,343.6 L329.1,347.6 L329.5,351.6 L329.9,354.1 L330.3,343.6 L330.4,341.9 L330.7,347.3 L331.1,351.2 L331.5,340.1 L331.5,339.9 L331.9,346.2 L332.3,351.0 L332.7,353.4 L333.1,342.2 L333.2,342.0 L333.5,347.1 L333.9,351.0 L334.3,341.9 L334.4,341.0 L334.7,346.5 L335.1,351.0 L335.5,353.7 L335.9,355.8 L336.3,357.2 L336.7,357.9 L337.1,358.1 L337.5,358.8 L337.9,358.4 L338.3,358.6 L338.7,358.6 L339.1,359.4 L339.5,359.2 L339.9,358.9 L340.3,359.2 L340.7,359.2 L341.1,349.2 L341.3,343.9 L341.5,347.1 L341.9,351.3 L342.3,354.4 L342.7,347.9 L342.9,343.2 L343.1,345.9 L343.5,351.0 L343.9,354.0 L344.3,344.8 L344.4,342.7 L344.7,347.9 L345.1,351.8 L345.5,345.2 L345.7,339.7 L345.9,344.3 L346.3,348.6 L346.7,338.8 L346.7,338.3 L347.1,345.2 L347.5,350.1 L347.9,353.3 L348.3,345.2 L348.3,344.8 L348.7,349.6 L349.1,353.4 L349.5,349.0 L349.7,345.5 L349.9,348.2 L350.3,351.8 L350.7,354.1 L351.1,351.1 L351.4,341.3 L351.5,344.0 L351.9,349.9 L352.3,350.8 L352.5,345.2 L352.7,347.6 L353.1,351.8 L353.5,354.7 L353.9,356.0 L354.3,357.2 L354.7,358.4 L355.1,358.9 L355.5,358.7 L355.9,358.9 L356.3,359.3 L356.7,359.8 L357.1,359.5 L357.5,359.6 L357.9,359.2 L358.3,359.4 L358.7,359.2 L359.1,359.1 L359.5,359.4 L359.9,359.2 L360.3,359.5 L360.7,358.9 L361.1,359.3 L361.5,359.3 L361.9,359.4 L362.3,359.1 L362.7,359.2 L363.1,356.6 L363.5,345.1 L363.9,349.5 L364.3,352.8 L364.7,355.1 L365.1,357.1 L365.5,357.3 L365.9,358.3 L366.3,358.6 L366.7,358.8 L367.1,359.0 L367.5,359.4 L367.9,358.8 L368.3,359.5 L368.7,358.9 L369.1,358.8 L369.5,359.3 L369.9,359.1 L370.3,359.2 L370.7,359.4 L371.1,359.5 L371.5,359.6 L371.9,359.2 L372.3,359.4 L372.7,359.9 L373.1,359.6 L373.5,358.9 L373.9,359.5 L374.3,359.0 L374.7,359.4 L375.1,359.0 L375.5,359.0 L375.9,359.1 L376.3,359.8 L376.7,359.2 L377.1,359.4 L377.5,358.2 L377.9,343.7 L378.0,342.1 L378.3,347.2 L378.7,351.0 L379.1,354.0 L379.5,355.8 L379.9,350.2 L380.1,343.0 L380.3,345.4 L380.7,350.5 L381.1,353.7 L381.5,355.1 L381.9,344.9 L382.0,342.0 L382.3,346.2 L382.7,350.2 L383.1,353.2 L383.5,347.4 L383.7,340.9 L383.9,344.2 L384.3,349.0 L384.7,351.5 L385.1,344.9 L385.3,337.0 L385.5,340.4 L385.9,346.7 L386.3,350.6 L386.7,349.5 L387.0,341.5 L387.1,344.1 L387.5,349.2 L387.9,352.1 L388.3,351.1 L388.6,343.0 L388.7,344.7 L389.1,349.2 L389.5,351.9 L389.9,353.4 L390.3,336.0 L390.3,335.8 L390.7,343.0 L391.1,347.8 L391.5,351.2 L391.9,340.5 L392.0,336.5 L392.3,341.7 L392.7,347.0 L393.1,350.2 L393.5,344.1 L393.7,340.2 L393.9,343.6 L394.3,348.4 L394.7,351.2 L395.1,352.7 L395.5,341.6 L395.7,336.1 L395.9,340.2 L396.3,345.8 L396.7,349.4 L397.1,347.0 L397.4,335.8 L397.5,338.8 L397.9,344.9 L398.3,348.4 L398.7,351.1 L399.1,347.4 L399.4,339.7 L399.5,342.0 L399.9,346.2 L400.3,349.6 L400.7,348.7 L401.0,337.7 L401.1,339.2 L401.5,345.4 L401.9,348.5 L402.3,341.3 L402.5,335.0 L402.7,339.1 L403.1,344.7 L403.5,344.4 L403.7,338.2 L403.9,341.4 L404.3,345.9 L404.7,348.8 L405.1,346.4 L405.4,336.4 L405.5,339.4 L405.9,344.5 L406.3,347.9 L406.7,346.7 L407.0,339.0 L407.1,341.9 L407.5,345.9 L407.9,348.4 L408.3,337.4 L408.4,335.0 L408.7,339.9 L409.1,344.3 L409.5,341.6 L409.7,334.7 L409.9,339.0 L410.3,341.4 L410.7,336.7 L411.1,342.3 L411.5,334.2 L411.9,342.3 L412.3,334.9 L412.7,341.9 L413.1,336.2 L413.5,343.7 L413.9,335.1 L414.3,344.0 L414.7,337.7 L415.1,341.9 L415.5,338.2 L415.9,341.8 L416.3,336.8 L416.7,341.1 L417.1,337.9 L417.5,341.6 L417.9,337.1 L418.3,345.2 L418.7,334.9 L419.1,341.3 L419.5,335.3 L419.9,342.9 L420.3,334.4 L420.7,341.7 L421.1,334.7 L421.5,347.9 L421.9,336.4 L422.3,348.6 L422.7,336.1 L423.1,347.3 L423.5,335.4 L423.9,346.9 L424.3,334.0 L424.7,342.8 L425.1,336.0 L425.5,340.1 L425.9,334.6 L426.3,342.4 L426.7,334.2 L427.1,341.7 L427.5,336.8 L427.9,342.3 L428.3,335.5 L428.7,342.3 L429.1,335.1 L429.5,343.0 L429.9,335.2 L430.3,340.2 L430.7,335.6 L431.1,342.3 L431.5,335.9 L431.9,342.3 L432.3,336.0 L432.7,341.6 L433.1,335.8 L433.5,341.9 L433.9,334.1 L434.3,343.1 L434.7,335.4 L435.1,342.4 L435.5,334.7 L435.9,340.3 L436.3,335.5 L436.7,344.3 L437.1,334.9 L437.5,341.2 L437.9,333.7 L438.3,342.6 L438.7,336.4 L439.1,341.6 L439.5,335.2 L439.9,341.2 L440.3,337.6 L440.7,339.6 L441.1,336.7 L441.5,341.6 L441.9,335.5 L442.3,341.7 L442.7,333.6 L443.1,341.7 L443.5,336.1 L443.9,340.8 L444.3,336.9 L444.7,340.8 L445.1,336.7 L445.5,341.8 L445.9,337.2 L446.3,340.8 L446.7,336.6 L447.1,340.5 L447.5,335.8 L447.9,341.1 L448.3,336.8 L448.7,342.5 L449.1,333.7 L449.5,341.1 L449.9,336.8 L450.3,341.8 L450.7,336.7 L451.1,341.4 L451.5,336.7 L451.9,342.3 L452.3,337.6 L452.7,344.1 L453.1,335.5 L453.5,342.0 L453.9,334.4 L454.3,342.8 L454.7,333.1 L455.1,343.0 L455.5,333.9 L455.9,341.6 L456.3,336.8 L456.7,342.2 L457.1,335.7 L457.5,342.0 L457.9,336.2 L458.3,340.5 L458.7,335.5 L459.1,340.6 L459.5,333.7 L459.9,343.6 L460.3,334.8 L460.7,341.9 L461.1,333.9 L461.5,341.5 L461.9,335.7 L462.3,343.7 L462.7,335.2 L463.1,340.8 L463.5,335.4 L463.9,339.9 L464.3,332.6 L464.7,339.6" stroke="#43b02e" stroke-width="1.1" fill="none" />
<path d="M245.5,368.1 L245.9,368.0 L246.3,368.5 L246.7,368.1 L247.1,368.5 L247.5,368.0 L247.9,368.6 L248.3,368.4 L248.7,368.4 L249.1,368.2 L249.5,368.2 L249.9,368.0 L250.3,368.3 L250.7,368.5 L251.1,368.3 L251.5,368.1 L251.9,368.5 L252.3,368.6 L252.7,368.3 L253.1,368.3 L253.5,368.4 L253.9,368.3 L254.3,368.5 L254.7,368.3 L255.1,368.3 L255.5,368.1 L255.9,368.2 L256.3,368.4 L256.7,368.6 L257.1,368.2 L257.5,368.2 L257.9,368.5 L258.3,368.1 L258.7,368.3 L259.1,368.0 L259.5,368.2 L259.9,368.3 L260.3,368.1 L260.7,368.2 L261.1,368.5 L261.5,368.3 L261.9,368.4 L262.3,368.4 L262.7,368.5 L263.1,368.4 L263.5,368.3 L263.9,368.4 L264.3,368.0 L264.7,368.3 L265.1,368.4 L265.5,368.3 L265.9,368.5 L266.3,368.0 L266.7,368.1 L267.1,368.0 L267.5,368.4 L267.9,368.0 L268.3,368.8 L268.7,368.0 L269.1,368.0 L269.5,368.5 L269.9,368.4 L270.3,368.7 L270.7,368.6 L271.1,368.3 L271.5,368.2 L271.9,368.2 L272.3,368.5 L272.7,367.9 L273.1,368.5 L273.5,368.6 L273.9,368.3 L274.3,367.9 L274.7,368.5 L275.1,368.2 L275.5,368.2 L275.9,368.3 L276.3,367.9 L276.7,368.4 L277.1,368.3 L277.5,368.4 L277.9,368.3 L278.3,368.3 L278.7,368.1 L279.1,368.5 L279.5,368.5 L279.9,368.3 L280.3,368.2 L280.7,368.1 L281.1,368.2 L281.5,368.4 L281.9,368.3 L282.3,368.0 L282.7,368.6 L283.1,368.1 L283.5,368.4 L283.9,368.7 L284.3,367.9 L284.7,368.3 L285.1,368.4 L285.5,368.2 L285.9,368.4 L286.3,368.3 L286.7,368.4 L287.1,368.4 L287.5,368.4 L287.9,368.3 L288.3,368.6 L288.7,368.9 L289.1,368.2 L289.5,368.4 L289.9,368.1 L290.3,368.0 L290.7,368.1 L291.1,368.8 L291.5,368.5 L291.9,368.0 L292.3,368.2 L292.7,368.1 L293.1,368.4 L293.5,368.2 L293.9,368.3 L294.3,368.4 L294.7,368.1 L295.1,368.2 L295.5,368.1 L295.9,368.5 L296.3,368.1 L296.7,368.1 L297.1,367.5 L297.3,367.3 L297.5,367.5 L297.9,367.5 L298.3,367.9 L298.7,367.9 L299.1,368.1 L299.5,367.8 L299.9,368.2 L300.3,368.2 L300.7,368.2 L301.1,368.2 L301.5,368.3 L301.9,368.0 L302.3,368.4 L302.7,368.5 L303.1,368.3 L303.5,368.3 L303.9,368.2 L304.3,368.1 L304.7,368.0 L305.1,368.2 L305.5,368.3 L305.9,368.0 L306.3,368.5 L306.7,368.3 L307.1,368.1 L307.5,368.5 L307.9,368.2 L308.3,368.6 L308.7,368.2 L309.1,368.5 L309.5,368.3 L309.9,368.2 L310.3,368.3 L310.7,368.1 L311.1,368.2 L311.5,368.3 L311.9,368.0 L312.3,368.4 L312.7,368.0 L313.1,368.5 L313.5,368.3 L313.9,368.6 L314.3,368.1 L314.7,368.2 L315.1,368.5 L315.5,368.6 L315.9,368.3 L316.3,368.0 L316.7,368.4 L317.1,368.3 L317.5,368.4 L317.9,368.1 L318.3,368.2 L318.7,368.2 L319.1,368.4 L319.5,368.4 L319.9,368.5 L320.3,368.7 L320.7,368.1 L321.1,368.2 L321.5,368.1 L321.9,368.3 L322.3,368.5 L322.7,368.4 L323.1,368.6 L323.5,368.4 L323.9,368.3 L324.3,368.6 L324.7,368.3 L325.1,368.5 L325.5,368.2 L325.9,368.2 L326.3,368.1 L326.7,368.3 L327.1,368.2 L327.5,368.4 L327.9,368.7 L328.3,368.1 L328.7,368.1 L329.1,368.1 L329.5,368.2 L329.9,368.5 L330.3,368.1 L330.7,368.2 L331.1,368.4 L331.5,368.2 L331.9,368.3 L332.3,368.2 L332.7,368.6 L333.1,368.2 L333.5,368.1 L333.9,368.2 L334.3,368.4 L334.7,368.2 L335.1,368.4 L335.5,368.2 L335.9,368.2 L336.3,368.4 L336.7,368.3 L337.1,368.3 L337.5,367.9 L337.9,368.8 L338.3,368.3 L338.7,368.3 L339.1,368.3 L339.5,368.2 L339.9,368.2 L340.3,368.5 L340.7,368.4 L341.1,368.1 L341.5,368.1 L341.9,368.4 L342.3,368.0 L342.7,368.6 L343.1,368.0 L343.5,368.7 L343.9,368.3 L344.3,368.1 L344.7,367.9 L345.1,368.6 L345.5,368.3 L345.9,367.9 L346.3,368.2 L346.7,368.5 L347.1,367.9 L347.5,368.6 L347.9,368.5 L348.3,368.2 L348.7,368.5 L349.1,368.4 L349.5,368.5 L349.9,368.5 L350.3,368.4 L350.7,368.2 L351.1,368.1 L351.5,368.3 L351.9,368.2 L352.3,368.3 L352.7,368.4 L353.1,368.2 L353.5,368.2 L353.9,368.6 L354.3,368.5 L354.7,368.1 L355.1,368.6 L355.5,368.1 L355.9,368.4 L356.3,368.3 L356.7,368.1 L357.1,368.3 L357.5,368.4 L357.9,368.2 L358.3,368.1 L358.7,368.6 L359.1,368.1 L359.5,368.5 L359.9,368.4 L360.3,368.2 L360.7,368.7 L361.1,368.5 L361.5,367.9 L361.9,368.2 L362.3,368.4 L362.7,368.5 L363.1,368.2 L363.5,367.8 L363.9,368.5 L364.3,368.3 L364.7,368.3 L365.1,368.3 L365.5,367.9 L365.9,368.4 L366.3,368.1 L366.7,368.4 L367.1,368.2 L367.5,368.3 L367.9,368.1 L368.3,368.2 L368.7,368.2 L369.1,368.6 L369.5,368.3 L369.9,368.4 L370.3,368.2 L370.7,368.7 L371.1,368.4 L371.5,367.9 L371.9,368.3 L372.3,368.3 L372.7,368.1 L373.1,368.0 L373.5,368.1 L373.9,368.3 L374.3,368.2 L374.7,368.4 L375.1,368.5 L375.5,368.7 L375.9,368.4 L376.3,368.4 L376.7,368.2 L377.1,368.4 L377.5,368.6 L377.9,368.4 L378.3,367.8 L378.7,368.5 L379.1,368.6 L379.5,368.5 L379.9,368.3 L380.3,368.1 L380.7,368.5 L381.1,368.5 L381.5,368.0 L381.9,368.5 L382.3,368.6 L382.7,368.6 L383.1,368.0 L383.5,368.3 L383.9,368.3 L384.3,368.4 L384.7,368.2 L385.1,368.2 L385.5,368.6 L385.9,368.1 L386.3,368.4 L386.7,368.1 L387.1,368.4 L387.5,368.0 L387.9,368.0 L388.3,368.1 L388.7,368.2 L389.1,368.0 L389.5,368.3 L389.9,368.2 L390.3,368.2 L390.7,368.0 L391.1,368.2 L391.5,368.2 L391.9,368.2 L392.3,368.3 L392.7,368.2 L393.1,368.2 L393.5,368.2 L393.9,368.2 L394.3,368.5 L394.7,368.2 L395.1,368.3 L395.5,368.5 L395.9,368.0 L396.3,368.3 L396.7,368.6 L397.1,368.2 L397.5,368.2 L397.9,368.3 L398.3,368.6 L398.7,368.0 L399.1,368.2 L399.5,368.4 L399.9,368.5 L400.3,368.0 L400.7,368.5 L401.1,368.3 L401.5,368.3 L401.9,368.2 L402.3,368.3 L402.7,368.5 L403.1,368.2 L403.5,368.3 L403.9,368.1 L404.3,368.6 L404.7,368.6 L405.1,368.1 L405.5,368.4 L405.9,368.5 L406.3,368.2 L406.7,368.3 L407.1,368.3 L407.5,368.2 L407.9,368.8 L408.3,368.3 L408.7,368.1 L409.1,368.5 L409.5,367.9 L409.9,368.1 L410.3,368.4 L410.7,368.1 L411.1,368.3 L411.5,368.2 L411.9,368.5 L412.3,368.3 L412.7,368.6 L413.1,368.3 L413.5,368.1 L413.9,368.2 L414.3,368.2 L414.7,368.1 L415.1,368.4 L415.5,368.3 L415.9,368.4 L416.3,368.4 L416.7,367.9 L417.1,368.2 L417.5,368.4 L417.9,368.2 L418.3,367.9 L418.7,368.2 L419.1,368.0 L419.5,368.7 L419.9,368.2 L420.3,368.3 L420.7,368.3 L421.1,368.5 L421.5,368.3 L421.9,368.2 L422.3,368.1 L422.7,368.2 L423.1,368.2 L423.5,368.6 L423.9,368.2 L424.3,368.0 L424.7,368.6 L425.1,368.4 L425.5,368.4 L425.9,368.7 L426.3,368.5 L426.7,368.2 L427.1,368.3 L427.5,368.1 L427.9,368.3 L428.3,368.4 L428.7,368.3 L429.1,368.3 L429.5,368.3 L429.9,368.2 L430.3,368.5 L430.7,368.2 L431.1,367.9 L431.5,365.1 L431.9,366.1 L432.3,366.9 L432.7,367.4 L433.1,368.0 L433.5,368.0 L433.9,368.1 L434.3,368.2 L434.7,368.0 L435.1,368.0 L435.5,368.2 L435.9,368.4 L436.3,368.7 L436.7,368.1 L437.1,368.7 L437.5,368.3 L437.9,368.1 L438.3,368.3 L438.7,368.7 L439.1,368.4 L439.5,368.6 L439.9,368.3 L440.3,367.6 L440.7,368.5 L441.1,368.1 L441.5,368.4 L441.9,368.2 L442.3,368.3 L442.7,368.2 L443.1,368.2 L443.5,367.9 L443.9,368.1 L444.3,368.4 L444.7,368.3 L445.1,368.6 L445.5,368.7 L445.9,368.6 L446.3,368.5 L446.7,368.2 L447.1,368.4 L447.5,368.4 L447.9,368.2 L448.3,368.2 L448.7,368.1 L449.1,368.5 L449.5,368.1 L449.9,368.5 L450.3,368.2 L450.7,368.5 L451.1,368.6 L451.5,368.2 L451.9,368.3 L452.3,364.6 L452.5,362.8 L452.7,363.9 L453.1,365.0 L453.5,366.3 L453.9,366.7 L454.3,367.7 L454.7,368.2 L455.1,367.8 L455.5,368.1 L455.9,368.1 L456.3,368.1 L456.7,368.4 L457.1,368.5 L457.5,368.2 L457.9,368.4 L458.3,368.1 L458.7,368.1 L459.1,368.2 L459.5,368.3 L459.9,368.1 L460.3,368.3 L460.7,368.3 L461.1,367.9 L461.5,368.2 L461.9,368.3 L462.3,368.6 L462.7,368.3 L463.1,368.3 L463.5,367.9 L463.9,368.4 L464.3,368.6 L464.7,368.8" stroke="#43b02e" stroke-width="1.1" fill="none" />
<text x="334.50" y="210.00" font-size="12.8" text-anchor="start" fill="#43b02e" font-style="italic" textLength="42.3" lengthAdjust="spacingAndGlyphs" >Ex vivo</text>
<line x1="242.40" y1="256.80" x2="242.40" y2="274.40" stroke="#333" stroke-width="1.5" />
<line x1="243.50" y1="275.90" x2="267.80" y2="275.90" stroke="#333" stroke-width="1.5" />
<text x="243.20" y="287.80" font-size="12.6" text-anchor="start" fill="#000" textLength="25.0" lengthAdjust="spacingAndGlyphs" >50 s</text>
<text x="238.40" y="282.40" font-size="13.8" fill="#000" transform="rotate(-90 238.40 282.40)" textLength="63.1" lengthAdjust="spacingAndGlyphs">100% dF/F</text>
<text x="241.40" y="218.20" font-size="9.3" fill="#000" transform="rotate(-90 241.40 218.20)">0</text>
<line x1="242.60" y1="352.00" x2="242.60" y2="369.80" stroke="#333" stroke-width="1.5" />
<line x1="243.50" y1="370.90" x2="267.60" y2="370.90" stroke="#333" stroke-width="1.5" />
<text x="242.70" y="384.30" font-size="12.8" text-anchor="start" fill="#000" textLength="25.7" lengthAdjust="spacingAndGlyphs" >50 s</text>
<text x="238.40" y="374.20" font-size="13.8" fill="#000" transform="rotate(-90 238.40 374.20)" textLength="65.6" lengthAdjust="spacingAndGlyphs">200% dF/F</text>
<text x="241.40" y="307.40" font-size="9.3" fill="#000" transform="rotate(-90 241.40 307.40)">0</text>
<text x="487.00" y="206.80" font-size="17" text-anchor="start" fill="#000" font-weight="bold" >f</text>
<line x1="543.20" y1="204.00" x2="543.20" y2="336.80" stroke="#000" stroke-width="1.3" />
<line x1="537.90" y1="336.20" x2="543.20" y2="336.20" stroke="#000" stroke-width="1.2" />
<line x1="540.00" y1="317.40" x2="543.20" y2="317.40" stroke="#000" stroke-width="1.2" />
<line x1="537.90" y1="298.60" x2="543.20" y2="298.60" stroke="#000" stroke-width="1.2" />
<line x1="540.00" y1="279.80" x2="543.20" y2="279.80" stroke="#000" stroke-width="1.2" />
<line x1="537.90" y1="261.00" x2="543.20" y2="261.00" stroke="#000" stroke-width="1.2" />
<line x1="540.00" y1="242.20" x2="543.20" y2="242.20" stroke="#000" stroke-width="1.2" />
<line x1="537.90" y1="223.40" x2="543.20" y2="223.40" stroke="#000" stroke-width="1.2" />
<line x1="540.00" y1="204.60" x2="543.20" y2="204.60" stroke="#000" stroke-width="1.2" />
<text x="534.50" y="340.65" font-size="13.7" text-anchor="end" fill="#000" >0</text>
<text x="534.50" y="303.05" font-size="13.7" text-anchor="end" fill="#000" >2</text>
<text x="534.50" y="265.45" font-size="13.7" text-anchor="end" fill="#000" >4</text>
<text x="534.50" y="227.85" font-size="13.7" text-anchor="end" fill="#000" >6</text>
<line x1="542.90" y1="343.00" x2="621.90" y2="343.00" stroke="#000" stroke-width="1.3" />
<line x1="560.60" y1="343.00" x2="560.60" y2="348.40" stroke="#000" stroke-width="1.2" />
<line x1="595.50" y1="343.00" x2="595.50" y2="348.40" stroke="#000" stroke-width="1.2" />
<text x="506.60" y="327.90" font-size="13.6" fill="#000" transform="rotate(-90 506.60 327.90)" textLength="100.3" lengthAdjust="spacingAndGlyphs">Frequency of Ca</text>
<text x="501.40" y="227.30" font-size="9.3" fill="#000" transform="rotate(-90 501.40 227.30)" textLength="10.2" lengthAdjust="spacingAndGlyphs">2+</text>
<text x="524.40" y="323.40" font-size="13.8" fill="#000" transform="rotate(-90 524.40 323.40)" textLength="106.8" lengthAdjust="spacingAndGlyphs">transients (1/min)</text>
<text x="545.70" y="212.60" font-size="12.6" text-anchor="start" fill="#000" textLength="37.3" lengthAdjust="spacingAndGlyphs" >P7-P8</text>
<text x="551.40" y="249.50" font-size="12.3" text-anchor="start" fill="#000" font-style="italic" textLength="49.6" lengthAdjust="spacingAndGlyphs" >p&lt;0.0001</text>
<text x="596.40" y="229.80" font-size="17" text-anchor="middle" fill="#000" font-weight="bold" >*</text>
<path d="M555.1,339.0 L551.1,337.5 L548.6,335.0 L547.4,330.0 L547.1,322.0 L548.1,315.0 L550.6,311.0 L553.6,308.0 L556.4,305.5 L557.4,303.0 L563.8,303.0 L564.8,305.5 L567.6,308.0 L570.6,311.0 L573.1,315.0 L574.1,322.0 L573.8,330.0 L572.6,335.0 L570.1,337.5 L566.1,339.0 Z" fill="#b7cff3" stroke="none" stroke-linejoin="round"/>
<circle cx="561.5" cy="318.1" r="2.4" stroke="#8fb4e9" stroke-width="0.7" fill="none"/>
<circle cx="553.9" cy="333.7" r="2.4" stroke="#8fb4e9" stroke-width="0.7" fill="none"/>
<circle cx="552.5" cy="311.8" r="2.4" stroke="#8fb4e9" stroke-width="0.7" fill="none"/>
<circle cx="555.6" cy="308.0" r="2.4" stroke="#8fb4e9" stroke-width="0.7" fill="none"/>
<circle cx="560.8" cy="309.4" r="2.4" stroke="#8fb4e9" stroke-width="0.7" fill="none"/>
<circle cx="562.9" cy="338.1" r="2.4" stroke="#8fb4e9" stroke-width="0.7" fill="none"/>
<circle cx="558.5" cy="317.1" r="2.4" stroke="#8fb4e9" stroke-width="0.7" fill="none"/>
<circle cx="556.6" cy="327.9" r="2.4" stroke="#8fb4e9" stroke-width="0.7" fill="none"/>
<circle cx="563.0" cy="306.5" r="2.4" stroke="#8fb4e9" stroke-width="0.7" fill="none"/>
<circle cx="551.7" cy="325.3" r="2.4" stroke="#8fb4e9" stroke-width="0.7" fill="none"/>
<circle cx="557.9" cy="306.4" r="2.4" stroke="#8fb4e9" stroke-width="0.7" fill="none"/>
<circle cx="554.3" cy="337.1" r="2.4" stroke="#8fb4e9" stroke-width="0.7" fill="none"/>
<circle cx="571.3" cy="325.6" r="2.4" stroke="#8fb4e9" stroke-width="0.7" fill="none"/>
<circle cx="560.1" cy="305.2" r="2.4" stroke="#8fb4e9" stroke-width="0.7" fill="none"/>
<circle cx="570.1" cy="320.5" r="2.4" stroke="#8fb4e9" stroke-width="0.7" fill="none"/>
<circle cx="556.9" cy="310.5" r="2.4" stroke="#8fb4e9" stroke-width="0.7" fill="none"/>
<circle cx="552.4" cy="312.6" r="2.4" stroke="#8fb4e9" stroke-width="0.7" fill="none"/>
<circle cx="567.8" cy="327.2" r="2.4" stroke="#8fb4e9" stroke-width="0.7" fill="none"/>
<circle cx="550.3" cy="319.1" r="2.4" stroke="#8fb4e9" stroke-width="0.7" fill="none"/>
<circle cx="566.0" cy="328.6" r="2.4" stroke="#8fb4e9" stroke-width="0.7" fill="none"/>
<circle cx="556.7" cy="326.5" r="2.4" stroke="#8fb4e9" stroke-width="0.7" fill="none"/>
<circle cx="563.4" cy="332.7" r="2.4" stroke="#8fb4e9" stroke-width="0.7" fill="none"/>
<circle cx="561.5" cy="324.4" r="2.4" stroke="#8fb4e9" stroke-width="0.7" fill="none"/>
<circle cx="559.8" cy="312.0" r="2.4" stroke="#8fb4e9" stroke-width="0.7" fill="none"/>
<circle cx="564.6" cy="331.4" r="2.4" stroke="#8fb4e9" stroke-width="0.7" fill="none"/>
<circle cx="567.4" cy="315.9" r="2.4" stroke="#8fb4e9" stroke-width="0.7" fill="none"/>
<circle cx="551.0" cy="333.0" r="2.4" stroke="#8fb4e9" stroke-width="0.7" fill="none"/>
<circle cx="557.0" cy="309.4" r="2.4" stroke="#8fb4e9" stroke-width="0.7" fill="none"/>
<circle cx="561.6" cy="304.5" r="2.4" stroke="#8fb4e9" stroke-width="0.7" fill="none"/>
<circle cx="561.6" cy="326.3" r="2.4" stroke="#8fb4e9" stroke-width="0.7" fill="none"/>
<circle cx="559.1" cy="338.3" r="2.4" stroke="#8fb4e9" stroke-width="0.7" fill="none"/>
<circle cx="554.4" cy="310.9" r="2.4" stroke="#8fb4e9" stroke-width="0.7" fill="none"/>
<circle cx="567.8" cy="315.7" r="2.4" stroke="#8fb4e9" stroke-width="0.7" fill="none"/>
<circle cx="550.5" cy="324.9" r="2.4" stroke="#8fb4e9" stroke-width="0.7" fill="none"/>
<circle cx="550.5" cy="318.9" r="2.4" stroke="#8fb4e9" stroke-width="0.7" fill="none"/>
<circle cx="552.0" cy="325.5" r="2.4" stroke="#8fb4e9" stroke-width="0.7" fill="none"/>
<circle cx="562.7" cy="310.2" r="2.4" stroke="#8fb4e9" stroke-width="0.7" fill="none"/>
<circle cx="563.1" cy="332.8" r="2.4" stroke="#8fb4e9" stroke-width="0.7" fill="none"/>
<circle cx="563.5" cy="314.1" r="2.4" stroke="#8fb4e9" stroke-width="0.7" fill="none"/>
<circle cx="551.2" cy="313.4" r="2.4" stroke="#8fb4e9" stroke-width="0.7" fill="none"/>
<circle cx="564.2" cy="313.4" r="2.4" stroke="#8fb4e9" stroke-width="0.7" fill="none"/>
<circle cx="553.6" cy="325.6" r="2.4" stroke="#8fb4e9" stroke-width="0.7" fill="none"/>
<circle cx="567.6" cy="333.0" r="2.4" stroke="#8fb4e9" stroke-width="0.7" fill="none"/>
<circle cx="569.6" cy="313.6" r="2.4" stroke="#8fb4e9" stroke-width="0.7" fill="none"/>
<circle cx="552.4" cy="313.1" r="2.4" stroke="#8fb4e9" stroke-width="0.7" fill="none"/>
<circle cx="569.0" cy="321.7" r="2.4" stroke="#8fb4e9" stroke-width="0.7" fill="none"/>
<circle cx="561.7" cy="324.7" r="2.4" stroke="#8fb4e9" stroke-width="0.7" fill="none"/>
<circle cx="555.7" cy="320.8" r="2.4" stroke="#8fb4e9" stroke-width="0.7" fill="none"/>
<circle cx="558.6" cy="314.3" r="2.4" stroke="#8fb4e9" stroke-width="0.7" fill="none"/>
<circle cx="570.8" cy="322.9" r="2.4" stroke="#8fb4e9" stroke-width="0.7" fill="none"/>
<circle cx="558.9" cy="306.5" r="2.4" stroke="#8fb4e9" stroke-width="0.7" fill="none"/>
<circle cx="563.3" cy="336.6" r="2.4" stroke="#8fb4e9" stroke-width="0.7" fill="none"/>
<circle cx="560.2" cy="306.6" r="2.4" stroke="#8fb4e9" stroke-width="0.7" fill="none"/>
<circle cx="570.0" cy="326.5" r="2.4" stroke="#8fb4e9" stroke-width="0.7" fill="none"/>
<circle cx="563.7" cy="306.9" r="2.4" stroke="#8fb4e9" stroke-width="0.7" fill="none"/>
<circle cx="555.7" cy="330.6" r="2.4" stroke="#8fb4e9" stroke-width="0.7" fill="none"/>
<circle cx="568.1" cy="322.4" r="2.4" stroke="#8fb4e9" stroke-width="0.7" fill="none"/>
<circle cx="564.2" cy="312.4" r="2.4" stroke="#8fb4e9" stroke-width="0.7" fill="none"/>
<circle cx="550.8" cy="323.3" r="2.4" stroke="#8fb4e9" stroke-width="0.7" fill="none"/>
<circle cx="558.9" cy="313.4" r="2.4" stroke="#8fb4e9" stroke-width="0.7" fill="none"/>
<circle cx="565.8" cy="308.8" r="2.4" stroke="#8fb4e9" stroke-width="0.7" fill="none"/>
<circle cx="555.7" cy="312.6" r="2.4" stroke="#8fb4e9" stroke-width="0.7" fill="none"/>
<circle cx="561.2" cy="324.6" r="2.4" stroke="#8fb4e9" stroke-width="0.7" fill="none"/>
<circle cx="556.9" cy="315.0" r="2.4" stroke="#8fb4e9" stroke-width="0.7" fill="none"/>
<circle cx="570.0" cy="321.1" r="2.4" stroke="#8fb4e9" stroke-width="0.7" fill="none"/>
<circle cx="563.6" cy="306.7" r="2.4" stroke="#8fb4e9" stroke-width="0.7" fill="none"/>
<circle cx="563.8" cy="336.4" r="2.4" stroke="#8fb4e9" stroke-width="0.7" fill="none"/>
<circle cx="558.0" cy="331.7" r="2.4" stroke="#8fb4e9" stroke-width="0.7" fill="none"/>
<circle cx="564.4" cy="337.2" r="2.4" stroke="#8fb4e9" stroke-width="0.7" fill="none"/>
<circle cx="559.4" cy="327.7" r="2.4" stroke="#8fb4e9" stroke-width="0.7" fill="none"/>
<circle cx="563.8" cy="311.6" r="2.4" stroke="#8fb4e9" stroke-width="0.7" fill="none"/>
<circle cx="549.4" cy="329.4" r="2.4" stroke="#8fb4e9" stroke-width="0.7" fill="none"/>
<circle cx="561.3" cy="314.7" r="2.4" stroke="#8fb4e9" stroke-width="0.7" fill="none"/>
<circle cx="554.5" cy="311.3" r="2.4" stroke="#8fb4e9" stroke-width="0.7" fill="none"/>
<circle cx="553.3" cy="310.5" r="2.4" stroke="#8fb4e9" stroke-width="0.7" fill="none"/>
<circle cx="559.5" cy="308.2" r="2.4" stroke="#8fb4e9" stroke-width="0.7" fill="none"/>
<circle cx="563.8" cy="321.3" r="2.4" stroke="#8fb4e9" stroke-width="0.7" fill="none"/>
<circle cx="552.9" cy="314.6" r="2.4" stroke="#8fb4e9" stroke-width="0.7" fill="none"/>
<circle cx="563.1" cy="335.7" r="2.4" stroke="#8fb4e9" stroke-width="0.7" fill="none"/>
<circle cx="564.9" cy="327.4" r="2.4" stroke="#8fb4e9" stroke-width="0.7" fill="none"/>
<circle cx="562.6" cy="315.1" r="2.4" stroke="#8fb4e9" stroke-width="0.7" fill="none"/>
<circle cx="563.8" cy="315.0" r="2.4" stroke="#8fb4e9" stroke-width="0.7" fill="none"/>
<circle cx="550.2" cy="332.2" r="2.4" stroke="#8fb4e9" stroke-width="0.7" fill="none"/>
<circle cx="552.2" cy="331.5" r="2.4" stroke="#8fb4e9" stroke-width="0.7" fill="none"/>
<circle cx="559.0" cy="304.6" r="2.4" stroke="#8fb4e9" stroke-width="0.7" fill="none"/>
<circle cx="568.8" cy="323.4" r="2.4" stroke="#8fb4e9" stroke-width="0.7" fill="none"/>
<circle cx="554.3" cy="335.9" r="2.4" stroke="#8fb4e9" stroke-width="0.7" fill="none"/>
<circle cx="570.4" cy="318.8" r="2.4" stroke="#8fb4e9" stroke-width="0.7" fill="none"/>
<circle cx="567.2" cy="334.6" r="2.4" stroke="#8fb4e9" stroke-width="0.7" fill="none"/>
<circle cx="556.5" cy="312.6" r="2.4" stroke="#8fb4e9" stroke-width="0.7" fill="none"/>
<circle cx="557.7" cy="309.1" r="2.4" stroke="#8fb4e9" stroke-width="0.7" fill="none"/>
<circle cx="567.1" cy="318.0" r="2.4" stroke="#8fb4e9" stroke-width="0.7" fill="none"/>
<circle cx="553.1" cy="326.8" r="2.4" stroke="#8fb4e9" stroke-width="0.7" fill="none"/>
<circle cx="559.9" cy="310.2" r="2.4" stroke="#8fb4e9" stroke-width="0.7" fill="none"/>
<circle cx="560.0" cy="334.7" r="2.4" stroke="#8fb4e9" stroke-width="0.7" fill="none"/>
<circle cx="564.7" cy="331.2" r="2.4" stroke="#8fb4e9" stroke-width="0.7" fill="none"/>
<circle cx="560.5" cy="334.3" r="2.4" stroke="#8fb4e9" stroke-width="0.7" fill="none"/>
<circle cx="559.7" cy="317.0" r="2.4" stroke="#8fb4e9" stroke-width="0.7" fill="none"/>
<circle cx="555.8" cy="331.7" r="2.4" stroke="#8fb4e9" stroke-width="0.7" fill="none"/>
<circle cx="565.8" cy="310.7" r="2.4" stroke="#8fb4e9" stroke-width="0.7" fill="none"/>
<circle cx="563.8" cy="320.6" r="2.4" stroke="#8fb4e9" stroke-width="0.7" fill="none"/>
<circle cx="554.1" cy="310.0" r="2.4" stroke="#8fb4e9" stroke-width="0.7" fill="none"/>
<circle cx="559.4" cy="311.8" r="2.4" stroke="#8fb4e9" stroke-width="0.7" fill="none"/>
<circle cx="559.6" cy="305.1" r="2.4" stroke="#8fb4e9" stroke-width="0.7" fill="none"/>
<circle cx="559.5" cy="336.5" r="2.4" stroke="#8fb4e9" stroke-width="0.7" fill="none"/>
<circle cx="561.7" cy="304.2" r="2.4" stroke="#8fb4e9" stroke-width="0.7" fill="none"/>
<circle cx="553.9" cy="314.4" r="2.4" stroke="#8fb4e9" stroke-width="0.7" fill="none"/>
<circle cx="564.4" cy="326.0" r="2.4" stroke="#8fb4e9" stroke-width="0.7" fill="none"/>
<circle cx="565.1" cy="315.2" r="2.4" stroke="#8fb4e9" stroke-width="0.7" fill="none"/>
<circle cx="557.3" cy="334.2" r="2.4" stroke="#8fb4e9" stroke-width="0.7" fill="none"/>
<circle cx="549.3" cy="321.1" r="2.4" stroke="#8fb4e9" stroke-width="0.7" fill="none"/>
<circle cx="555.8" cy="324.4" r="2.4" stroke="#8fb4e9" stroke-width="0.7" fill="none"/>
<circle cx="566.5" cy="326.5" r="2.4" stroke="#8fb4e9" stroke-width="0.7" fill="none"/>
<circle cx="564.2" cy="315.7" r="2.4" stroke="#8fb4e9" stroke-width="0.7" fill="none"/>
<circle cx="554.9" cy="336.5" r="2.4" stroke="#8fb4e9" stroke-width="0.7" fill="none"/>
<circle cx="560.1" cy="331.5" r="2.4" stroke="#8fb4e9" stroke-width="0.7" fill="none"/>
<circle cx="553.3" cy="336.6" r="2.4" stroke="#8fb4e9" stroke-width="0.7" fill="none"/>
<circle cx="553.2" cy="317.2" r="2.4" stroke="#8fb4e9" stroke-width="0.7" fill="none"/>
<circle cx="567.8" cy="312.9" r="2.4" stroke="#8fb4e9" stroke-width="0.7" fill="none"/>
<circle cx="557.3" cy="322.3" r="2.4" stroke="#8fb4e9" stroke-width="0.7" fill="none"/>
<circle cx="553.6" cy="337.2" r="2.4" stroke="#8fb4e9" stroke-width="0.7" fill="none"/>
<circle cx="561.6" cy="304.6" r="2.4" stroke="#8fb4e9" stroke-width="0.7" fill="none"/>
<circle cx="568.3" cy="323.2" r="2.4" stroke="#8fb4e9" stroke-width="0.7" fill="none"/>
<circle cx="570.8" cy="321.1" r="2.4" stroke="#8fb4e9" stroke-width="0.7" fill="none"/>
<circle cx="554.8" cy="315.5" r="2.4" stroke="#8fb4e9" stroke-width="0.7" fill="none"/>
<circle cx="561.3" cy="334.5" r="2.4" stroke="#8fb4e9" stroke-width="0.7" fill="none"/>
<circle cx="558.5" cy="305.0" r="2.4" stroke="#8fb4e9" stroke-width="0.7" fill="none"/>
<circle cx="561.5" cy="304.5" r="2.4" stroke="#8fb4e9" stroke-width="0.7" fill="none"/>
<circle cx="551.8" cy="326.0" r="2.4" stroke="#8fb4e9" stroke-width="0.7" fill="none"/>
<circle cx="566.6" cy="331.5" r="2.4" stroke="#8fb4e9" stroke-width="0.7" fill="none"/>
<circle cx="562.4" cy="325.8" r="2.4" stroke="#8fb4e9" stroke-width="0.7" fill="none"/>
<circle cx="564.9" cy="319.0" r="2.4" stroke="#8fb4e9" stroke-width="0.7" fill="none"/>
<circle cx="569.9" cy="317.4" r="2.4" stroke="#8fb4e9" stroke-width="0.7" fill="none"/>
<circle cx="564.6" cy="324.4" r="2.4" stroke="#8fb4e9" stroke-width="0.7" fill="none"/>
<circle cx="569.4" cy="335.9" r="2.4" stroke="#8fb4e9" stroke-width="0.7" fill="none"/>
<circle cx="551.6" cy="322.4" r="2.4" stroke="#8fb4e9" stroke-width="0.7" fill="none"/>
<circle cx="570.3" cy="322.1" r="2.4" stroke="#8fb4e9" stroke-width="0.7" fill="none"/>
<circle cx="556.6" cy="311.2" r="2.4" stroke="#8fb4e9" stroke-width="0.7" fill="none"/>
<circle cx="555.4" cy="313.5" r="2.4" stroke="#8fb4e9" stroke-width="0.7" fill="none"/>
<circle cx="561.4" cy="332.0" r="2.4" stroke="#8fb4e9" stroke-width="0.7" fill="none"/>
<circle cx="560.7" cy="306.9" r="2.4" stroke="#8fb4e9" stroke-width="0.7" fill="none"/>
<circle cx="549.8" cy="328.0" r="2.4" stroke="#8fb4e9" stroke-width="0.7" fill="none"/>
<circle cx="553.0" cy="310.8" r="2.4" stroke="#8fb4e9" stroke-width="0.7" fill="none"/>
<circle cx="558.3" cy="328.0" r="2.4" stroke="#8fb4e9" stroke-width="0.7" fill="none"/>
<circle cx="559.7" cy="304.5" r="2.4" stroke="#8fb4e9" stroke-width="0.7" fill="none"/>
<circle cx="561.7" cy="310.6" r="2.4" stroke="#8fb4e9" stroke-width="0.7" fill="none"/>
<circle cx="558.8" cy="318.7" r="2.4" stroke="#8fb4e9" stroke-width="0.7" fill="none"/>
<circle cx="550.8" cy="315.4" r="2.4" stroke="#8fb4e9" stroke-width="0.7" fill="none"/>
<circle cx="563.4" cy="315.3" r="2.4" stroke="#8fb4e9" stroke-width="0.7" fill="none"/>
<circle cx="562.6" cy="322.5" r="2.4" stroke="#8fb4e9" stroke-width="0.7" fill="none"/>
<circle cx="560.6" cy="301.2" r="2.5" stroke="#8fb4e9" stroke-width="0.8" fill="none"/>
<circle cx="560.2" cy="303.4" r="2.5" stroke="#8fb4e9" stroke-width="0.8" fill="none"/>
<circle cx="561.3" cy="289.9" r="2.5" stroke="#8fb4e9" stroke-width="0.8" fill="none"/>
<circle cx="560.9" cy="290.8" r="2.5" stroke="#8fb4e9" stroke-width="0.8" fill="none"/>
<circle cx="560.3" cy="291.9" r="2.5" stroke="#8fb4e9" stroke-width="0.8" fill="none"/>
<circle cx="560.2" cy="286.1" r="2.5" stroke="#8fb4e9" stroke-width="0.8" fill="none"/>
<circle cx="559.8" cy="298.5" r="2.5" stroke="#8fb4e9" stroke-width="0.8" fill="none"/>
<circle cx="559.9" cy="290.5" r="2.5" stroke="#8fb4e9" stroke-width="0.8" fill="none"/>
<circle cx="561.4" cy="298.8" r="2.5" stroke="#8fb4e9" stroke-width="0.8" fill="none"/>
<circle cx="560.7" cy="293.0" r="2.5" stroke="#8fb4e9" stroke-width="0.8" fill="none"/>
<circle cx="561.0" cy="287.2" r="2.5" stroke="#8fb4e9" stroke-width="0.8" fill="none"/>
<circle cx="560.2" cy="295.7" r="2.5" stroke="#8fb4e9" stroke-width="0.8" fill="none"/>
<circle cx="561.1" cy="292.7" r="2.5" stroke="#8fb4e9" stroke-width="0.8" fill="none"/>
<circle cx="560.9" cy="285.7" r="2.5" stroke="#8fb4e9" stroke-width="0.8" fill="none"/>
<circle cx="561.2" cy="283.6" r="2.5" stroke="#8fb4e9" stroke-width="0.8" fill="none"/>
<circle cx="560.6" cy="280.7" r="2.5" stroke="#8fb4e9" stroke-width="0.8" fill="none"/>
<circle cx="561.3" cy="277.9" r="2.5" stroke="#8fb4e9" stroke-width="0.8" fill="none"/>
<circle cx="560.7" cy="275.1" r="2.5" stroke="#8fb4e9" stroke-width="0.8" fill="none"/>
<circle cx="560.0" cy="271.3" r="2.5" stroke="#8fb4e9" stroke-width="0.8" fill="none"/>
<circle cx="561.3" cy="269.5" r="2.5" stroke="#8fb4e9" stroke-width="0.8" fill="none"/>
<circle cx="560.3" cy="264.8" r="2.5" stroke="#8fb4e9" stroke-width="0.8" fill="none"/>
<circle cx="561.3" cy="262.9" r="2.5" stroke="#8fb4e9" stroke-width="0.8" fill="none"/>
<circle cx="560.7" cy="261.0" r="2.5" stroke="#8fb4e9" stroke-width="0.8" fill="none"/>
<circle cx="560.4" cy="260.1" r="2.5" stroke="#8fb4e9" stroke-width="0.8" fill="none"/>
<circle cx="560.6" cy="227.7" r="2.5" stroke="#8fb4e9" stroke-width="0.8" fill="none"/>
<path d="M584.0,339.5 L582.3,338.0 L582.0,333.0 L582.7,328.0 L584.0,326.0 L587.0,324.0 L590.0,321.5 L591.7,319.0 L592.3,316.0 L592.5,308.0 L598.5,308.0 L598.7,316.0 L599.3,319.0 L601.0,321.5 L604.0,324.0 L607.0,326.0 L608.3,328.0 L609.0,333.0 L608.7,338.0 L607.0,339.5 Z" fill="#3d9f25" stroke="none" stroke-linejoin="round"/>
<circle cx="586.9" cy="327.1" r="2.5" stroke="#45a82c" stroke-width="0.8" fill="none"/>
<circle cx="592.9" cy="320.9" r="2.5" stroke="#45a82c" stroke-width="0.8" fill="none"/>
<circle cx="592.1" cy="337.2" r="2.5" stroke="#45a82c" stroke-width="0.8" fill="none"/>
<circle cx="594.9" cy="320.4" r="2.5" stroke="#45a82c" stroke-width="0.8" fill="none"/>
<circle cx="598.6" cy="332.1" r="2.5" stroke="#45a82c" stroke-width="0.8" fill="none"/>
<circle cx="592.1" cy="337.4" r="2.5" stroke="#45a82c" stroke-width="0.8" fill="none"/>
<circle cx="584.7" cy="338.1" r="2.5" stroke="#45a82c" stroke-width="0.8" fill="none"/>
<circle cx="595.4" cy="323.0" r="2.5" stroke="#45a82c" stroke-width="0.8" fill="none"/>
<circle cx="593.6" cy="332.3" r="2.5" stroke="#45a82c" stroke-width="0.8" fill="none"/>
<circle cx="596.5" cy="334.9" r="2.5" stroke="#45a82c" stroke-width="0.8" fill="none"/>
<circle cx="595.0" cy="320.0" r="2.5" stroke="#45a82c" stroke-width="0.8" fill="none"/>
<circle cx="590.0" cy="332.2" r="2.5" stroke="#45a82c" stroke-width="0.8" fill="none"/>
<circle cx="597.2" cy="323.5" r="2.5" stroke="#45a82c" stroke-width="0.8" fill="none"/>
<circle cx="606.1" cy="328.7" r="2.5" stroke="#45a82c" stroke-width="0.8" fill="none"/>
<circle cx="591.2" cy="338.1" r="2.5" stroke="#45a82c" stroke-width="0.8" fill="none"/>
<circle cx="593.6" cy="320.6" r="2.5" stroke="#45a82c" stroke-width="0.8" fill="none"/>
<circle cx="593.9" cy="328.2" r="2.5" stroke="#45a82c" stroke-width="0.8" fill="none"/>
<circle cx="586.5" cy="328.2" r="2.5" stroke="#45a82c" stroke-width="0.8" fill="none"/>
<circle cx="593.9" cy="325.7" r="2.5" stroke="#45a82c" stroke-width="0.8" fill="none"/>
<circle cx="586.7" cy="334.3" r="2.5" stroke="#45a82c" stroke-width="0.8" fill="none"/>
<circle cx="592.8" cy="332.0" r="2.5" stroke="#45a82c" stroke-width="0.8" fill="none"/>
<circle cx="599.6" cy="334.7" r="2.5" stroke="#45a82c" stroke-width="0.8" fill="none"/>
<circle cx="598.0" cy="323.6" r="2.5" stroke="#45a82c" stroke-width="0.8" fill="none"/>
<circle cx="602.3" cy="327.0" r="2.5" stroke="#45a82c" stroke-width="0.8" fill="none"/>
<circle cx="594.5" cy="320.4" r="2.5" stroke="#45a82c" stroke-width="0.8" fill="none"/>
<circle cx="590.9" cy="329.8" r="2.5" stroke="#45a82c" stroke-width="0.8" fill="none"/>
<circle cx="597.1" cy="327.4" r="2.5" stroke="#45a82c" stroke-width="0.8" fill="none"/>
<circle cx="600.7" cy="324.5" r="2.5" stroke="#45a82c" stroke-width="0.8" fill="none"/>
<circle cx="598.8" cy="325.4" r="2.5" stroke="#45a82c" stroke-width="0.8" fill="none"/>
<circle cx="586.7" cy="338.2" r="2.5" stroke="#45a82c" stroke-width="0.8" fill="none"/>
<circle cx="588.2" cy="336.7" r="2.5" stroke="#45a82c" stroke-width="0.8" fill="none"/>
<circle cx="587.2" cy="328.6" r="2.5" stroke="#45a82c" stroke-width="0.8" fill="none"/>
<circle cx="591.2" cy="337.6" r="2.5" stroke="#45a82c" stroke-width="0.8" fill="none"/>
<circle cx="605.9" cy="329.8" r="2.5" stroke="#45a82c" stroke-width="0.8" fill="none"/>
<circle cx="591.2" cy="322.8" r="2.5" stroke="#45a82c" stroke-width="0.8" fill="none"/>
<circle cx="585.1" cy="333.2" r="2.5" stroke="#45a82c" stroke-width="0.8" fill="none"/>
<circle cx="593.3" cy="322.4" r="2.5" stroke="#45a82c" stroke-width="0.8" fill="none"/>
<circle cx="594.7" cy="320.2" r="2.5" stroke="#45a82c" stroke-width="0.8" fill="none"/>
<circle cx="598.3" cy="321.1" r="2.5" stroke="#45a82c" stroke-width="0.8" fill="none"/>
<circle cx="585.1" cy="329.7" r="2.5" stroke="#45a82c" stroke-width="0.8" fill="none"/>
<circle cx="596.0" cy="307.5" r="2.5" stroke="#3d9f25" stroke-width="0.9" fill="none"/>
<circle cx="595.8" cy="310.4" r="2.5" stroke="#3d9f25" stroke-width="0.9" fill="none"/>
<circle cx="595.4" cy="306.8" r="2.5" stroke="#3d9f25" stroke-width="0.9" fill="none"/>
<circle cx="595.8" cy="311.6" r="2.5" stroke="#3d9f25" stroke-width="0.9" fill="none"/>
<circle cx="595.4" cy="311.1" r="2.5" stroke="#3d9f25" stroke-width="0.9" fill="none"/>
<circle cx="596.0" cy="297.0" r="2.5" stroke="#3d9f25" stroke-width="0.9" fill="none"/>
<circle cx="595.2" cy="286.0" r="2.5" stroke="#3d9f25" stroke-width="0.9" fill="none"/>
<circle cx="595.9" cy="283.3" r="2.5" stroke="#3d9f25" stroke-width="0.9" fill="none"/>
<circle cx="594.9" cy="282.5" r="2.5" stroke="#3d9f25" stroke-width="0.9" fill="none"/>
<circle cx="595.6" cy="301.1" r="2.5" stroke="#3d9f25" stroke-width="0.9" fill="none"/>
<circle cx="595.2" cy="297.0" r="2.5" stroke="#3d9f25" stroke-width="0.9" fill="none"/>
<circle cx="595.2" cy="285.3" r="2.5" stroke="#3d9f25" stroke-width="0.9" fill="none"/>
<circle cx="595.1" cy="286.3" r="2.5" stroke="#3d9f25" stroke-width="0.9" fill="none"/>
<circle cx="594.8" cy="283.1" r="2.5" stroke="#3d9f25" stroke-width="0.9" fill="none"/>
<circle cx="594.9" cy="304.1" r="2.5" stroke="#3d9f25" stroke-width="0.9" fill="none"/>
<circle cx="595.8" cy="305.2" r="2.5" stroke="#3d9f25" stroke-width="0.9" fill="none"/>
<circle cx="595.8" cy="296.3" r="2.5" stroke="#3d9f25" stroke-width="0.9" fill="none"/>
<circle cx="595.8" cy="274.2" r="2.5" stroke="#3d9f25" stroke-width="0.9" fill="none"/>
<circle cx="595.4" cy="262.1" r="2.5" stroke="#3d9f25" stroke-width="0.9" fill="none"/>
<circle cx="595.6" cy="230.2" r="2.5" stroke="#3d9f25" stroke-width="0.9" fill="none"/>
<line x1="560.70" y1="305.30" x2="560.70" y2="332.70" stroke="#222" stroke-width="1.7" />
<line x1="554.80" y1="305.30" x2="566.60" y2="305.30" stroke="#222" stroke-width="1.7" />
<line x1="554.80" y1="332.70" x2="566.60" y2="332.70" stroke="#222" stroke-width="1.7" />
<line x1="549.10" y1="319.00" x2="572.30" y2="319.00" stroke="#222" stroke-width="1.7" />
<line x1="549.10" y1="323.30" x2="572.30" y2="323.30" stroke="#e8412c" stroke-width="1.615" />
<line x1="595.50" y1="313.90" x2="595.50" y2="348.40" stroke="#111" stroke-width="1.6" />
<line x1="589.80" y1="313.90" x2="601.50" y2="313.90" stroke="#222" stroke-width="1.6" />
<line x1="584.40" y1="328.70" x2="607.00" y2="328.70" stroke="#222" stroke-width="1.6" />
<line x1="584.40" y1="336.30" x2="607.00" y2="336.30" stroke="#e8412c" stroke-width="1.6" />
<line x1="590.00" y1="343.80" x2="601.00" y2="343.80" stroke="#222" stroke-width="1.3" />
<text x="556.60" y="367.30" font-size="13.4" text-anchor="middle" fill="#8fb4e9" font-style="italic" transform="rotate(-45 556.60 367.30)" >In vivo</text>
<text x="589.00" y="370.00" font-size="13.4" text-anchor="middle" fill="#3d9f25" font-style="italic" transform="rotate(-45 589.00 370.00)" >Ex vivo</text>
<text x="66.30" y="420.30" font-size="17" text-anchor="start" fill="#000" font-weight="bold" >g</text>
<path d="M86.8,441.5 L87.2,441.0 L87.7,441.5 L88.2,442.3 L88.6,441.8 L89.0,441.8 L89.5,440.8 L90.0,441.2 L90.4,441.8 L90.8,442.0 L91.3,440.4 L91.8,441.4 L92.2,442.7 L92.7,441.7 L93.1,441.9 L93.5,442.2 L94.0,440.5 L94.5,441.4 L94.9,441.6 L95.3,441.8 L95.8,442.2 L96.2,441.9 L96.7,441.1 L97.2,441.4 L97.6,441.5 L98.0,441.6 L98.5,441.7 L99.0,442.1 L99.4,440.7 L99.8,441.8 L100.3,442.3 L100.8,441.9 L101.2,442.3 L101.7,441.4 L102.1,441.4 L102.5,440.5 L103.0,441.9 L103.5,441.8 L103.9,442.3 L104.3,441.9 L104.8,440.7 L105.2,426.6 L105.6,408.9 L105.7,413.0 L106.2,422.9 L106.6,429.7 L107.0,434.2 L107.5,436.7 L108.0,439.2 L108.4,438.4 L108.8,440.3 L109.3,439.5 L109.8,440.7 L110.2,441.1 L110.7,440.5 L111.1,441.5 L111.5,441.5 L112.0,441.0 L112.5,441.6 L112.9,441.5 L113.3,441.4 L113.8,441.5 L114.2,439.5 L114.7,430.8 L114.9,427.3 L115.2,430.6 L115.6,434.6 L116.0,436.3 L116.5,439.0 L117.0,439.8 L117.4,440.2 L117.8,440.5 L118.3,441.0 L118.8,441.4 L119.2,442.0 L119.7,440.5 L120.1,442.2 L120.5,441.1 L121.0,441.4 L121.5,441.5 L121.9,440.7 L122.3,441.7 L122.8,441.6 L123.2,441.5 L123.7,441.8 L124.2,441.6 L124.6,441.8 L125.0,441.5 L125.5,441.2 L126.0,442.0 L126.4,441.8 L126.8,441.4 L127.3,441.5 L127.8,442.5 L128.2,441.9 L128.7,441.8 L129.1,442.9 L129.6,441.8 L130.0,441.7 L130.4,442.2 L130.9,440.6 L131.3,442.6 L131.8,441.5 L132.2,441.0 L132.7,441.2 L133.2,441.7 L133.6,441.8 L134.1,441.4 L134.5,441.3 L134.9,441.3 L135.4,441.5 L135.8,442.2 L136.3,441.9 L136.8,442.3 L137.2,441.7 L137.7,441.7 L138.1,441.8 L138.6,441.8 L139.0,442.1 L139.4,441.2 L139.9,441.3 L140.3,440.9 L140.8,442.3 L141.2,442.7 L141.7,441.3 L142.2,442.0 L142.6,440.9 L143.1,441.7 L143.5,441.7 L143.9,441.4 L144.4,441.9 L144.8,441.2 L145.3,441.7 L145.8,442.7 L146.2,442.4 L146.7,441.0 L147.1,441.2 L147.6,442.7 L148.0,441.9 L148.4,440.4 L148.9,441.8 L149.3,439.6 L149.8,440.9 L150.2,441.8 L150.7,441.8 L151.2,441.1 L151.6,441.2 L152.1,441.7 L152.5,442.1 L152.9,441.4 L153.4,441.7 L153.8,441.1 L154.3,441.6 L154.8,441.3 L155.2,442.4 L155.7,442.1 L156.1,442.0 L156.6,442.1 L157.0,441.8 L157.4,441.6 L157.9,442.3 L158.3,441.4 L158.8,441.1 L159.2,441.2 L159.7,432.8 L160.1,417.3 L160.2,418.3 L160.6,426.3 L161.1,431.7 L161.5,435.0 L161.9,437.9 L162.4,439.6 L162.8,440.4 L163.3,440.7 L163.8,440.4 L164.2,441.3 L164.7,441.7 L165.1,441.6 L165.6,441.6 L166.0,441.5 L166.4,441.1 L166.9,442.0 L167.3,441.9 L167.8,441.7 L168.2,441.8 L168.7,441.5 L169.2,440.6 L169.6,442.6 L170.1,441.9 L170.5,441.7 L170.9,441.9 L171.4,441.8 L171.8,441.8 L172.3,441.7 L172.8,442.0 L173.2,440.9 L173.7,442.3 L174.1,440.8 L174.6,441.2 L175.0,441.1 L175.4,441.1 L175.9,441.6 L176.3,442.4 L176.8,442.1 L177.2,442.1 L177.7,440.4 L177.8,440.3 L178.2,440.5 L178.6,440.6 L179.1,441.5 L179.5,441.6 L179.9,441.2 L180.4,441.4 L180.8,441.9 L181.3,440.8 L181.8,441.3 L182.2,441.3 L182.7,442.3 L183.1,441.6 L183.6,441.8 L184.0,441.8 L184.4,441.6 L184.9,440.7 L185.3,440.8 L185.8,441.6 L186.2,442.6 L186.7,441.5 L187.2,442.5 L187.6,442.1 L188.1,442.4 L188.5,442.0 L188.9,441.6 L189.4,441.7 L189.8,442.2 L190.3,442.3 L190.8,442.5 L191.2,442.2 L191.7,441.4 L192.1,441.5 L192.6,442.1 L193.0,442.0 L193.4,443.1 L193.9,441.2 L194.3,442.0 L194.8,441.9 L195.2,441.6 L195.7,438.1 L195.8,437.5 L196.2,438.2 L196.6,440.2 L197.1,440.1 L197.5,440.6 L197.9,442.1 L198.4,441.0 L198.8,441.4 L199.3,441.0 L199.8,441.3 L200.2,441.8 L200.7,442.8 L201.1,441.4 L201.6,441.2 L202.0,442.6 L202.4,441.2 L202.9,442.3 L203.3,442.6 L203.8,442.1 L204.2,442.5 L204.7,441.8 L205.2,442.5 L205.6,441.4 L206.1,442.2 L206.5,442.0 L206.9,441.3 L207.4,443.2 L207.8,441.6 L208.3,441.4 L208.8,442.3 L209.2,441.6 L209.7,442.3 L210.1,440.9 L210.6,435.2 L210.6,434.6 L211.0,436.8 L211.4,439.0 L211.9,439.9 L212.3,440.9 L212.8,441.5 L213.2,441.3 L213.7,441.8 L214.2,441.5 L214.6,441.8 L215.1,442.0 L215.5,441.5 L215.9,441.7 L216.4,441.7 L216.8,442.2 L217.3,441.9 L217.8,441.9 L218.2,442.6 L218.7,441.8 L219.1,441.6 L219.6,441.7 L220.0,442.2 L220.4,442.1 L220.9,442.0 L221.3,441.5 L221.8,442.0 L222.2,442.7 L222.7,442.5 L223.2,441.6 L223.6,441.4 L224.1,442.0 L224.5,442.2 L224.9,442.0 L225.4,441.7 L225.8,441.5 L226.3,442.0 L226.8,441.8 L227.2,442.5 L227.7,441.3 L228.1,441.4 L228.6,436.5 L228.8,432.7 L229.0,434.1 L229.4,437.2 L229.9,438.9 L230.3,439.5 L230.8,440.2 L231.2,440.9 L231.7,441.6 L232.2,441.2 L232.6,441.7 L233.1,441.6 L233.5,442.4 L233.9,441.6 L234.4,442.2 L234.8,442.5 L235.3,442.5 L235.8,441.9 L236.2,443.0 L236.7,442.9 L237.1,441.9 L237.6,441.9 L238.0,442.6 L238.4,442.1 L238.9,441.8 L239.3,442.2 L239.8,442.0 L240.2,442.8 L240.7,442.0 L241.2,442.3 L241.6,441.5 L242.1,442.0 L242.5,438.7 L242.6,439.3 L242.9,440.1 L243.4,440.7 L243.8,439.8 L244.3,441.7 L244.8,442.4 L245.2,442.0 L245.7,441.6 L246.1,442.2 L246.6,443.0 L247.0,442.5 L247.4,442.5 L247.9,441.7 L248.3,441.9 L248.8,442.7 L249.2,442.0 L249.7,441.9 L250.2,442.4 L250.6,442.3 L251.1,442.1 L251.5,442.7 L251.9,442.3 L252.4,442.3 L252.8,441.9 L253.3,442.0 L253.8,442.3 L254.2,442.0 L254.7,443.4 L255.1,442.4 L255.6,442.1 L256.0,442.8 L256.4,442.1 L256.9,442.6 L257.4,442.6 L257.8,442.6 L258.2,442.2 L258.7,442.3 L259.1,441.1 L259.6,443.0 L260.1,441.8 L260.5,442.5 L260.9,442.1 L261.4,441.8 L261.9,441.1 L262.3,442.2 L262.8,442.3 L263.2,442.1 L263.6,442.8 L264.1,441.6 L264.6,442.7 L265.0,442.3 L265.4,441.6 L265.9,439.0 L266.4,439.4 L266.8,440.5 L267.2,441.7 L267.7,441.7 L268.1,441.3 L268.6,442.2 L269.1,442.1 L269.5,442.1 L269.9,441.7 L270.4,441.6 L270.9,442.9 L271.3,443.1 L271.8,443.1 L272.2,442.7 L272.6,441.4 L273.1,442.6 L273.6,442.1 L274.0,441.4 L274.4,441.7 L274.9,441.6 L275.4,442.1 L275.8,442.9 L276.2,442.8 L276.7,442.9 L277.1,442.4 L277.6,442.8 L278.1,442.4 L278.5,442.7 L278.9,442.6 L279.4,442.9 L279.9,442.9 L280.3,438.7 L280.8,428.9 L280.8,429.1 L281.2,432.6 L281.6,436.1 L282.1,438.3 L282.6,440.1 L283.0,440.3 L283.4,441.0 L283.9,442.1 L284.4,442.3 L284.8,442.2 L285.2,441.9 L285.7,441.9 L286.1,442.1 L286.6,442.4 L287.1,442.9 L287.5,443.2 L287.9,442.5 L288.4,441.9 L288.9,443.0 L289.3,442.1 L289.8,442.4 L290.2,442.1 L290.6,442.9 L291.1,442.3 L291.6,442.5 L292.0,442.6 L292.4,442.4 L292.9,442.4 L293.4,442.6 L293.8,441.5 L294.2,442.4 L294.7,442.8 L295.1,442.7 L295.6,442.2 L296.1,443.2 L296.5,441.9 L296.9,442.0 L297.4,442.7 L297.9,442.0 L298.3,442.7 L298.8,442.2 L299.2,441.7 L299.6,442.7 L300.1,442.4 L300.6,442.2 L301.0,443.0 L301.4,442.9 L301.9,440.9 L302.4,442.6 L302.8,442.3 L303.2,442.5 L303.7,442.1 L304.1,442.3 L304.6,442.6 L305.1,443.0 L305.5,442.6 L305.9,442.8 L306.4,442.2 L306.9,443.2 L307.3,442.6 L307.8,442.4 L308.2,442.7 L308.6,442.6 L309.1,438.0 L309.5,428.2 L309.6,428.1 L310.0,432.8 L310.4,436.9 L310.9,438.6 L311.4,440.6 L311.8,441.2 L312.2,440.8 L312.7,442.4 L313.1,441.7 L313.6,442.7 L314.1,441.5 L314.5,442.5 L314.9,443.2 L315.4,442.2 L315.9,442.4 L316.3,442.6 L316.8,443.0 L317.2,442.7 L317.6,442.4 L318.1,441.2 L318.5,435.5 L318.6,435.5 L319.0,438.8 L319.4,439.9 L319.9,441.0 L320.4,442.3 L320.8,442.0 L321.2,442.2 L321.7,442.9 L322.1,442.4 L322.6,442.5 L323.1,442.1 L323.5,442.9 L323.9,443.1 L324.4,442.4 L324.9,443.1 L325.3,442.5 L325.8,442.9 L326.2,442.1 L326.6,443.7 L327.1,442.7 L327.6,442.3 L328.0,442.0 L328.4,442.5 L328.9,442.6 L329.4,442.7 L329.8,442.5 L330.2,443.3" stroke="#000" stroke-width="1.75" fill="none" />
<path d="M86.8,457.8 L89.5,457.8 L89.8,456.8 L90.2,456.9 L90.6,457.8 L97.6,457.8 L97.9,456.8 L98.3,456.9 L98.7,457.8 L104.8,457.8 L105.0,447.0 L105.5,448.1 L105.8,457.8 L112.0,457.8 L112.3,456.5 L112.7,456.6 L113.0,457.8 L114.1,457.8 L114.4,448.7 L114.8,449.6 L115.2,457.8 L119.8,457.8 L120.1,456.5 L120.5,456.7 L120.8,457.8 L128.3,457.8 L128.6,456.1 L129.0,456.2 L129.4,457.8 L148.9,457.8 L149.2,456.1 L149.6,456.2 L150.0,457.8 L159.1,457.8 L159.3,445.5 L159.8,446.7 L160.1,457.8 L162.1,457.8 L162.4,457.1 L162.8,457.2 L163.1,457.8 L164.9,457.8 L165.2,456.4 L165.6,456.5 L166.0,457.8 L169.7,457.8 L170.0,456.9 L170.4,457.0 L170.7,457.8 L173.3,457.8 L173.6,456.1 L174.0,456.3 L174.4,457.8 L177.4,457.8 L177.7,455.3 L178.1,455.6 L178.4,457.8 L180.4,457.8 L180.7,457.2 L181.1,457.2 L181.5,457.8 L184.9,457.8 L185.2,456.4 L185.6,456.6 L186.0,457.8 L189.1,457.8 L189.4,456.7 L189.8,456.8 L190.1,457.8 L194.8,457.8 L195.0,452.9 L195.4,453.4 L195.8,457.8 L200.7,457.8 L201.0,456.3 L201.4,456.4 L201.7,457.8 L203.0,457.8 L203.3,457.2 L203.7,457.2 L204.1,457.8 L206.1,457.8 L206.4,456.6 L206.8,456.7 L207.1,457.8 L209.9,457.8 L210.2,452.9 L210.6,453.4 L210.9,457.8 L221.0,457.8 L221.3,456.2 L221.7,456.4 L222.1,457.8 L228.6,457.8 L228.8,449.7 L229.2,450.5 L229.6,457.8 L235.7,457.8 L236.0,457.0 L236.4,457.1 L236.7,457.8 L242.2,457.8 L242.5,455.5 L242.9,455.7 L243.3,457.8 L249.2,457.8 L249.4,456.2 L249.8,456.4 L250.2,457.8 L254.2,457.8 L254.5,457.0 L254.9,457.0 L255.3,457.8 L261.9,457.8 L262.2,457.0 L262.6,457.1 L262.9,457.8 L265.1,457.8 L265.4,455.5 L265.8,455.7 L266.1,457.8 L269.8,457.8 L270.1,456.9 L270.5,457.0 L270.9,457.8 L274.3,457.8 L274.6,456.7 L275.0,456.8 L275.4,457.8 L280.4,457.8 L280.7,449.1 L281.1,450.0 L281.4,457.8 L283.1,457.8 L283.4,457.0 L283.8,457.1 L284.1,457.8 L302.1,457.8 L302.4,456.2 L302.8,456.4 L303.1,457.8 L308.6,457.8 L308.9,447.0 L309.2,448.1 L309.6,457.8 L312.7,457.8 L313.0,456.4 L313.4,456.5 L313.8,457.8 L315.0,457.8 L315.3,457.1 L315.7,457.1 L316.0,457.8 L317.9,457.8 L318.2,450.8 L318.6,451.5 L318.9,457.8 L321.6,457.8 L321.9,456.3 L322.2,456.4 L322.6,457.8 L330.6,457.8" stroke="#000" stroke-width="1.15" fill="none" />
<path d="M86.8,503.5 L87.2,502.6 L87.7,502.4 L88.2,502.5 L88.6,503.2 L89.0,502.8 L89.5,502.8 L90.0,503.2 L90.4,503.1 L90.8,503.6 L91.3,503.1 L91.8,503.5 L92.2,503.3 L92.7,502.7 L93.1,502.8 L93.5,502.7 L94.0,502.5 L94.5,502.8 L94.9,503.6 L95.3,503.6 L95.8,503.1 L96.2,503.6 L96.7,504.1 L97.2,502.4 L97.6,502.8 L98.0,503.1 L98.5,503.2 L99.0,503.3 L99.4,503.4 L99.8,503.5 L100.3,503.9 L100.8,502.9 L101.2,503.5 L101.7,502.7 L102.1,503.3 L102.5,503.3 L103.0,503.7 L103.5,503.3 L103.9,502.5 L104.3,503.1 L104.8,503.3 L105.2,488.5 L105.6,470.4 L105.7,473.0 L106.2,484.2 L106.6,491.2 L107.0,495.3 L107.5,497.8 L108.0,500.6 L108.4,501.8 L108.8,502.0 L109.3,502.5 L109.8,502.5 L110.2,502.8 L110.7,502.7 L111.1,503.1 L111.5,502.7 L112.0,502.7 L112.5,503.3 L112.9,502.6 L113.3,502.4 L113.8,503.2 L114.2,503.4 L114.7,501.9 L115.2,503.1 L115.6,502.3 L116.0,503.1 L116.5,503.3 L117.0,502.3 L117.4,503.3 L117.8,502.6 L118.3,503.0 L118.8,502.8 L119.2,503.1 L119.7,503.2 L120.1,503.2 L120.5,502.8 L121.0,502.6 L121.5,503.1 L121.9,503.0 L122.3,503.3 L122.8,502.5 L123.2,503.3 L123.7,502.3 L124.2,502.9 L124.6,503.5 L125.0,502.6 L125.5,502.7 L126.0,503.0 L126.4,502.7 L126.8,503.3 L127.3,503.0 L127.8,502.8 L128.2,502.7 L128.7,503.1 L129.1,503.3 L129.6,502.9 L130.0,502.7 L130.4,502.9 L130.9,503.0 L131.3,503.0 L131.8,503.1 L132.2,502.7 L132.7,502.5 L133.2,503.5 L133.6,503.6 L134.1,502.8 L134.5,502.8 L134.9,503.0 L135.4,503.2 L135.8,503.3 L136.3,503.1 L136.8,503.0 L137.2,503.2 L137.7,502.6 L138.1,503.1 L138.6,502.5 L139.0,503.5 L139.4,502.8 L139.9,503.3 L140.3,503.5 L140.8,502.8 L141.2,502.9 L141.7,502.5 L142.2,502.3 L142.6,504.5 L143.1,503.1 L143.5,502.7 L143.9,503.6 L144.4,503.7 L144.8,502.8 L145.3,503.8 L145.8,502.8 L146.2,503.7 L146.7,502.5 L147.1,502.7 L147.6,503.1 L148.0,502.5 L148.4,502.4 L148.9,503.9 L149.3,503.4 L149.8,502.8 L150.2,503.3 L150.7,503.8 L151.2,503.6 L151.6,503.0 L152.1,503.1 L152.5,503.1 L152.9,503.2 L153.4,503.0 L153.8,503.4 L154.3,502.9 L154.8,503.2 L155.2,503.8 L155.7,503.1 L156.1,503.8 L156.6,502.8 L157.0,504.0 L157.4,504.0 L157.9,503.7 L158.3,502.0 L158.8,502.6 L159.2,503.4 L159.7,497.8 L160.2,483.2 L160.2,484.3 L160.6,490.1 L161.1,495.5 L161.5,498.0 L161.9,499.8 L162.4,500.8 L162.8,501.9 L163.3,502.1 L163.8,502.2 L164.2,501.9 L164.7,503.3 L165.1,502.9 L165.6,502.8 L166.0,503.0 L166.4,502.7 L166.9,501.8 L167.3,503.2 L167.8,503.1 L168.2,504.2 L168.7,504.2 L169.2,503.8 L169.6,502.8 L170.1,503.2 L170.5,502.6 L170.9,502.3 L171.4,502.3 L171.8,502.6 L172.3,503.3 L172.8,503.0 L173.2,503.6 L173.7,502.8 L174.1,502.9 L174.6,503.3 L175.0,503.4 L175.4,503.3 L175.9,503.3 L176.3,502.4 L176.8,503.5 L177.2,502.5 L177.7,503.6 L178.2,502.5 L178.6,503.1 L179.1,503.4 L179.5,503.0 L179.9,502.9 L180.4,502.8 L180.8,502.8 L181.3,503.8 L181.8,503.2 L182.2,503.1 L182.7,502.8 L183.1,504.2 L183.6,503.3 L184.0,503.6 L184.4,503.1 L184.9,503.4 L185.3,502.8 L185.8,502.1 L186.2,502.6 L186.7,502.5 L187.2,502.9 L187.6,504.1 L188.1,502.9 L188.5,503.4 L188.9,502.9 L189.4,502.9 L189.8,503.4 L190.3,502.7 L190.8,503.6 L191.2,502.6 L191.7,503.4 L192.1,503.1 L192.6,503.1 L193.0,503.8 L193.4,503.2 L193.9,503.8 L194.3,503.1 L194.8,503.9 L195.2,503.4 L195.7,502.1 L196.2,503.1 L196.6,502.8 L197.1,503.1 L197.5,504.2 L197.9,503.0 L198.4,502.9 L198.8,502.9 L199.3,502.8 L199.8,503.1 L200.2,502.9 L200.7,503.4 L201.1,502.8 L201.6,504.4 L202.0,503.0 L202.4,503.1 L202.9,504.1 L203.3,502.1 L203.8,503.9 L204.2,502.5 L204.7,503.5 L205.2,503.3 L205.6,503.1 L206.1,501.9 L206.5,503.1 L206.9,504.2 L207.4,502.9 L207.8,502.5 L208.3,502.6 L208.8,503.5 L209.2,502.7 L209.7,504.0 L210.1,503.1 L210.6,500.4 L210.8,498.2 L211.0,499.4 L211.4,500.7 L211.9,502.2 L212.3,502.0 L212.8,502.8 L213.2,503.1 L213.7,502.9 L214.2,503.5 L214.6,502.3 L215.1,503.4 L215.5,503.2 L215.9,502.9 L216.4,502.4 L216.8,502.8 L217.3,502.9 L217.8,503.5 L218.2,503.7 L218.7,503.4 L219.1,503.7 L219.6,503.7 L220.0,504.4 L220.4,503.3 L220.9,503.0 L221.3,502.9 L221.8,502.8 L222.2,503.1 L222.7,502.3 L223.2,503.5 L223.6,503.5 L224.1,502.6 L224.5,503.0 L224.9,502.5 L225.4,504.4 L225.8,503.5 L226.3,503.8 L226.8,503.8 L227.2,502.2 L227.7,503.1 L228.1,502.3 L228.6,496.6 L228.7,495.0 L229.0,496.6 L229.4,499.0 L229.9,501.6 L230.3,501.1 L230.8,502.3 L231.2,501.8 L231.7,502.4 L232.2,504.3 L232.6,503.1 L233.1,503.0 L233.5,503.1 L233.9,502.7 L234.4,502.9 L234.8,502.7 L235.3,503.7 L235.8,503.8 L236.2,503.6 L236.7,502.9 L237.1,503.9 L237.6,503.1 L238.0,503.6 L238.4,504.1 L238.9,503.2 L239.3,502.9 L239.8,502.9 L240.2,503.6 L240.7,503.7 L241.2,502.4 L241.6,503.5 L242.1,503.9 L242.5,503.2 L242.9,503.8 L243.4,503.3 L243.8,502.8 L244.3,503.5 L244.8,503.6 L245.2,503.3 L245.7,503.5 L246.1,503.5 L246.6,503.2 L247.0,502.8 L247.4,503.5 L247.9,502.8 L248.3,503.5 L248.8,503.2 L249.2,503.0 L249.7,503.1 L250.2,503.1 L250.6,502.9 L251.1,502.5 L251.5,503.9 L251.9,503.2 L252.4,503.7 L252.8,503.8 L253.3,503.7 L253.8,502.8 L254.2,503.1 L254.7,502.8 L255.1,502.6 L255.6,504.0 L256.0,502.4 L256.4,502.7 L256.9,502.7 L257.4,503.2 L257.8,503.2 L258.2,503.6 L258.7,503.7 L259.1,503.6 L259.6,502.5 L260.1,503.0 L260.5,503.5 L260.9,503.3 L261.4,503.1 L261.9,504.1 L262.3,503.0 L262.8,503.7 L263.2,504.0 L263.6,502.8 L264.1,502.8 L264.6,504.2 L265.0,504.2 L265.4,502.4 L265.9,503.4 L266.4,503.8 L266.8,503.6 L267.2,503.4 L267.7,503.4 L268.1,503.1 L268.6,502.6 L269.1,503.1 L269.5,503.2 L269.9,503.6 L270.4,502.5 L270.9,503.7 L271.3,503.3 L271.8,502.9 L272.2,503.0 L272.6,503.0 L273.1,503.4 L273.6,503.3 L274.0,502.8 L274.4,503.6 L274.9,502.9 L275.4,503.4 L275.8,503.2 L276.2,503.4 L276.7,504.1 L277.1,503.3 L277.6,503.5 L278.1,502.6 L278.5,503.8 L278.9,503.0 L279.4,502.5 L279.9,502.6 L280.3,503.2 L280.8,502.7 L281.2,497.2 L281.5,491.6 L281.6,494.0 L282.1,497.6 L282.6,498.9 L283.0,501.0 L283.4,501.4 L283.9,501.7 L284.4,502.5 L284.8,503.1 L285.2,502.7 L285.7,502.8 L286.1,503.1 L286.6,504.3 L287.1,503.2 L287.5,503.0 L287.9,503.6 L288.4,503.4 L288.9,503.1 L289.3,503.3 L289.8,503.4 L290.2,503.0 L290.6,503.0 L291.1,503.9 L291.6,505.1 L292.0,503.5 L292.4,502.8 L292.9,503.1 L293.4,503.0 L293.8,503.0 L294.2,502.5 L294.7,502.6 L295.1,503.6 L295.6,503.2 L296.1,503.4 L296.5,503.3 L296.9,503.6 L297.4,502.9 L297.9,502.9 L298.3,503.3 L298.8,502.6 L299.2,503.0 L299.6,503.1 L300.1,502.8 L300.6,503.1 L301.0,502.2 L301.4,502.4 L301.9,503.0 L302.4,502.4 L302.8,503.0 L303.2,502.9 L303.7,503.9 L304.1,503.6 L304.6,503.3 L305.1,503.3 L305.5,504.6 L305.9,504.1 L306.4,503.2 L306.9,502.7 L307.3,503.0 L307.8,503.5 L308.2,502.6 L308.6,501.2 L309.1,491.5 L309.2,490.6 L309.6,494.3 L310.0,498.1 L310.4,500.6 L310.9,500.0 L311.4,502.7 L311.8,502.6 L312.2,502.7 L312.7,503.5 L313.1,503.2 L313.6,502.6 L314.1,503.0 L314.5,502.4 L314.9,503.1 L315.4,503.6 L315.9,504.0 L316.3,503.2 L316.8,503.2 L317.2,501.5 L317.6,497.1 L317.6,498.3 L318.1,500.1 L318.6,501.0 L319.0,502.1 L319.4,502.2 L319.9,501.4 L320.4,502.4 L320.8,502.6 L321.2,503.3 L321.7,503.0 L322.1,503.1 L322.6,503.9 L323.1,503.8 L323.5,503.0 L323.9,503.9 L324.4,503.1 L324.9,504.0 L325.3,503.5 L325.8,503.4 L326.2,503.2 L326.6,503.9 L327.1,502.8 L327.6,502.7 L328.0,503.5 L328.4,503.7 L328.9,503.8 L329.4,502.5 L329.8,502.3 L330.2,503.2" stroke="#000" stroke-width="1.75" fill="none" />
<path d="M86.8,520.3 L97.0,520.3 L97.3,519.5 L97.7,519.6 L98.0,520.3 L104.8,520.3 L105.1,509.1 L105.5,510.2 L105.9,520.3 L111.4,520.3 L111.7,519.3 L112.1,519.4 L112.5,520.3 L114.7,520.3 L115.0,519.3 L115.4,519.4 L115.7,520.3 L117.1,520.3 L117.4,519.3 L117.8,519.4 L118.1,520.3 L124.8,520.3 L125.1,518.8 L125.5,518.9 L125.8,520.3 L137.7,520.3 L138.0,519.5 L138.4,519.6 L138.8,520.3 L148.5,520.3 L148.8,519.3 L149.2,519.4 L149.5,520.3 L153.9,520.3 L154.2,519.5 L154.6,519.6 L155.0,520.3 L159.1,520.3 L159.3,510.8 L159.8,511.7 L160.1,520.3 L173.1,520.3 L173.3,517.8 L173.8,518.0 L174.1,520.3 L176.6,520.3 L176.8,518.3 L177.2,518.5 L177.6,520.3 L183.4,520.3 L183.7,518.7 L184.1,518.9 L184.4,520.3 L195.2,520.3 L195.5,519.6 L195.9,519.6 L196.2,520.3 L205.3,520.3 L205.6,518.8 L206.0,519.0 L206.4,520.3 L209.8,520.3 L210.0,515.9 L210.4,516.3 L210.8,520.3 L222.5,520.3 L222.8,519.1 L223.2,519.3 L223.5,520.3 L228.6,520.3 L228.8,513.8 L229.2,514.4 L229.6,520.3 L239.4,520.3 L239.7,519.5 L240.1,519.6 L240.5,520.3 L245.0,520.3 L245.3,519.5 L245.7,519.6 L246.0,520.3 L251.7,520.3 L252.0,518.5 L252.4,518.7 L252.8,520.3 L257.7,520.3 L258.0,519.0 L258.4,519.1 L258.8,520.3 L261.8,520.3 L262.1,518.5 L262.5,518.7 L262.8,520.3 L273.3,520.3 L273.6,519.3 L274.0,519.4 L274.3,520.3 L280.6,520.3 L280.9,512.7 L281.2,513.5 L281.6,520.3 L294.9,520.3 L295.2,519.6 L295.6,519.6 L296.0,520.3 L300.6,520.3 L300.9,518.8 L301.3,519.0 L301.6,520.3 L304.6,520.3 L304.9,519.0 L305.3,519.2 L305.6,520.3 L308.6,520.3 L308.9,510.2 L309.2,511.2 L309.6,520.3 L317.4,520.3 L317.8,514.8 L318.1,515.3 L318.5,520.3 L319.8,520.3 L320.1,519.3 L320.5,519.4 L320.9,520.3 L328.7,520.3 L329.0,518.7 L329.4,518.8 L329.8,520.3 L330.6,520.3" stroke="#000" stroke-width="1.15" fill="none" />
<path d="M86.8,567.9 L87.2,568.1 L87.7,567.8 L88.2,568.5 L88.6,567.8 L89.0,567.7 L89.5,569.2 L90.0,568.5 L90.4,568.0 L90.8,567.8 L91.3,568.8 L91.8,568.1 L92.2,568.2 L92.7,568.6 L93.1,568.1 L93.5,568.9 L94.0,567.8 L94.5,568.2 L94.9,567.5 L95.3,567.8 L95.8,569.5 L96.2,567.4 L96.7,568.3 L97.2,569.3 L97.6,568.2 L98.0,568.9 L98.5,569.0 L99.0,568.6 L99.4,567.8 L99.8,567.7 L100.3,568.5 L100.8,568.1 L101.2,568.9 L101.7,568.7 L102.1,568.0 L102.5,568.2 L103.0,568.0 L103.5,568.7 L103.9,568.2 L104.3,567.8 L104.8,567.5 L105.2,550.5 L105.6,530.0 L105.7,533.3 L106.2,545.9 L106.6,554.5 L107.0,559.5 L107.5,563.1 L108.0,565.2 L108.4,565.7 L108.8,566.5 L109.3,567.4 L109.8,567.3 L110.2,568.6 L110.7,567.7 L111.1,567.7 L111.5,568.4 L112.0,567.8 L112.5,568.9 L112.9,567.4 L113.3,568.6 L113.8,569.1 L114.2,567.1 L114.7,569.0 L115.2,568.8 L115.6,568.5 L116.0,567.4 L116.5,567.9 L117.0,568.4 L117.4,568.6 L117.8,568.6 L118.3,568.0 L118.8,568.9 L119.2,568.4 L119.7,568.2 L120.1,567.6 L120.5,568.0 L121.0,567.3 L121.5,568.0 L121.9,567.7 L122.3,569.3 L122.8,568.2 L123.2,568.2 L123.7,567.1 L123.8,566.7 L124.2,566.7 L124.6,566.8 L125.0,568.1 L125.5,568.4 L126.0,568.7 L126.4,568.7 L126.8,568.8 L127.3,568.0 L127.8,568.2 L128.2,568.4 L128.7,568.0 L129.1,568.8 L129.6,568.5 L130.0,568.5 L130.4,567.5 L130.9,567.8 L131.3,568.9 L131.8,568.5 L132.2,568.8 L132.7,568.6 L133.2,569.2 L133.6,567.7 L134.1,568.0 L134.5,568.0 L134.9,568.2 L135.4,568.0 L135.8,567.7 L136.3,568.7 L136.8,568.9 L137.2,567.6 L137.7,568.3 L138.1,568.8 L138.6,568.3 L139.0,568.6 L139.4,568.5 L139.9,569.2 L140.3,569.2 L140.8,568.6 L141.2,568.8 L141.7,567.8 L142.2,568.6 L142.6,568.4 L143.1,567.7 L143.5,568.7 L143.9,568.8 L144.4,568.1 L144.8,568.1 L145.3,568.5 L145.8,567.9 L146.2,568.3 L146.7,568.7 L147.1,569.1 L147.6,568.5 L148.0,567.9 L148.4,568.7 L148.9,567.1 L149.3,568.5 L149.8,568.0 L150.2,568.9 L150.7,568.6 L151.2,567.9 L151.6,568.8 L152.1,568.3 L152.5,567.8 L152.9,568.6 L153.4,567.9 L153.8,568.5 L154.3,569.0 L154.8,569.2 L155.2,567.3 L155.7,568.2 L156.1,568.5 L156.6,568.7 L157.0,568.5 L157.4,568.3 L157.9,568.1 L158.3,569.1 L158.8,567.1 L159.2,552.0 L159.5,543.9 L159.7,548.9 L160.2,554.4 L160.6,559.4 L161.1,563.5 L161.5,565.2 L161.9,566.3 L162.4,566.5 L162.8,558.3 L163.1,553.2 L163.3,555.9 L163.8,560.6 L164.2,563.1 L164.7,565.1 L165.1,566.9 L165.6,567.5 L166.0,568.1 L166.4,567.8 L166.9,568.7 L167.3,568.0 L167.8,568.5 L168.2,568.3 L168.7,567.5 L169.2,568.3 L169.6,567.7 L170.1,567.6 L170.5,568.4 L170.9,568.8 L171.4,567.7 L171.8,567.8 L172.3,568.1 L172.8,568.6 L173.2,567.8 L173.7,568.8 L174.1,568.5 L174.6,567.7 L175.0,568.4 L175.4,569.3 L175.9,568.2 L176.3,568.2 L176.8,568.4 L177.2,568.1 L177.7,555.4 L177.9,552.8 L178.2,556.4 L178.6,560.7 L179.1,563.8 L179.5,565.0 L179.9,566.5 L180.4,566.6 L180.8,567.8 L181.3,567.4 L181.8,568.4 L182.2,569.1 L182.7,568.7 L183.1,568.3 L183.6,567.8 L184.0,568.2 L184.4,568.4 L184.9,568.2 L185.3,568.2 L185.8,568.2 L186.2,568.7 L186.7,567.8 L187.2,569.5 L187.6,568.7 L188.1,567.9 L188.5,568.3 L188.9,568.9 L189.4,568.9 L189.8,568.3 L190.3,568.7 L190.8,569.0 L191.2,568.5 L191.7,569.2 L192.1,568.9 L192.6,567.6 L193.0,568.6 L193.4,568.0 L193.9,568.3 L194.3,568.4 L194.8,568.4 L195.2,567.7 L195.7,569.1 L196.2,568.0 L196.6,568.3 L197.1,569.2 L197.5,568.2 L197.9,567.7 L198.4,569.1 L198.8,568.2 L199.3,569.2 L199.8,569.2 L200.2,567.6 L200.7,569.0 L201.1,568.6 L201.6,569.0 L202.0,568.9 L202.4,568.1 L202.9,568.4 L203.3,567.7 L203.8,568.2 L204.2,568.3 L204.7,568.4 L205.2,568.5 L205.6,569.1 L206.1,569.0 L206.5,569.0 L206.9,567.8 L207.4,568.7 L207.8,569.0 L208.3,568.7 L208.8,567.9 L209.2,569.2 L209.7,568.7 L210.1,568.7 L210.6,567.6 L211.0,568.7 L211.4,568.1 L211.9,569.0 L212.3,568.3 L212.8,568.9 L213.2,568.1 L213.7,568.8 L214.2,568.2 L214.6,568.8 L215.1,568.2 L215.5,568.6 L215.9,569.5 L216.4,568.2 L216.8,567.9 L217.3,569.2 L217.8,568.7 L218.2,569.0 L218.7,569.1 L219.1,567.9 L219.6,569.3 L220.0,568.5 L220.4,569.3 L220.9,568.7 L221.3,568.4 L221.8,569.0 L222.2,569.4 L222.7,569.5 L223.2,567.7 L223.6,568.3 L224.1,567.7 L224.5,568.2 L224.9,568.5 L225.4,568.6 L225.8,569.1 L226.3,568.7 L226.8,569.4 L227.2,567.9 L227.7,568.4 L228.1,568.7 L228.6,569.4 L229.0,568.1 L229.4,564.9 L229.6,563.3 L229.9,565.0 L230.3,567.3 L230.8,566.8 L231.2,566.6 L231.7,568.5 L232.2,567.9 L232.6,568.8 L233.1,569.1 L233.5,568.6 L233.9,568.8 L234.4,568.6 L234.8,568.6 L235.3,568.7 L235.8,567.8 L236.2,569.2 L236.7,568.6 L237.1,568.6 L237.6,569.0 L238.0,568.9 L238.4,568.9 L238.9,569.0 L239.3,568.8 L239.8,568.6 L240.2,567.9 L240.7,568.3 L241.2,569.1 L241.6,568.0 L242.1,568.7 L242.5,569.1 L242.9,568.3 L243.4,567.8 L243.8,568.7 L244.3,568.9 L244.8,568.9 L245.2,568.4 L245.7,568.2 L246.1,569.0 L246.6,568.4 L247.0,568.8 L247.4,568.2 L247.9,568.3 L248.3,569.3 L248.8,567.6 L249.2,568.7 L249.7,569.1 L250.2,569.3 L250.6,568.6 L251.1,568.7 L251.5,568.9 L251.9,568.5 L252.4,567.9 L252.8,568.3 L253.3,568.1 L253.8,569.2 L254.2,567.6 L254.7,569.1 L255.1,568.7 L255.6,567.9 L256.0,569.5 L256.4,568.9 L256.9,568.2 L257.4,567.7 L257.8,568.4 L258.2,569.0 L258.7,568.2 L259.1,568.3 L259.6,568.7 L260.1,568.5 L260.5,568.1 L260.9,568.3 L261.4,568.4 L261.9,568.6 L262.3,568.8 L262.8,569.4 L263.2,568.4 L263.6,568.7 L264.1,568.8 L264.6,568.2 L265.0,568.6 L265.4,568.8 L265.9,569.0 L266.4,568.0 L266.8,568.8 L267.2,569.1 L267.7,567.8 L268.1,568.6 L268.6,568.6 L269.1,568.5 L269.5,569.0 L269.9,568.4 L270.4,568.3 L270.9,568.4 L271.3,568.9 L271.8,569.4 L272.2,569.0 L272.6,569.3 L273.1,568.7 L273.6,568.4 L274.0,568.2 L274.4,568.5 L274.9,568.6 L275.4,568.2 L275.8,568.9 L276.2,568.9 L276.7,569.3 L277.1,569.4 L277.6,568.1 L278.1,568.2 L278.5,568.8 L278.9,569.0 L279.4,568.6 L279.9,568.7 L280.3,568.6 L280.8,565.8 L281.0,564.2 L281.2,564.7 L281.6,566.3 L282.1,567.2 L282.6,567.0 L283.0,567.5 L283.4,568.1 L283.9,568.9 L284.4,568.6 L284.8,568.5 L285.2,569.4 L285.7,568.8 L286.1,568.9 L286.6,568.3 L287.1,568.2 L287.5,569.3 L287.9,568.6 L288.4,568.8 L288.9,568.0 L289.3,568.4 L289.8,567.5 L290.0,566.0 L290.2,567.0 L290.6,567.7 L291.1,568.2 L291.6,568.6 L292.0,567.5 L292.4,568.7 L292.9,568.4 L293.4,568.6 L293.8,569.1 L294.2,568.2 L294.7,568.4 L295.1,568.4 L295.6,568.7 L296.1,568.9 L296.5,568.6 L296.9,567.9 L297.4,568.6 L297.9,569.4 L298.3,568.5 L298.8,568.8 L299.2,568.7 L299.6,569.3 L300.1,568.3 L300.6,568.8 L301.0,569.2 L301.4,568.3 L301.9,568.7 L302.4,568.5 L302.8,568.7 L303.2,568.5 L303.7,568.7 L304.1,569.8 L304.6,568.7 L305.1,568.6 L305.5,569.2 L305.9,568.5 L306.4,568.0 L306.9,569.0 L307.3,568.4 L307.8,568.7 L308.2,569.1 L308.6,568.9 L309.1,562.1 L309.3,559.4 L309.6,561.1 L310.0,563.6 L310.4,565.8 L310.9,567.6 L311.4,568.4 L311.8,568.7 L312.2,568.1 L312.7,568.3 L313.1,568.9 L313.6,567.8 L314.1,567.9 L314.5,567.9 L314.9,568.6 L315.4,568.5 L315.9,568.0 L316.3,568.2 L316.8,569.2 L317.2,568.8 L317.6,568.7 L318.1,568.7 L318.6,568.3 L319.0,568.3 L319.4,568.3 L319.9,568.2 L320.4,569.6 L320.8,568.9 L321.2,569.3 L321.7,568.8 L322.1,569.1 L322.6,569.6 L323.1,568.2 L323.5,569.3 L323.9,569.0 L324.4,568.0 L324.9,568.2 L325.3,568.1 L325.8,568.3 L326.2,568.9 L326.6,568.4 L327.1,568.6 L327.6,567.7 L328.0,568.6 L328.4,569.0 L328.9,568.9 L329.4,568.4 L329.8,568.7 L330.2,569.1" stroke="#000" stroke-width="1.75" fill="none" />
<path d="M86.8,585.0 L90.2,585.0 L90.5,583.3 L90.9,583.4 L91.2,585.0 L96.5,585.0 L96.8,583.6 L97.2,583.7 L97.6,585.0 L100.8,585.0 L101.1,583.4 L101.5,583.6 L101.9,585.0 L105.0,585.0 L105.2,572.7 L105.7,573.9 L106.0,585.0 L119.1,585.0 L119.4,583.6 L119.8,583.8 L120.2,585.0 L123.3,585.0 L123.6,582.5 L124.0,582.8 L124.4,585.0 L130.6,585.0 L130.9,583.5 L131.3,583.7 L131.7,585.0 L134.6,585.0 L134.9,583.8 L135.3,583.9 L135.7,585.0 L141.8,585.0 L142.1,583.7 L142.5,583.8 L142.9,585.0 L155.7,585.0 L156.0,584.1 L156.4,584.2 L156.8,585.0 L159.0,585.0 L159.2,569.6 L159.7,571.1 L160.0,585.0 L162.6,585.0 L162.8,573.4 L163.2,574.6 L163.6,585.0 L165.8,585.0 L166.1,584.1 L166.5,584.2 L166.9,585.0 L173.5,585.0 L173.8,583.2 L174.2,583.4 L174.6,585.0 L177.0,585.0 L177.2,574.9 L177.7,575.9 L178.0,585.0 L184.6,585.0 L184.9,583.7 L185.3,583.8 L185.7,585.0 L186.8,585.0 L187.1,583.3 L187.5,583.5 L187.8,585.0 L205.9,585.0 L206.2,583.8 L206.6,583.9 L207.0,585.0 L220.8,585.0 L221.1,584.0 L221.5,584.1 L221.9,585.0 L226.2,585.0 L226.5,583.7 L226.9,583.8 L227.3,585.0 L228.6,585.0 L228.8,579.1 L229.2,579.7 L229.6,585.0 L240.7,585.0 L241.0,583.3 L241.4,583.5 L241.7,585.0 L250.7,585.0 L251.0,583.7 L251.4,583.8 L251.7,585.0 L257.3,585.0 L257.6,583.9 L258.0,584.0 L258.4,585.0 L261.7,585.0 L262.0,583.2 L262.4,583.4 L262.7,585.0 L272.6,585.0 L272.9,584.3 L273.3,584.4 L273.6,585.0 L277.6,585.0 L277.9,584.2 L278.3,584.3 L278.6,585.0 L280.6,585.0 L280.9,580.0 L281.2,580.5 L281.6,585.0 L287.3,585.0 L287.6,584.3 L288.0,584.4 L288.4,585.0 L291.3,585.0 L291.6,583.2 L292.0,583.4 L292.4,585.0 L295.8,585.0 L296.1,583.4 L296.5,583.6 L296.9,585.0 L298.8,585.0 L299.1,583.9 L299.5,584.0 L299.9,585.0 L308.7,585.0 L309.0,578.0 L309.4,578.7 L309.7,585.0 L312.6,585.0 L312.9,583.0 L313.2,583.2 L313.6,585.0 L316.6,585.0 L316.9,583.5 L317.2,583.6 L317.6,585.0 L319.6,585.0 L319.9,583.0 L320.2,583.2 L320.6,585.0 L330.6,585.0" stroke="#000" stroke-width="1.15" fill="none" />
<line x1="85.90" y1="531.60" x2="85.90" y2="552.40" stroke="#000" stroke-width="1.3" />
<text x="83.40" y="591.70" font-size="13.3" fill="#000" transform="rotate(-90 83.40 591.70)" textLength="69.0" lengthAdjust="spacingAndGlyphs">100 %dF/F</text>
<text x="86.20" y="521.40" font-size="9.5" fill="#000" transform="rotate(-90 86.20 521.40)">0</text>
<line x1="298.20" y1="588.90" x2="331.10" y2="588.90" stroke="#000" stroke-width="1.6" />
<line x1="331.00" y1="579.10" x2="331.00" y2="588.90" stroke="#000" stroke-width="1.3" />
<text x="302.40" y="602.20" font-size="13.3" text-anchor="start" fill="#000" textLength="21.7" lengthAdjust="spacingAndGlyphs" >50s</text>
<text x="344.30" y="596.70" font-size="13.3" fill="#000" transform="rotate(-90 344.30 596.70)" textLength="34.0" lengthAdjust="spacingAndGlyphs">10Hz</text>
<text x="344.60" y="419.50" font-size="17" text-anchor="start" fill="#000" font-weight="bold" >h</text>
<rect x="402.10" y="525.10" width="2.43" height="25.80" fill="#99bbe9" stroke="#425776" stroke-width="0.5"/>
<rect x="404.53" y="495.00" width="2.43" height="55.90" fill="#99bbe9" stroke="#425776" stroke-width="0.5"/>
<rect x="406.96" y="438.20" width="2.43" height="112.70" fill="#99bbe9" stroke="#425776" stroke-width="0.5"/>
<rect x="409.39" y="454.10" width="2.43" height="96.80" fill="#99bbe9" stroke="#425776" stroke-width="0.5"/>
<rect x="411.82" y="474.10" width="2.43" height="76.80" fill="#99bbe9" stroke="#425776" stroke-width="0.5"/>
<rect x="414.25" y="489.20" width="2.43" height="61.70" fill="#99bbe9" stroke="#425776" stroke-width="0.5"/>
<rect x="416.68" y="499.20" width="2.43" height="51.70" fill="#99bbe9" stroke="#425776" stroke-width="0.5"/>
<rect x="419.11" y="495.90" width="2.43" height="55.00" fill="#99bbe9" stroke="#425776" stroke-width="0.5"/>
<rect x="421.54" y="508.20" width="2.43" height="42.70" fill="#99bbe9" stroke="#425776" stroke-width="0.5"/>
<rect x="423.97" y="512.20" width="2.43" height="38.70" fill="#99bbe9" stroke="#425776" stroke-width="0.5"/>
<rect x="426.40" y="505.10" width="2.43" height="45.80" fill="#99bbe9" stroke="#425776" stroke-width="0.5"/>
<rect x="428.83" y="512.20" width="2.43" height="38.70" fill="#99bbe9" stroke="#425776" stroke-width="0.5"/>
<rect x="431.26" y="519.90" width="2.43" height="31.00" fill="#99bbe9" stroke="#425776" stroke-width="0.5"/>
<rect x="433.69" y="519.90" width="2.43" height="31.00" fill="#99bbe9" stroke="#425776" stroke-width="0.5"/>
<rect x="436.12" y="530.20" width="2.43" height="20.70" fill="#99bbe9" stroke="#425776" stroke-width="0.5"/>
<rect x="438.55" y="532.60" width="2.43" height="18.30" fill="#99bbe9" stroke="#425776" stroke-width="0.5"/>
<rect x="440.98" y="541.40" width="2.43" height="9.50" fill="#99bbe9" stroke="#425776" stroke-width="0.5"/>
<rect x="443.41" y="541.90" width="2.43" height="9.00" fill="#99bbe9" stroke="#425776" stroke-width="0.5"/>
<rect x="445.84" y="542.30" width="2.43" height="8.60" fill="#99bbe9" stroke="#425776" stroke-width="0.5"/>
<rect x="448.27" y="542.90" width="2.43" height="8.00" fill="#99bbe9" stroke="#425776" stroke-width="0.5"/>
<rect x="450.70" y="547.90" width="2.43" height="3.00" fill="#99bbe9" stroke="#425776" stroke-width="0.5"/>
<rect x="453.13" y="547.90" width="2.43" height="3.00" fill="#99bbe9" stroke="#425776" stroke-width="0.5"/>
<rect x="455.56" y="547.90" width="2.43" height="3.00" fill="#99bbe9" stroke="#425776" stroke-width="0.5"/>
<rect x="457.99" y="545.10" width="2.43" height="5.80" fill="#99bbe9" stroke="#425776" stroke-width="0.5"/>
<rect x="460.42" y="546.20" width="2.43" height="4.70" fill="#99bbe9" stroke="#425776" stroke-width="0.5"/>
<rect x="462.85" y="547.90" width="2.43" height="3.00" fill="#99bbe9" stroke="#425776" stroke-width="0.5"/>
<rect x="465.28" y="550.50" width="2.43" height="0.40" fill="#99bbe9" stroke="#425776" stroke-width="0.5"/>
<rect x="467.71" y="550.10" width="2.43" height="0.80" fill="#99bbe9" stroke="#425776" stroke-width="0.5"/>
<rect x="470.14" y="550.10" width="2.43" height="0.80" fill="#99bbe9" stroke="#425776" stroke-width="0.5"/>
<line x1="400.40" y1="418.40" x2="400.40" y2="551.50" stroke="#000" stroke-width="1.3" />
<line x1="395.10" y1="550.90" x2="400.40" y2="550.90" stroke="#000" stroke-width="1.2" />
<line x1="395.10" y1="506.93" x2="400.40" y2="506.93" stroke="#000" stroke-width="1.2" />
<line x1="395.10" y1="462.97" x2="400.40" y2="462.97" stroke="#000" stroke-width="1.2" />
<line x1="395.10" y1="419.00" x2="400.40" y2="419.00" stroke="#000" stroke-width="1.2" />
<text x="392.60" y="555.35" font-size="13.7" text-anchor="end" fill="#000" textLength="25.3" lengthAdjust="spacingAndGlyphs" >0.00</text>
<text x="392.60" y="511.38" font-size="13.7" text-anchor="end" fill="#000" textLength="25.3" lengthAdjust="spacingAndGlyphs" >0.05</text>
<text x="392.60" y="467.42" font-size="13.7" text-anchor="end" fill="#000" textLength="25.3" lengthAdjust="spacingAndGlyphs" >0.10</text>
<text x="392.60" y="423.45" font-size="13.7" text-anchor="end" fill="#000" textLength="25.3" lengthAdjust="spacingAndGlyphs" >0.15</text>
<line x1="399.80" y1="550.90" x2="478.90" y2="550.90" stroke="#000" stroke-width="1.3" />
<line x1="400.40" y1="550.90" x2="400.40" y2="556.20" stroke="#000" stroke-width="1.2" />
<line x1="439.50" y1="550.90" x2="439.50" y2="556.20" stroke="#000" stroke-width="1.2" />
<line x1="478.60" y1="550.90" x2="478.60" y2="556.20" stroke="#000" stroke-width="1.2" />
<text x="400.40" y="569.30" font-size="13.7" text-anchor="middle" fill="#000" textLength="17.6" lengthAdjust="spacingAndGlyphs" >0.0</text>
<text x="439.50" y="569.30" font-size="13.7" text-anchor="middle" fill="#000" textLength="17.6" lengthAdjust="spacingAndGlyphs" >0.5</text>
<text x="478.60" y="569.30" font-size="13.7" text-anchor="middle" fill="#000" textLength="17.6" lengthAdjust="spacingAndGlyphs" >1.0</text>
<text x="414.00" y="582.30" font-size="12.9" text-anchor="start" fill="#000" textLength="50.5" lengthAdjust="spacingAndGlyphs" >Average</text>
<text x="387.50" y="598.90" font-size="12.9" text-anchor="start" fill="#000" textLength="95.8" lengthAdjust="spacingAndGlyphs" >Firing Rate (Hz)</text>
<text x="361.60" y="545.30" font-size="13.9" fill="#000" transform="rotate(-90 361.60 545.30)" textLength="117.5" lengthAdjust="spacingAndGlyphs">Relative Frequency</text>
<text x="487.40" y="419.50" font-size="17" text-anchor="start" fill="#000" font-weight="bold" >i</text>
<rect x="541.40" y="542.90" width="1.73" height="8.30" fill="#99bbe9" stroke="#425776" stroke-width="0.5"/>
<rect x="543.13" y="531.40" width="1.73" height="19.80" fill="#99bbe9" stroke="#425776" stroke-width="0.5"/>
<rect x="544.86" y="529.50" width="1.73" height="21.70" fill="#99bbe9" stroke="#425776" stroke-width="0.5"/>
<rect x="546.59" y="512.50" width="1.73" height="38.70" fill="#99bbe9" stroke="#425776" stroke-width="0.5"/>
<rect x="548.32" y="493.60" width="1.73" height="57.60" fill="#99bbe9" stroke="#425776" stroke-width="0.5"/>
<rect x="550.05" y="496.90" width="1.73" height="54.30" fill="#99bbe9" stroke="#425776" stroke-width="0.5"/>
<rect x="551.78" y="507.20" width="1.73" height="44.00" fill="#99bbe9" stroke="#425776" stroke-width="0.5"/>
<rect x="553.51" y="505.40" width="1.73" height="45.80" fill="#99bbe9" stroke="#425776" stroke-width="0.5"/>
<rect x="555.24" y="512.50" width="1.73" height="38.70" fill="#99bbe9" stroke="#425776" stroke-width="0.5"/>
<rect x="556.97" y="483.60" width="1.73" height="67.60" fill="#99bbe9" stroke="#425776" stroke-width="0.5"/>
<rect x="558.70" y="500.40" width="1.73" height="50.80" fill="#99bbe9" stroke="#425776" stroke-width="0.5"/>
<rect x="560.43" y="510.60" width="1.73" height="40.60" fill="#99bbe9" stroke="#425776" stroke-width="0.5"/>
<rect x="562.16" y="503.50" width="1.73" height="47.70" fill="#99bbe9" stroke="#425776" stroke-width="0.5"/>
<rect x="563.89" y="478.40" width="1.73" height="72.80" fill="#99bbe9" stroke="#425776" stroke-width="0.5"/>
<rect x="565.62" y="474.70" width="1.73" height="76.50" fill="#99bbe9" stroke="#425776" stroke-width="0.5"/>
<rect x="567.35" y="486.50" width="1.73" height="64.70" fill="#99bbe9" stroke="#425776" stroke-width="0.5"/>
<rect x="569.08" y="469.70" width="1.73" height="81.50" fill="#99bbe9" stroke="#425776" stroke-width="0.5"/>
<rect x="570.81" y="469.70" width="1.73" height="81.50" fill="#99bbe9" stroke="#425776" stroke-width="0.5"/>
<rect x="572.54" y="491.70" width="1.73" height="59.50" fill="#99bbe9" stroke="#425776" stroke-width="0.5"/>
<rect x="574.27" y="492.10" width="1.73" height="59.10" fill="#99bbe9" stroke="#425776" stroke-width="0.5"/>
<rect x="576.00" y="508.30" width="1.73" height="42.90" fill="#99bbe9" stroke="#425776" stroke-width="0.5"/>
<rect x="577.73" y="503.50" width="1.73" height="47.70" fill="#99bbe9" stroke="#425776" stroke-width="0.5"/>
<rect x="579.46" y="507.50" width="1.73" height="43.70" fill="#99bbe9" stroke="#425776" stroke-width="0.5"/>
<rect x="581.19" y="517.20" width="1.73" height="34.00" fill="#99bbe9" stroke="#425776" stroke-width="0.5"/>
<rect x="582.92" y="514.10" width="1.73" height="37.10" fill="#99bbe9" stroke="#425776" stroke-width="0.5"/>
<rect x="584.65" y="536.60" width="1.73" height="14.60" fill="#99bbe9" stroke="#425776" stroke-width="0.5"/>
<rect x="586.38" y="534.50" width="1.73" height="16.70" fill="#99bbe9" stroke="#425776" stroke-width="0.5"/>
<rect x="588.11" y="539.70" width="1.73" height="11.50" fill="#99bbe9" stroke="#425776" stroke-width="0.5"/>
<rect x="589.84" y="546.50" width="1.73" height="4.70" fill="#99bbe9" stroke="#425776" stroke-width="0.5"/>
<rect x="591.57" y="549.90" width="1.73" height="1.30" fill="#99bbe9" stroke="#425776" stroke-width="0.5"/>
<rect x="593.30" y="542.90" width="1.73" height="8.30" fill="#99bbe9" stroke="#425776" stroke-width="0.5"/>
<rect x="595.03" y="544.40" width="1.73" height="6.80" fill="#99bbe9" stroke="#425776" stroke-width="0.5"/>
<rect x="596.76" y="544.40" width="1.73" height="6.80" fill="#99bbe9" stroke="#425776" stroke-width="0.5"/>
<rect x="598.49" y="548.40" width="1.73" height="2.80" fill="#99bbe9" stroke="#425776" stroke-width="0.5"/>
<rect x="610.60" y="550.20" width="1.73" height="1.00" fill="#99bbe9" stroke="#425776" stroke-width="0.5"/>
<line x1="541.40" y1="418.40" x2="541.40" y2="551.80" stroke="#000" stroke-width="1.3" />
<line x1="536.10" y1="551.20" x2="541.40" y2="551.20" stroke="#000" stroke-width="1.2" />
<line x1="536.10" y1="485.10" x2="541.40" y2="485.10" stroke="#000" stroke-width="1.2" />
<line x1="536.10" y1="419.00" x2="541.40" y2="419.00" stroke="#000" stroke-width="1.2" />
<text x="533.30" y="555.65" font-size="13.7" text-anchor="end" fill="#000" textLength="25.3" lengthAdjust="spacingAndGlyphs" >0.00</text>
<text x="533.30" y="489.55" font-size="13.7" text-anchor="end" fill="#000" textLength="25.3" lengthAdjust="spacingAndGlyphs" >0.05</text>
<text x="533.30" y="423.45" font-size="13.7" text-anchor="end" fill="#000" textLength="25.3" lengthAdjust="spacingAndGlyphs" >0.10</text>
<line x1="540.80" y1="551.20" x2="619.20" y2="551.20" stroke="#000" stroke-width="1.3" />
<line x1="541.40" y1="551.20" x2="541.40" y2="556.50" stroke="#000" stroke-width="1.2" />
<line x1="576.00" y1="551.20" x2="576.00" y2="556.50" stroke="#000" stroke-width="1.2" />
<line x1="610.60" y1="551.20" x2="610.60" y2="556.50" stroke="#000" stroke-width="1.2" />
<text x="541.40" y="569.30" font-size="13.7" text-anchor="middle" fill="#000" >0</text>
<text x="576.00" y="569.30" font-size="13.7" text-anchor="middle" fill="#000" >20</text>
<text x="610.60" y="569.30" font-size="13.7" text-anchor="middle" fill="#000" >40</text>
<text x="544.30" y="582.30" font-size="12.9" text-anchor="start" fill="#000" textLength="58.3" lengthAdjust="spacingAndGlyphs" >Maximum</text>
<text x="528.80" y="598.90" font-size="12.9" text-anchor="start" fill="#000" textLength="96.3" lengthAdjust="spacingAndGlyphs" >Firing Rate (Hz)</text>
<text x="507.40" y="544.80" font-size="13.9" fill="#000" transform="rotate(-90 507.40 544.80)" textLength="117.5" lengthAdjust="spacingAndGlyphs">Relative Frequency</text>
</svg>
</body></html>
